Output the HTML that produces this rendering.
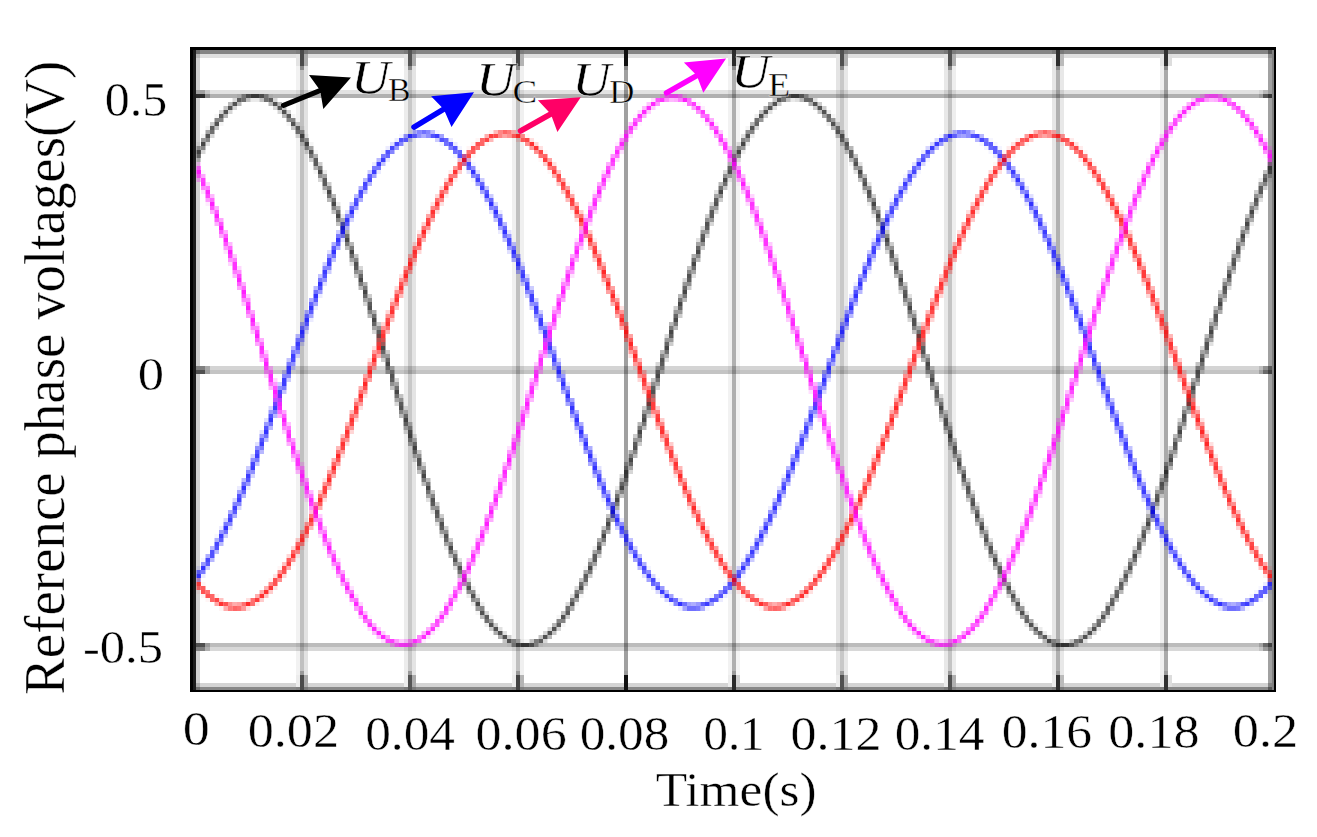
<!DOCTYPE html>
<html><head><meta charset="utf-8"><title>Reference phase voltages</title>
<style>html,body{margin:0;padding:0;background:#fff;width:1317px;height:837px;overflow:hidden}svg{display:block}text{stroke:#fff;stroke-width:0.4px;stroke-linejoin:round}</style>
</head><body>
<svg width="1317" height="837" viewBox="0 0 1317 837" shape-rendering="crispEdges">
<rect x="0" y="0" width="1317" height="837" fill="#fff"/>
<rect x="196" y="50" width="1077" height="4" fill="#858585" />
<rect x="196" y="54" width="1077" height="4" fill="#e0e0e0" />
<rect x="196" y="90" width="1077" height="4" fill="#e2e2e2" />
<rect x="196" y="94" width="1077" height="4" fill="#b0b0b0" />
<rect x="196" y="366" width="1077" height="4" fill="#d4d4d4" />
<rect x="196" y="370" width="1077" height="4" fill="#c4c4c4" />
<rect x="196" y="643" width="1077" height="4" fill="#bcbcbc" />
<rect x="196" y="647" width="1077" height="4" fill="#d8d8d8" />
<rect x="196" y="683" width="1077" height="4" fill="#d4d4d4" />
<rect x="196" y="687" width="1077" height="3" fill="#888888" />
<rect x="296" y="50" width="4" height="640" fill="rgba(0,0,0,0.051)" />
<rect x="304" y="50" width="4" height="640" fill="rgba(0,0,0,0.114)" />
<rect x="300" y="50" width="4" height="640" fill="rgba(0,0,0,0.247)" />
<rect x="300" y="50" width="4" height="16" fill="#4a4a4a" />
<rect x="300" y="66" width="4" height="4" fill="#888888" />
<rect x="304" y="54" width="4" height="12" fill="#ababab" />
<rect x="296" y="54" width="4" height="12" fill="#e4e4e4" />
<rect x="300" y="675" width="4" height="15" fill="#4a4a4a" />
<rect x="300" y="671" width="4" height="4" fill="#999999" />
<rect x="304" y="675" width="4" height="12" fill="#ababab" />
<rect x="296" y="675" width="4" height="12" fill="#ececec" />
<rect x="404" y="50" width="4" height="640" fill="rgba(0,0,0,0.075)" />
<rect x="412" y="50" width="4" height="640" fill="rgba(0,0,0,0.106)" />
<rect x="408" y="50" width="4" height="640" fill="rgba(0,0,0,0.216)" />
<rect x="408" y="50" width="4" height="16" fill="#555555" />
<rect x="408" y="66" width="4" height="4" fill="#888888" />
<rect x="412" y="54" width="4" height="12" fill="#ababab" />
<rect x="404" y="54" width="4" height="12" fill="#e4e4e4" />
<rect x="408" y="675" width="4" height="15" fill="#555555" />
<rect x="408" y="671" width="4" height="4" fill="#999999" />
<rect x="412" y="675" width="4" height="12" fill="#ababab" />
<rect x="404" y="675" width="4" height="12" fill="#ececec" />
<rect x="512" y="50" width="4" height="640" fill="rgba(0,0,0,0.059)" />
<rect x="520" y="50" width="4" height="640" fill="rgba(0,0,0,0.059)" />
<rect x="516" y="50" width="4" height="640" fill="rgba(0,0,0,0.247)" />
<rect x="516" y="50" width="4" height="16" fill="#444444" />
<rect x="516" y="66" width="4" height="4" fill="#888888" />
<rect x="520" y="54" width="4" height="12" fill="#b4b4b4" />
<rect x="512" y="54" width="4" height="12" fill="#e4e4e4" />
<rect x="516" y="675" width="4" height="15" fill="#444444" />
<rect x="516" y="671" width="4" height="4" fill="#999999" />
<rect x="520" y="675" width="4" height="12" fill="#b4b4b4" />
<rect x="512" y="675" width="4" height="12" fill="#ececec" />
<rect x="624" y="50" width="4" height="640" fill="rgba(0,0,0,0.373)" />
<rect x="624" y="50" width="4" height="16" fill="#111111" />
<rect x="624" y="66" width="4" height="4" fill="#888888" />
<rect x="624" y="675" width="4" height="15" fill="#111111" />
<rect x="624" y="671" width="4" height="4" fill="#999999" />
<rect x="728" y="50" width="4" height="640" fill="rgba(0,0,0,0.051)" />
<rect x="736" y="50" width="4" height="640" fill="rgba(0,0,0,0.043)" />
<rect x="732" y="50" width="4" height="640" fill="rgba(0,0,0,0.310)" />
<rect x="732" y="50" width="4" height="16" fill="#2a2a2a" />
<rect x="732" y="66" width="4" height="4" fill="#888888" />
<rect x="736" y="54" width="4" height="12" fill="#d0d0d0" />
<rect x="728" y="54" width="4" height="12" fill="#e4e4e4" />
<rect x="732" y="675" width="4" height="15" fill="#2a2a2a" />
<rect x="732" y="671" width="4" height="4" fill="#999999" />
<rect x="736" y="675" width="4" height="12" fill="#d0d0d0" />
<rect x="728" y="675" width="4" height="12" fill="#ececec" />
<rect x="836" y="50" width="4" height="640" fill="rgba(0,0,0,0.106)" />
<rect x="844" y="50" width="4" height="640" fill="rgba(0,0,0,0.090)" />
<rect x="840" y="50" width="4" height="640" fill="rgba(0,0,0,0.216)" />
<rect x="840" y="50" width="4" height="16" fill="#505050" />
<rect x="840" y="66" width="4" height="4" fill="#888888" />
<rect x="844" y="54" width="4" height="12" fill="#b0b0b0" />
<rect x="836" y="54" width="4" height="12" fill="#e4e4e4" />
<rect x="840" y="675" width="4" height="15" fill="#505050" />
<rect x="840" y="671" width="4" height="4" fill="#999999" />
<rect x="844" y="675" width="4" height="12" fill="#b0b0b0" />
<rect x="836" y="675" width="4" height="12" fill="#ececec" />
<rect x="944" y="50" width="4" height="640" fill="rgba(0,0,0,0.090)" />
<rect x="952" y="50" width="4" height="640" fill="rgba(0,0,0,0.067)" />
<rect x="948" y="50" width="4" height="640" fill="rgba(0,0,0,0.231)" />
<rect x="948" y="50" width="4" height="16" fill="#505050" />
<rect x="948" y="66" width="4" height="4" fill="#888888" />
<rect x="952" y="54" width="4" height="12" fill="#b0b0b0" />
<rect x="944" y="54" width="4" height="12" fill="#e4e4e4" />
<rect x="948" y="675" width="4" height="15" fill="#505050" />
<rect x="948" y="671" width="4" height="4" fill="#999999" />
<rect x="952" y="675" width="4" height="12" fill="#b0b0b0" />
<rect x="944" y="675" width="4" height="12" fill="#ececec" />
<rect x="1052" y="50" width="4" height="640" fill="rgba(0,0,0,0.098)" />
<rect x="1060" y="50" width="4" height="640" fill="rgba(0,0,0,0.090)" />
<rect x="1056" y="50" width="4" height="640" fill="rgba(0,0,0,0.310)" />
<rect x="1056" y="50" width="4" height="16" fill="#2e2e2e" />
<rect x="1056" y="66" width="4" height="4" fill="#888888" />
<rect x="1060" y="54" width="4" height="12" fill="#bbbbbb" />
<rect x="1052" y="54" width="4" height="12" fill="#e4e4e4" />
<rect x="1056" y="675" width="4" height="15" fill="#2e2e2e" />
<rect x="1056" y="671" width="4" height="4" fill="#999999" />
<rect x="1060" y="675" width="4" height="12" fill="#bbbbbb" />
<rect x="1052" y="675" width="4" height="12" fill="#ececec" />
<rect x="1160" y="50" width="4" height="640" fill="rgba(0,0,0,0.059)" />
<rect x="1164" y="50" width="4" height="640" fill="rgba(0,0,0,0.333)" />
<rect x="1164" y="50" width="4" height="16" fill="#303030" />
<rect x="1164" y="66" width="4" height="4" fill="#888888" />
<rect x="1168" y="54" width="4" height="12" fill="#dddddd" />
<rect x="1160" y="54" width="4" height="12" fill="#e4e4e4" />
<rect x="1164" y="675" width="4" height="15" fill="#303030" />
<rect x="1164" y="671" width="4" height="4" fill="#999999" />
<rect x="1168" y="675" width="4" height="12" fill="#dddddd" />
<rect x="1160" y="675" width="4" height="12" fill="#ececec" />
<rect x="196" y="50" width="4" height="640" fill="rgba(0,0,0,0.185)" />
<rect x="1268" y="50" width="4" height="640" fill="rgba(0,0,0,0.37)" />
<rect x="1272" y="50" width="2" height="640" fill="#808080" />
<rect x="196" y="90" width="9" height="4" fill="#a0a0a0" />
<rect x="205" y="90" width="5" height="4" fill="#c8c8c8" />
<rect x="196" y="94" width="9" height="4" fill="#2a2a2a" />
<rect x="205" y="94" width="5" height="4" fill="#888888" />
<rect x="196" y="366" width="9" height="4" fill="#808080" />
<rect x="205" y="366" width="5" height="4" fill="#a8a8a8" />
<rect x="196" y="370" width="9" height="4" fill="#505050" />
<rect x="205" y="370" width="5" height="4" fill="#a0a0a0" />
<rect x="196" y="643" width="9" height="4" fill="#505050" />
<rect x="205" y="643" width="5" height="4" fill="#9a9a9a" />
<rect x="196" y="647" width="9" height="4" fill="#808080" />
<rect x="205" y="647" width="5" height="4" fill="#b0b0b0" />
<rect x="1268" y="90" width="4" height="4" fill="#9a9a9a" />
<rect x="1263" y="90" width="5" height="4" fill="#b8b8b8" />
<rect x="1259" y="90" width="4" height="4" fill="#d4d4d4" />
<rect x="1268" y="94" width="4" height="4" fill="#333333" />
<rect x="1263" y="94" width="5" height="4" fill="#555555" />
<rect x="1259" y="94" width="4" height="4" fill="#999999" />
<rect x="1268" y="366" width="4" height="4" fill="#5a5a5a" />
<rect x="1263" y="366" width="5" height="4" fill="#909090" />
<rect x="1259" y="366" width="4" height="4" fill="#bcbcbc" />
<rect x="1268" y="370" width="4" height="4" fill="#404040" />
<rect x="1263" y="370" width="5" height="4" fill="#6a6a6a" />
<rect x="1259" y="370" width="4" height="4" fill="#a0a0a0" />
<rect x="1268" y="643" width="4" height="4" fill="#404040" />
<rect x="1263" y="643" width="5" height="4" fill="#6a6a6a" />
<rect x="1259" y="643" width="4" height="4" fill="#a0a0a0" />
<rect x="1268" y="647" width="4" height="4" fill="#707070" />
<rect x="1263" y="647" width="5" height="4" fill="#9a9a9a" />
<rect x="1259" y="647" width="4" height="4" fill="#c4c4c4" />
<g shape-rendering="crispEdges">
<path d="M196.5 142h4.5v4h-4.5zM201 134h4.5v4h-4.5zM205.5 126h4.5v4h-4.5zM214.5 114h4.5v4h-4.5zM219 122h4.5v4h-4.5zM237 94h4.5v4h-4.5zM268.5 94h4.5v4h-4.5zM286.5 122h4.5v4h-4.5zM291 114h4.5v4h-4.5zM300 126h4.5v4h-4.5zM304.5 134h4.5v4h-4.5zM309 142h4.5v4h-4.5zM313.5 150h4.5v4h-4.5zM313.5 170h4.5v4h-4.5zM475.5 611h4.5v4h-4.5zM489 615h4.5v4h-4.5zM507 643h4.5v4h-4.5zM520.5 639h4.5v4h-4.5zM525 639h4.5v4h-4.5zM538.5 643h4.5v4h-4.5zM556.5 615h4.5v4h-4.5zM561 623h4.5v4h-4.5zM574.5 602h4.5v4h-4.5zM579 594h4.5v4h-4.5zM583.5 566h4.5v4h-4.5zM583.5 586h4.5v4h-4.5zM727.5 158h4.5v4h-4.5zM745.5 126h4.5v4h-4.5zM777 94h4.5v4h-4.5zM831 114h4.5v4h-4.5zM849 162h4.5v4h-4.5zM997.5 558h4.5v4h-4.5zM997.5 578h4.5v4h-4.5zM1011 586h4.5v4h-4.5zM1015.5 594h4.5v4h-4.5zM1020 602h4.5v4h-4.5zM1060.5 639h4.5v4h-4.5zM1119 574h4.5v4h-4.5zM1267.5 178h4.5v4h-4.5z" fill="#000000" fill-opacity="0.04" shape-rendering="geometricPrecision"/>
<path d="M250.5 98h4.5v4h-4.5zM255 98h4.5v4h-4.5zM322.5 170h4.5v4h-4.5zM322.5 190h4.5v4h-4.5zM336 202h4.5v4h-4.5zM340.5 214h4.5v4h-4.5zM345 226h4.5v4h-4.5zM444 546h4.5v4h-4.5zM462 586h4.5v4h-4.5zM466.5 594h4.5v4h-4.5zM471 586h4.5v4h-4.5zM471 602h4.5v4h-4.5zM475.5 594h4.5v4h-4.5zM480 602h4.5v4h-4.5zM484.5 623h4.5v4h-4.5zM592.5 546h4.5v4h-4.5zM592.5 566h4.5v4h-4.5zM615 486h4.5v4h-4.5zM727.5 178h4.5v4h-4.5zM732 150h4.5v4h-4.5zM741 150h4.5v4h-4.5zM745.5 142h4.5v4h-4.5zM750 134h4.5v4h-4.5zM754.5 114h4.5v4h-4.5zM790.5 98h4.5v4h-4.5zM826.5 110h4.5v4h-4.5zM826.5 122h4.5v4h-4.5zM867 202h4.5v4h-4.5zM871.5 214h4.5v4h-4.5zM876 226h4.5v4h-4.5zM979.5 514h4.5v4h-4.5zM988.5 558h4.5v4h-4.5zM1006.5 578h4.5v4h-4.5zM1015.5 611h4.5v4h-4.5zM1038 627h4.5v4h-4.5zM1042.5 631h4.5v4h-4.5zM1047 643h4.5v4h-4.5zM1065 639h4.5v4h-4.5zM1096.5 615h4.5v4h-4.5zM1096.5 627h4.5v4h-4.5zM1141.5 522h4.5v4h-4.5zM1245 234h4.5v4h-4.5zM1249.5 222h4.5v4h-4.5zM1254 210h4.5v4h-4.5zM1258.5 178h4.5v4h-4.5zM1267.5 158h4.5v4h-4.5z" fill="#000000" fill-opacity="0.08" shape-rendering="geometricPrecision"/>
<path d="M205.5 142h4.5v4h-4.5zM300 142h4.5v4h-4.5zM349.5 262h4.5v4h-4.5zM403.5 406h4.5v4h-4.5zM412.5 434h4.5v4h-4.5zM426 498h4.5v4h-4.5zM430.5 510h4.5v4h-4.5zM435 522h4.5v4h-4.5zM439.5 534h4.5v4h-4.5zM453 566h4.5v4h-4.5zM457.5 558h4.5v4h-4.5zM498 627h4.5v4h-4.5zM502.5 631h4.5v4h-4.5zM570 594h4.5v4h-4.5zM664.5 358h4.5v4h-4.5zM691.5 274h4.5v4h-4.5zM696 238h4.5v4h-4.5zM714 190h4.5v4h-4.5zM736.5 142h4.5v4h-4.5zM736.5 158h4.5v4h-4.5zM741 134h4.5v4h-4.5zM768 110h4.5v4h-4.5zM772.5 106h4.5v4h-4.5zM795 98h4.5v4h-4.5zM813 98h4.5v4h-4.5zM853.5 170h4.5v4h-4.5zM858 162h4.5v4h-4.5zM867 182h4.5v4h-4.5zM880.5 238h4.5v4h-4.5zM907.5 294h4.5v4h-4.5zM916.5 322h4.5v4h-4.5zM975 502h4.5v4h-4.5zM984 526h4.5v4h-4.5zM988.5 538h4.5v4h-4.5zM1002 586h4.5v4h-4.5zM1024.5 611h4.5v4h-4.5zM1024.5 623h4.5v4h-4.5zM1033.5 623h4.5v4h-4.5zM1083 639h4.5v4h-4.5zM1105.5 615h4.5v4h-4.5zM1123.5 566h4.5v4h-4.5zM1128 574h4.5v4h-4.5zM1137 534h4.5v4h-4.5zM1137 554h4.5v4h-4.5zM1146 510h4.5v4h-4.5zM1150.5 498h4.5v4h-4.5zM1164 482h4.5v4h-4.5zM1209 342h4.5v4h-4.5zM1227 262h4.5v4h-4.5zM1227 286h4.5v4h-4.5zM1240.5 246h4.5v4h-4.5zM1258.5 198h4.5v4h-4.5z" fill="#000000" fill-opacity="0.12" shape-rendering="geometricPrecision"/>
<path d="M201 150h4.5v4h-4.5zM210 134h4.5v4h-4.5zM219 110h4.5v4h-4.5zM228 110h4.5v4h-4.5zM232.5 98h4.5v4h-4.5zM232.5 106h4.5v4h-4.5zM273 98h4.5v4h-4.5zM273 106h4.5v4h-4.5zM277.5 110h4.5v4h-4.5zM286.5 110h4.5v4h-4.5zM295.5 134h4.5v4h-4.5zM304.5 150h4.5v4h-4.5zM318 178h4.5v4h-4.5zM358.5 266h4.5v4h-4.5zM363 302h4.5v4h-4.5zM372 330h4.5v4h-4.5zM394.5 378h4.5v4h-4.5zM394.5 402h4.5v4h-4.5zM403.5 430h4.5v4h-4.5zM412.5 458h4.5v4h-4.5zM421.5 462h4.5v4h-4.5zM466.5 578h4.5v4h-4.5zM484.5 611h4.5v4h-4.5zM543 631h4.5v4h-4.5zM543 639h4.5v4h-4.5zM547.5 627h4.5v4h-4.5zM556.5 627h4.5v4h-4.5zM565.5 602h4.5v4h-4.5zM574.5 586h4.5v4h-4.5zM619.5 474h4.5v4h-4.5zM628.5 470h4.5v4h-4.5zM655.5 362h4.5v4h-4.5zM655.5 386h4.5v4h-4.5zM664.5 334h4.5v4h-4.5zM682.5 278h4.5v4h-4.5zM700.5 226h4.5v4h-4.5zM705 234h4.5v4h-4.5zM709.5 202h4.5v4h-4.5zM709.5 222h4.5v4h-4.5zM714 210h4.5v4h-4.5zM723 170h4.5v4h-4.5zM754.5 126h4.5v4h-4.5zM835.5 122h4.5v4h-4.5zM862.5 190h4.5v4h-4.5zM885 250h4.5v4h-4.5zM894 254h4.5v4h-4.5zM898.5 290h4.5v4h-4.5zM907.5 318h4.5v4h-4.5zM916.5 346h4.5v4h-4.5zM939 394h4.5v4h-4.5zM939 418h4.5v4h-4.5zM948 422h4.5v4h-4.5zM948 446h4.5v4h-4.5zM957 450h4.5v4h-4.5zM961.5 486h4.5v4h-4.5zM970.5 490h4.5v4h-4.5zM984 546h4.5v4h-4.5zM1002 570h4.5v4h-4.5zM1006.5 594h4.5v4h-4.5zM1011 602h4.5v4h-4.5zM1047 635h4.5v4h-4.5zM1056 639h4.5v4h-4.5zM1132.5 546h4.5v4h-4.5zM1155 486h4.5v4h-4.5zM1168.5 446h4.5v4h-4.5zM1177.5 418h4.5v4h-4.5zM1200 346h4.5v4h-4.5zM1200 370h4.5v4h-4.5zM1209 318h4.5v4h-4.5zM1218 290h4.5v4h-4.5zM1231.5 250h4.5v4h-4.5z" fill="#000000" fill-opacity="0.16" shape-rendering="geometricPrecision"/>
<path d="M196.5 158h4.5v4h-4.5zM210 122h4.5v4h-4.5zM295.5 122h4.5v4h-4.5zM309 158h4.5v4h-4.5zM318 162h4.5v4h-4.5zM327 182h4.5v4h-4.5zM354 274h4.5v4h-4.5zM367.5 294h4.5v4h-4.5zM376.5 322h4.5v4h-4.5zM381 358h4.5v4h-4.5zM385.5 350h4.5v4h-4.5zM435 502h4.5v4h-4.5zM439.5 514h4.5v4h-4.5zM444 526h4.5v4h-4.5zM448.5 538h4.5v4h-4.5zM489 627h4.5v4h-4.5zM493.5 623h4.5v4h-4.5zM507 635h4.5v4h-4.5zM516 639h4.5v4h-4.5zM565.5 615h4.5v4h-4.5zM588 558h4.5v4h-4.5zM588 574h4.5v4h-4.5zM597 554h4.5v4h-4.5zM624 482h4.5v4h-4.5zM633 434h4.5v4h-4.5zM637.5 442h4.5v4h-4.5zM642 406h4.5v4h-4.5zM646.5 414h4.5v4h-4.5zM669 342h4.5v4h-4.5zM673.5 306h4.5v4h-4.5zM678 314h4.5v4h-4.5zM687 286h4.5v4h-4.5zM700.5 246h4.5v4h-4.5zM705 214h4.5v4h-4.5zM718.5 198h4.5v4h-4.5zM763.5 114h4.5v4h-4.5zM777 102h4.5v4h-4.5zM813 106h4.5v4h-4.5zM817.5 102h4.5v4h-4.5zM822 106h4.5v4h-4.5zM840 142h4.5v4h-4.5zM871.5 194h4.5v4h-4.5zM889.5 242h4.5v4h-4.5zM889.5 262h4.5v4h-4.5zM925.5 374h4.5v4h-4.5zM930 366h4.5v4h-4.5zM966 478h4.5v4h-4.5zM966 498h4.5v4h-4.5zM979.5 534h4.5v4h-4.5zM993 550h4.5v4h-4.5zM1083 631h4.5v4h-4.5zM1087.5 635h4.5v4h-4.5zM1092 631h4.5v4h-4.5zM1123.5 582h4.5v4h-4.5zM1141.5 542h4.5v4h-4.5zM1146 530h4.5v4h-4.5zM1155 506h4.5v4h-4.5zM1159.5 494h4.5v4h-4.5zM1173 454h4.5v4h-4.5zM1182 426h4.5v4h-4.5zM1186.5 390h4.5v4h-4.5zM1191 398h4.5v4h-4.5zM1222.5 298h4.5v4h-4.5zM1236 258h4.5v4h-4.5zM1254 190h4.5v4h-4.5zM1263 186h4.5v4h-4.5z" fill="#000000" fill-opacity="0.20" shape-rendering="geometricPrecision"/>
<path d="M214.5 126h4.5v4h-4.5zM223.5 106h4.5v4h-4.5zM246 98h4.5v4h-4.5zM259.5 98h4.5v4h-4.5zM282 106h4.5v4h-4.5zM291 126h4.5v4h-4.5zM331.5 210h4.5v4h-4.5zM336 222h4.5v4h-4.5zM340.5 234h4.5v4h-4.5zM354 254h4.5v4h-4.5zM390 386h4.5v4h-4.5zM399 394h4.5v4h-4.5zM408 422h4.5v4h-4.5zM417 450h4.5v4h-4.5zM417 470h4.5v4h-4.5zM430.5 490h4.5v4h-4.5zM462 570h4.5v4h-4.5zM502.5 639h4.5v4h-4.5zM529.5 639h4.5v4h-4.5zM538.5 635h4.5v4h-4.5zM552 631h4.5v4h-4.5zM561 611h4.5v4h-4.5zM579 578h4.5v4h-4.5zM601.5 526h4.5v4h-4.5zM601.5 542h4.5v4h-4.5zM606 514h4.5v4h-4.5zM619.5 494h4.5v4h-4.5zM624 462h4.5v4h-4.5zM651 378h4.5v4h-4.5zM660 370h4.5v4h-4.5zM687 266h4.5v4h-4.5zM723 186h4.5v4h-4.5zM732 166h4.5v4h-4.5zM759 110h4.5v4h-4.5zM772.5 98h4.5v4h-4.5zM786 98h4.5v4h-4.5zM817.5 110h4.5v4h-4.5zM835.5 134h4.5v4h-4.5zM840 130h4.5v4h-4.5zM844.5 150h4.5v4h-4.5zM853.5 154h4.5v4h-4.5zM858 178h4.5v4h-4.5zM876 206h4.5v4h-4.5zM880.5 218h4.5v4h-4.5zM885 230h4.5v4h-4.5zM903 282h4.5v4h-4.5zM903 302h4.5v4h-4.5zM912 310h4.5v4h-4.5zM912 330h4.5v4h-4.5zM921 338h4.5v4h-4.5zM934.5 402h4.5v4h-4.5zM943.5 410h4.5v4h-4.5zM943.5 430h4.5v4h-4.5zM952.5 438h4.5v4h-4.5zM952.5 458h4.5v4h-4.5zM970.5 510h4.5v4h-4.5zM975 522h4.5v4h-4.5zM993 566h4.5v4h-4.5zM1069.5 639h4.5v4h-4.5zM1087.5 627h4.5v4h-4.5zM1105.5 602h4.5v4h-4.5zM1110 594h4.5v4h-4.5zM1110 606h4.5v5h-4.5zM1114.5 586h4.5v4h-4.5zM1150.5 518h4.5v4h-4.5zM1159.5 474h4.5v4h-4.5zM1195.5 362h4.5v4h-4.5zM1204.5 354h4.5v4h-4.5zM1213.5 326h4.5v4h-4.5zM1222.5 278h4.5v4h-4.5zM1231.5 270h4.5v4h-4.5zM1236 238h4.5v4h-4.5zM1240.5 226h4.5v4h-4.5zM1245 214h4.5v4h-4.5zM1249.5 202h4.5v4h-4.5zM1263 170h4.5v4h-4.5z" fill="#000000" fill-opacity="0.24" shape-rendering="geometricPrecision"/>
<path d="M223.5 114h4.5v4h-4.5zM228 102h4.5v4h-4.5zM237 102h4.5v4h-4.5zM268.5 102h4.5v4h-4.5zM277.5 102h4.5v4h-4.5zM282 114h4.5v4h-4.5zM327 198h4.5v4h-4.5zM331.5 194h4.5v4h-4.5zM345 246h4.5v4h-4.5zM349.5 242h4.5v4h-4.5zM358.5 286h4.5v4h-4.5zM367.5 314h4.5v4h-4.5zM376.5 342h4.5v4h-4.5zM390 366h4.5v4h-4.5zM399 414h4.5v4h-4.5zM408 442h4.5v4h-4.5zM421.5 482h4.5v4h-4.5zM426 478h4.5v4h-4.5zM448.5 554h4.5v4h-4.5zM453 550h4.5v4h-4.5zM457.5 574h4.5v4h-4.5zM480 615h4.5v4h-4.5zM547.5 635h4.5v4h-4.5zM552 623h4.5v4h-4.5zM583.5 582h4.5v4h-4.5zM610.5 502h4.5v4h-4.5zM633 454h4.5v4h-4.5zM637.5 422h4.5v4h-4.5zM642 426h4.5v4h-4.5zM651 398h4.5v4h-4.5zM660 350h4.5v4h-4.5zM669 322h4.5v4h-4.5zM673.5 326h4.5v4h-4.5zM678 294h4.5v4h-4.5zM682.5 298h4.5v4h-4.5zM696 258h4.5v4h-4.5zM718.5 182h4.5v4h-4.5zM727.5 162h4.5v4h-4.5zM750 122h4.5v4h-4.5zM799.5 98h4.5v4h-4.5zM804 94h4.5v4h-4.5zM844.5 138h4.5v4h-4.5zM849 146h4.5v4h-4.5zM849 158h4.5v4h-4.5zM862.5 174h4.5v4h-4.5zM894 274h4.5v4h-4.5zM921 358h4.5v4h-4.5zM934.5 382h4.5v4h-4.5zM961.5 466h4.5v4h-4.5zM1029 627h4.5v4h-4.5zM1042.5 639h4.5v4h-4.5zM1074 643h4.5v4h-4.5zM1114.5 598h4.5v4h-4.5zM1119 590h4.5v4h-4.5zM1128 558h4.5v4h-4.5zM1132.5 562h4.5v4h-4.5zM1168.5 466h4.5v4h-4.5zM1173 434h4.5v4h-4.5zM1182 406h4.5v4h-4.5zM1195.5 382h4.5v4h-4.5zM1204.5 334h4.5v4h-4.5zM1213.5 306h4.5v4h-4.5zM1267.5 174h4.5v4h-4.5z" fill="#000000" fill-opacity="0.28" shape-rendering="geometricPrecision"/>
<path d="M241.5 94h4.5v4h-4.5zM264 94h4.5v4h-4.5zM313.5 154h4.5v4h-4.5zM313.5 166h4.5v4h-4.5zM336 206h4.5v4h-4.5zM340.5 218h4.5v4h-4.5zM345 230h4.5v4h-4.5zM363 282h4.5v4h-4.5zM372 310h4.5v4h-4.5zM381 338h4.5v4h-4.5zM385.5 370h4.5v4h-4.5zM403.5 410h4.5v4h-4.5zM412.5 438h4.5v4h-4.5zM493.5 631h4.5v4h-4.5zM498 635h4.5v4h-4.5zM534 643h4.5v4h-4.5zM570 606h4.5v5h-4.5zM597 538h4.5v4h-4.5zM606 530h4.5v4h-4.5zM610.5 518h4.5v4h-4.5zM615 490h4.5v4h-4.5zM615 506h4.5v4h-4.5zM628.5 450h4.5v4h-4.5zM646.5 394h4.5v4h-4.5zM664.5 354h4.5v4h-4.5zM691.5 254h4.5v4h-4.5zM763.5 106h4.5v4h-4.5zM768 102h4.5v4h-4.5zM808.5 102h4.5v4h-4.5zM831 126h4.5v4h-4.5zM871.5 210h4.5v4h-4.5zM876 222h4.5v4h-4.5zM880.5 234h4.5v4h-4.5zM898.5 270h4.5v4h-4.5zM925.5 354h4.5v4h-4.5zM930 386h4.5v4h-4.5zM957 470h4.5v4h-4.5zM979.5 518h4.5v4h-4.5zM997.5 562h4.5v4h-4.5zM1011 590h4.5v4h-4.5zM1015.5 598h4.5v4h-4.5zM1029 619h4.5v4h-4.5zM1078.5 635h4.5v4h-4.5zM1119 578h4.5v4h-4.5zM1146 514h4.5v4h-4.5zM1164 462h4.5v4h-4.5zM1177.5 438h4.5v4h-4.5zM1186.5 410h4.5v4h-4.5zM1191 378h4.5v4h-4.5zM1218 310h4.5v4h-4.5zM1227 266h4.5v4h-4.5zM1245 230h4.5v4h-4.5zM1249.5 218h4.5v4h-4.5zM1254 206h4.5v4h-4.5z" fill="#000000" fill-opacity="0.32" shape-rendering="geometricPrecision"/>
<path d="M196.5 146h4.5v4h-4.5zM205.5 130h4.5v4h-4.5zM300 130h4.5v4h-4.5zM309 146h4.5v4h-4.5zM322.5 174h4.5v4h-4.5zM322.5 186h4.5v4h-4.5zM349.5 258h4.5v4h-4.5zM363 298h4.5v4h-4.5zM372 326h4.5v4h-4.5zM394.5 382h4.5v4h-4.5zM394.5 398h4.5v4h-4.5zM403.5 426h4.5v4h-4.5zM412.5 454h4.5v4h-4.5zM421.5 466h4.5v4h-4.5zM426 494h4.5v4h-4.5zM444 542h4.5v4h-4.5zM462 582h4.5v4h-4.5zM511.5 643h4.5v4h-4.5zM574.5 598h4.5v4h-4.5zM579 590h4.5v4h-4.5zM583.5 570h4.5v4h-4.5zM592.5 550h4.5v4h-4.5zM592.5 562h4.5v4h-4.5zM619.5 478h4.5v4h-4.5zM628.5 466h4.5v4h-4.5zM655.5 366h4.5v4h-4.5zM655.5 382h4.5v4h-4.5zM691.5 270h4.5v4h-4.5zM696 242h4.5v4h-4.5zM714 194h4.5v4h-4.5zM727.5 174h4.5v4h-4.5zM781.5 94h4.5v4h-4.5zM822 114h4.5v4h-4.5zM867 198h4.5v4h-4.5zM885 246h4.5v4h-4.5zM898.5 286h4.5v4h-4.5zM907.5 298h4.5v4h-4.5zM907.5 314h4.5v4h-4.5zM916.5 326h4.5v4h-4.5zM916.5 342h4.5v4h-4.5zM939 398h4.5v4h-4.5zM939 414h4.5v4h-4.5zM948 426h4.5v4h-4.5zM948 442h4.5v4h-4.5zM957 454h4.5v4h-4.5zM961.5 482h4.5v4h-4.5zM975 506h4.5v4h-4.5zM984 530h4.5v4h-4.5zM988.5 554h4.5v4h-4.5zM997.5 574h4.5v4h-4.5zM1020 615h4.5v4h-4.5zM1092 623h4.5v4h-4.5zM1101 611h4.5v4h-4.5zM1101 619h4.5v4h-4.5zM1137 550h4.5v4h-4.5zM1141.5 526h4.5v4h-4.5zM1150.5 502h4.5v4h-4.5zM1164 478h4.5v4h-4.5zM1177.5 422h4.5v4h-4.5zM1200 350h4.5v4h-4.5zM1200 366h4.5v4h-4.5zM1209 322h4.5v4h-4.5zM1209 338h4.5v4h-4.5zM1218 294h4.5v4h-4.5zM1227 282h4.5v4h-4.5zM1240.5 242h4.5v4h-4.5zM1258.5 182h4.5v4h-4.5zM1258.5 194h4.5v4h-4.5zM1267.5 162h4.5v4h-4.5z" fill="#000000" fill-opacity="0.36" shape-rendering="geometricPrecision"/>
<path d="M201 138h4.5v4h-4.5zM304.5 138h4.5v4h-4.5zM358.5 270h4.5v4h-4.5zM381 354h4.5v4h-4.5zM385.5 354h4.5v4h-4.5zM430.5 506h4.5v4h-4.5zM435 518h4.5v4h-4.5zM439.5 530h4.5v4h-4.5zM457.5 562h4.5v4h-4.5zM475.5 598h4.5v4h-4.5zM475.5 606h4.5v5h-4.5zM489 619h4.5v4h-4.5zM633 438h4.5v4h-4.5zM637.5 438h4.5v4h-4.5zM642 410h4.5v4h-4.5zM646.5 410h4.5v4h-4.5zM664.5 338h4.5v4h-4.5zM669 338h4.5v4h-4.5zM673.5 310h4.5v4h-4.5zM678 310h4.5v4h-4.5zM682.5 282h4.5v4h-4.5zM700.5 230h4.5v4h-4.5zM705 230h4.5v4h-4.5zM709.5 206h4.5v4h-4.5zM709.5 218h4.5v4h-4.5zM714 206h4.5v4h-4.5zM732 154h4.5v4h-4.5zM741 146h4.5v4h-4.5zM745.5 138h4.5v4h-4.5zM759 118h4.5v4h-4.5zM831 118h4.5v4h-4.5zM853.5 166h4.5v4h-4.5zM867 186h4.5v4h-4.5zM894 258h4.5v4h-4.5zM925.5 370h4.5v4h-4.5zM930 370h4.5v4h-4.5zM970.5 494h4.5v4h-4.5zM988.5 542h4.5v4h-4.5zM1006.5 582h4.5v4h-4.5zM1020 606h4.5v5h-4.5zM1033.5 631h4.5v4h-4.5zM1038 635h4.5v4h-4.5zM1051.5 643h4.5v4h-4.5zM1128 570h4.5v4h-4.5zM1137 538h4.5v4h-4.5zM1155 490h4.5v4h-4.5zM1159.5 490h4.5v4h-4.5zM1168.5 450h4.5v4h-4.5zM1173 450h4.5v4h-4.5zM1186.5 394h4.5v4h-4.5zM1191 394h4.5v4h-4.5zM1231.5 254h4.5v4h-4.5zM1236 254h4.5v4h-4.5z" fill="#000000" fill-opacity="0.40" shape-rendering="geometricPrecision"/>
<path d="M318 174h4.5v4h-4.5zM354 270h4.5v4h-4.5zM367.5 298h4.5v4h-4.5zM376.5 326h4.5v4h-4.5zM390 382h4.5v4h-4.5zM399 398h4.5v4h-4.5zM408 426h4.5v4h-4.5zM417 454h4.5v4h-4.5zM417 466h4.5v4h-4.5zM435 506h4.5v4h-4.5zM439.5 518h4.5v4h-4.5zM444 530h4.5v4h-4.5zM453 562h4.5v4h-4.5zM466.5 590h4.5v4h-4.5zM471 590h4.5v4h-4.5zM471 598h4.5v4h-4.5zM624 466h4.5v4h-4.5zM624 478h4.5v4h-4.5zM651 382h4.5v4h-4.5zM660 366h4.5v4h-4.5zM687 282h4.5v4h-4.5zM700.5 242h4.5v4h-4.5zM705 218h4.5v4h-4.5zM718.5 194h4.5v4h-4.5zM723 174h4.5v4h-4.5zM736.5 146h4.5v4h-4.5zM736.5 154h4.5v4h-4.5zM745.5 130h4.5v4h-4.5zM858 166h4.5v4h-4.5zM862.5 186h4.5v4h-4.5zM889.5 246h4.5v4h-4.5zM889.5 258h4.5v4h-4.5zM903 286h4.5v4h-4.5zM912 314h4.5v4h-4.5zM921 342h4.5v4h-4.5zM934.5 398h4.5v4h-4.5zM943.5 414h4.5v4h-4.5zM952.5 442h4.5v4h-4.5zM952.5 454h4.5v4h-4.5zM966 482h4.5v4h-4.5zM966 494h4.5v4h-4.5zM970.5 506h4.5v4h-4.5zM979.5 530h4.5v4h-4.5zM984 542h4.5v4h-4.5zM1002 582h4.5v4h-4.5zM1051.5 639h4.5v4h-4.5zM1123.5 570h4.5v4h-4.5zM1132.5 550h4.5v4h-4.5zM1141.5 538h4.5v4h-4.5zM1155 502h4.5v4h-4.5zM1159.5 478h4.5v4h-4.5zM1182 422h4.5v4h-4.5zM1195.5 366h4.5v4h-4.5zM1204.5 350h4.5v4h-4.5zM1213.5 322h4.5v4h-4.5zM1222.5 294h4.5v4h-4.5zM1236 242h4.5v4h-4.5zM1254 194h4.5v4h-4.5z" fill="#000000" fill-opacity="0.44" shape-rendering="geometricPrecision"/>
<path d="M201 146h4.5v4h-4.5zM205.5 138h4.5v4h-4.5zM214.5 118h4.5v4h-4.5zM219 118h4.5v4h-4.5zM286.5 118h4.5v4h-4.5zM291 118h4.5v4h-4.5zM300 138h4.5v4h-4.5zM304.5 146h4.5v4h-4.5zM327 186h4.5v4h-4.5zM331.5 206h4.5v4h-4.5zM336 218h4.5v4h-4.5zM340.5 230h4.5v4h-4.5zM354 258h4.5v4h-4.5zM367.5 310h4.5v4h-4.5zM376.5 338h4.5v4h-4.5zM390 370h4.5v4h-4.5zM399 410h4.5v4h-4.5zM408 438h4.5v4h-4.5zM430.5 494h4.5v4h-4.5zM448.5 542h4.5v4h-4.5zM466.5 582h4.5v4h-4.5zM480 606h4.5v5h-4.5zM511.5 639h4.5v4h-4.5zM556.5 619h4.5v4h-4.5zM561 619h4.5v4h-4.5zM588 562h4.5v4h-4.5zM597 550h4.5v4h-4.5zM619.5 490h4.5v4h-4.5zM633 450h4.5v4h-4.5zM651 394h4.5v4h-4.5zM660 354h4.5v4h-4.5zM687 270h4.5v4h-4.5zM696 254h4.5v4h-4.5zM741 138h4.5v4h-4.5zM750 130h4.5v4h-4.5zM871.5 198h4.5v4h-4.5zM885 234h4.5v4h-4.5zM903 298h4.5v4h-4.5zM912 326h4.5v4h-4.5zM921 354h4.5v4h-4.5zM934.5 386h4.5v4h-4.5zM943.5 426h4.5v4h-4.5zM975 518h4.5v4h-4.5zM993 554h4.5v4h-4.5zM1002 574h4.5v4h-4.5zM1015.5 606h4.5v5h-4.5zM1146 526h4.5v4h-4.5zM1150.5 514h4.5v4h-4.5zM1173 438h4.5v4h-4.5zM1182 410h4.5v4h-4.5zM1195.5 378h4.5v4h-4.5zM1204.5 338h4.5v4h-4.5zM1213.5 310h4.5v4h-4.5zM1222.5 282h4.5v4h-4.5zM1231.5 266h4.5v4h-4.5zM1240.5 230h4.5v4h-4.5zM1249.5 206h4.5v4h-4.5zM1263 182h4.5v4h-4.5z" fill="#000000" fill-opacity="0.48" shape-rendering="geometricPrecision"/>
<path d="M196.5 154h4.5v4h-4.5zM309 154h4.5v4h-4.5zM318 166h4.5v4h-4.5zM345 242h4.5v4h-4.5zM349.5 246h4.5v4h-4.5zM358.5 282h4.5v4h-4.5zM363 286h4.5v4h-4.5zM381 342h4.5v4h-4.5zM385.5 366h4.5v4h-4.5zM421.5 478h4.5v4h-4.5zM426 482h4.5v4h-4.5zM534 639h4.5v4h-4.5zM570 598h4.5v4h-4.5zM574.5 590h4.5v4h-4.5zM588 570h4.5v4h-4.5zM601.5 530h4.5v4h-4.5zM601.5 538h4.5v4h-4.5zM606 518h4.5v4h-4.5zM610.5 506h4.5v4h-4.5zM615 502h4.5v4h-4.5zM628.5 454h4.5v4h-4.5zM637.5 426h4.5v4h-4.5zM642 422h4.5v4h-4.5zM646.5 398h4.5v4h-4.5zM669 326h4.5v4h-4.5zM673.5 322h4.5v4h-4.5zM678 298h4.5v4h-4.5zM682.5 294h4.5v4h-4.5zM781.5 98h4.5v4h-4.5zM799.5 94h4.5v4h-4.5zM876 210h4.5v4h-4.5zM880.5 222h4.5v4h-4.5zM894 270h4.5v4h-4.5zM898.5 274h4.5v4h-4.5zM925.5 358h4.5v4h-4.5zM930 382h4.5v4h-4.5zM957 466h4.5v4h-4.5zM961.5 470h4.5v4h-4.5zM993 562h4.5v4h-4.5zM1006.5 590h4.5v4h-4.5zM1011 598h4.5v4h-4.5zM1123.5 578h4.5v4h-4.5zM1164 466h4.5v4h-4.5zM1168.5 462h4.5v4h-4.5zM1177.5 434h4.5v4h-4.5zM1186.5 406h4.5v4h-4.5zM1191 382h4.5v4h-4.5zM1218 306h4.5v4h-4.5zM1245 218h4.5v4h-4.5z" fill="#000000" fill-opacity="0.52" shape-rendering="geometricPrecision"/>
<path d="M210 130h4.5v4h-4.5zM241.5 98h4.5v4h-4.5zM246 94h4.5v4h-4.5zM259.5 94h4.5v4h-4.5zM264 98h4.5v4h-4.5zM295.5 130h4.5v4h-4.5zM327 194h4.5v4h-4.5zM331.5 198h4.5v4h-4.5zM336 210h4.5v4h-4.5zM340.5 222h4.5v4h-4.5zM345 234h4.5v4h-4.5zM349.5 254h4.5v4h-4.5zM372 314h4.5v4h-4.5zM394.5 386h4.5v4h-4.5zM394.5 394h4.5v4h-4.5zM403.5 414h4.5v4h-4.5zM412.5 442h4.5v4h-4.5zM426 490h4.5v4h-4.5zM448.5 550h4.5v4h-4.5zM453 554h4.5v4h-4.5zM457.5 570h4.5v4h-4.5zM462 574h4.5v4h-4.5zM484.5 619h4.5v4h-4.5zM565.5 606h4.5v5h-4.5zM579 582h4.5v4h-4.5zM597 542h4.5v4h-4.5zM606 526h4.5v4h-4.5zM610.5 514h4.5v4h-4.5zM615 494h4.5v4h-4.5zM655.5 370h4.5v4h-4.5zM655.5 378h4.5v4h-4.5zM664.5 350h4.5v4h-4.5zM691.5 258h4.5v4h-4.5zM691.5 266h4.5v4h-4.5zM718.5 186h4.5v4h-4.5zM723 182h4.5v4h-4.5zM732 162h4.5v4h-4.5zM754.5 118h4.5v4h-4.5zM786 94h4.5v4h-4.5zM826.5 118h4.5v4h-4.5zM835.5 126h4.5v4h-4.5zM840 138h4.5v4h-4.5zM844.5 146h4.5v4h-4.5zM853.5 158h4.5v4h-4.5zM858 174h4.5v4h-4.5zM871.5 206h4.5v4h-4.5zM876 218h4.5v4h-4.5zM880.5 230h4.5v4h-4.5zM907.5 302h4.5v4h-4.5zM907.5 310h4.5v4h-4.5zM916.5 330h4.5v4h-4.5zM939 402h4.5v4h-4.5zM939 410h4.5v4h-4.5zM948 430h4.5v4h-4.5zM948 438h4.5v4h-4.5zM1024.5 615h4.5v4h-4.5zM1069.5 643h4.5v4h-4.5zM1074 639h4.5v4h-4.5zM1096.5 619h4.5v4h-4.5zM1105.5 611h4.5v4h-4.5zM1128 562h4.5v4h-4.5zM1132.5 558h4.5v4h-4.5zM1146 518h4.5v4h-4.5zM1164 474h4.5v4h-4.5zM1200 354h4.5v4h-4.5zM1200 362h4.5v4h-4.5zM1209 334h4.5v4h-4.5zM1227 270h4.5v4h-4.5zM1227 278h4.5v4h-4.5zM1245 226h4.5v4h-4.5zM1249.5 214h4.5v4h-4.5zM1263 174h4.5v4h-4.5z" fill="#000000" fill-opacity="0.56" shape-rendering="geometricPrecision"/>
<path d="M358.5 274h4.5v4h-4.5zM363 294h4.5v4h-4.5zM372 322h4.5v4h-4.5zM381 350h4.5v4h-4.5zM385.5 358h4.5v4h-4.5zM403.5 422h4.5v4h-4.5zM412.5 450h4.5v4h-4.5zM421.5 470h4.5v4h-4.5zM444 538h4.5v4h-4.5zM516 643h4.5v4h-4.5zM529.5 643h4.5v4h-4.5zM583.5 578h4.5v4h-4.5zM619.5 482h4.5v4h-4.5zM628.5 462h4.5v4h-4.5zM637.5 434h4.5v4h-4.5zM646.5 406h4.5v4h-4.5zM664.5 342h4.5v4h-4.5zM673.5 314h4.5v4h-4.5zM678 306h4.5v4h-4.5zM682.5 286h4.5v4h-4.5zM696 246h4.5v4h-4.5zM727.5 166h4.5v4h-4.5zM754.5 122h4.5v4h-4.5zM804 98h4.5v4h-4.5zM808.5 98h4.5v4h-4.5zM826.5 114h4.5v4h-4.5zM862.5 178h4.5v4h-4.5zM885 242h4.5v4h-4.5zM894 262h4.5v4h-4.5zM898.5 282h4.5v4h-4.5zM916.5 338h4.5v4h-4.5zM925.5 366h4.5v4h-4.5zM930 374h4.5v4h-4.5zM957 458h4.5v4h-4.5zM961.5 478h4.5v4h-4.5zM975 510h4.5v4h-4.5zM979.5 522h4.5v4h-4.5zM984 534h4.5v4h-4.5zM1024.5 619h4.5v4h-4.5zM1096.5 623h4.5v4h-4.5zM1110 598h4.5v4h-4.5zM1114.5 590h4.5v4h-4.5zM1119 586h4.5v4h-4.5zM1141.5 530h4.5v4h-4.5zM1150.5 506h4.5v4h-4.5zM1168.5 454h4.5v4h-4.5zM1177.5 426h4.5v4h-4.5zM1186.5 398h4.5v4h-4.5zM1191 390h4.5v4h-4.5zM1209 326h4.5v4h-4.5zM1218 298h4.5v4h-4.5zM1240.5 238h4.5v4h-4.5zM1254 202h4.5v4h-4.5zM1267.5 170h4.5v4h-4.5z" fill="#000000" fill-opacity="0.60" shape-rendering="geometricPrecision"/>
<path d="M210 126h4.5v4h-4.5zM219 114h4.5v4h-4.5zM237 98h4.5v4h-4.5zM268.5 98h4.5v4h-4.5zM286.5 114h4.5v4h-4.5zM295.5 126h4.5v4h-4.5zM313.5 158h4.5v4h-4.5zM313.5 162h4.5v4h-4.5zM322.5 178h4.5v4h-4.5zM322.5 182h4.5v4h-4.5zM354 266h4.5v4h-4.5zM367.5 302h4.5v4h-4.5zM376.5 330h4.5v4h-4.5zM390 378h4.5v4h-4.5zM399 402h4.5v4h-4.5zM408 430h4.5v4h-4.5zM430.5 502h4.5v4h-4.5zM435 514h4.5v4h-4.5zM439.5 526h4.5v4h-4.5zM484.5 615h4.5v4h-4.5zM538.5 639h4.5v4h-4.5zM556.5 623h4.5v4h-4.5zM565.5 611h4.5v4h-4.5zM583.5 574h4.5v4h-4.5zM592.5 554h4.5v4h-4.5zM592.5 558h4.5v4h-4.5zM624 474h4.5v4h-4.5zM633 442h4.5v4h-4.5zM642 414h4.5v4h-4.5zM651 386h4.5v4h-4.5zM660 362h4.5v4h-4.5zM669 334h4.5v4h-4.5zM687 278h4.5v4h-4.5zM700.5 234h4.5v4h-4.5zM705 226h4.5v4h-4.5zM709.5 210h4.5v4h-4.5zM709.5 214h4.5v4h-4.5zM714 198h4.5v4h-4.5zM835.5 130h4.5v4h-4.5zM840 134h4.5v4h-4.5zM844.5 142h4.5v4h-4.5zM849 150h4.5v4h-4.5zM849 154h4.5v4h-4.5zM867 194h4.5v4h-4.5zM889.5 254h4.5v4h-4.5zM903 290h4.5v4h-4.5zM921 346h4.5v4h-4.5zM934.5 394h4.5v4h-4.5zM952.5 450h4.5v4h-4.5zM966 490h4.5v4h-4.5zM970.5 498h4.5v4h-4.5zM988.5 550h4.5v4h-4.5zM997.5 566h4.5v4h-4.5zM997.5 570h4.5v4h-4.5zM1033.5 627h4.5v4h-4.5zM1038 631h4.5v4h-4.5zM1042.5 635h4.5v4h-4.5zM1056 643h4.5v4h-4.5zM1078.5 639h4.5v4h-4.5zM1105.5 606h4.5v5h-4.5zM1110 602h4.5v4h-4.5zM1114.5 594h4.5v4h-4.5zM1119 582h4.5v4h-4.5zM1137 542h4.5v4h-4.5zM1137 546h4.5v4h-4.5zM1155 494h4.5v4h-4.5zM1159.5 486h4.5v4h-4.5zM1173 446h4.5v4h-4.5zM1182 418h4.5v4h-4.5zM1195.5 370h4.5v4h-4.5zM1213.5 318h4.5v4h-4.5zM1222.5 290h4.5v4h-4.5zM1231.5 258h4.5v4h-4.5zM1236 250h4.5v4h-4.5zM1258.5 186h4.5v4h-4.5zM1258.5 190h4.5v4h-4.5z" fill="#000000" fill-opacity="0.64" shape-rendering="geometricPrecision"/>
<path d="M196.5 150h4.5v4h-4.5zM205.5 134h4.5v4h-4.5zM214.5 122h4.5v4h-4.5zM223.5 110h4.5v4h-4.5zM228 106h4.5v4h-4.5zM232.5 102h4.5v4h-4.5zM250.5 94h4.5v4h-4.5zM255 94h4.5v4h-4.5zM273 102h4.5v4h-4.5zM277.5 106h4.5v4h-4.5zM282 110h4.5v4h-4.5zM291 122h4.5v4h-4.5zM300 134h4.5v4h-4.5zM309 150h4.5v4h-4.5zM354 262h4.5v4h-4.5zM367.5 306h4.5v4h-4.5zM376.5 334h4.5v4h-4.5zM390 374h4.5v4h-4.5zM399 406h4.5v4h-4.5zM408 434h4.5v4h-4.5zM417 458h4.5v4h-4.5zM417 462h4.5v4h-4.5zM430.5 498h4.5v4h-4.5zM435 510h4.5v4h-4.5zM439.5 522h4.5v4h-4.5zM444 534h4.5v4h-4.5zM453 558h4.5v4h-4.5zM457.5 566h4.5v4h-4.5zM462 578h4.5v4h-4.5zM466.5 586h4.5v4h-4.5zM471 594h4.5v4h-4.5zM480 611h4.5v4h-4.5zM489 623h4.5v4h-4.5zM493.5 627h4.5v4h-4.5zM498 631h4.5v4h-4.5zM502.5 635h4.5v4h-4.5zM507 639h4.5v4h-4.5zM543 635h4.5v4h-4.5zM547.5 631h4.5v4h-4.5zM552 627h4.5v4h-4.5zM561 615h4.5v4h-4.5zM570 602h4.5v4h-4.5zM574.5 594h4.5v4h-4.5zM579 586h4.5v4h-4.5zM624 470h4.5v4h-4.5zM633 446h4.5v4h-4.5zM651 390h4.5v4h-4.5zM660 358h4.5v4h-4.5zM687 274h4.5v4h-4.5zM700.5 238h4.5v4h-4.5zM705 222h4.5v4h-4.5zM714 202h4.5v4h-4.5zM727.5 170h4.5v4h-4.5zM732 158h4.5v4h-4.5zM745.5 134h4.5v4h-4.5zM750 126h4.5v4h-4.5zM759 114h4.5v4h-4.5zM763.5 110h4.5v4h-4.5zM768 106h4.5v4h-4.5zM772.5 102h4.5v4h-4.5zM777 98h4.5v4h-4.5zM790.5 94h4.5v4h-4.5zM795 94h4.5v4h-4.5zM813 102h4.5v4h-4.5zM817.5 106h4.5v4h-4.5zM822 110h4.5v4h-4.5zM831 122h4.5v4h-4.5zM853.5 162h4.5v4h-4.5zM862.5 182h4.5v4h-4.5zM867 190h4.5v4h-4.5zM889.5 250h4.5v4h-4.5zM903 294h4.5v4h-4.5zM912 318h4.5v4h-4.5zM912 322h4.5v4h-4.5zM921 350h4.5v4h-4.5zM934.5 390h4.5v4h-4.5zM943.5 418h4.5v4h-4.5zM943.5 422h4.5v4h-4.5zM952.5 446h4.5v4h-4.5zM966 486h4.5v4h-4.5zM970.5 502h4.5v4h-4.5zM984 538h4.5v4h-4.5zM988.5 546h4.5v4h-4.5zM1006.5 586h4.5v4h-4.5zM1011 594h4.5v4h-4.5zM1015.5 602h4.5v4h-4.5zM1020 611h4.5v4h-4.5zM1029 623h4.5v4h-4.5zM1083 635h4.5v4h-4.5zM1087.5 631h4.5v4h-4.5zM1092 627h4.5v4h-4.5zM1101 615h4.5v4h-4.5zM1123.5 574h4.5v4h-4.5zM1128 566h4.5v4h-4.5zM1141.5 534h4.5v4h-4.5zM1155 498h4.5v4h-4.5zM1159.5 482h4.5v4h-4.5zM1173 442h4.5v4h-4.5zM1182 414h4.5v4h-4.5zM1195.5 374h4.5v4h-4.5zM1204.5 342h4.5v4h-4.5zM1204.5 346h4.5v4h-4.5zM1213.5 314h4.5v4h-4.5zM1222.5 286h4.5v4h-4.5zM1231.5 262h4.5v4h-4.5zM1236 246h4.5v4h-4.5zM1254 198h4.5v4h-4.5zM1263 178h4.5v4h-4.5zM1267.5 166h4.5v4h-4.5z" fill="#000000" fill-opacity="0.68" shape-rendering="geometricPrecision"/>
<path d="M201 142h4.5v4h-4.5zM304.5 142h4.5v4h-4.5zM318 170h4.5v4h-4.5zM327 190h4.5v4h-4.5zM331.5 202h4.5v4h-4.5zM336 214h4.5v4h-4.5zM340.5 226h4.5v4h-4.5zM345 238h4.5v4h-4.5zM349.5 250h4.5v4h-4.5zM358.5 278h4.5v4h-4.5zM363 290h4.5v4h-4.5zM372 318h4.5v4h-4.5zM381 346h4.5v4h-4.5zM385.5 362h4.5v4h-4.5zM394.5 390h4.5v4h-4.5zM403.5 418h4.5v4h-4.5zM412.5 446h4.5v4h-4.5zM421.5 474h4.5v4h-4.5zM426 486h4.5v4h-4.5zM448.5 546h4.5v4h-4.5zM475.5 602h4.5v4h-4.5zM520.5 643h4.5v4h-4.5zM525 643h4.5v4h-4.5zM588 566h4.5v4h-4.5zM597 546h4.5v4h-4.5zM601.5 534h4.5v4h-4.5zM606 522h4.5v4h-4.5zM610.5 510h4.5v4h-4.5zM615 498h4.5v4h-4.5zM619.5 486h4.5v4h-4.5zM628.5 458h4.5v4h-4.5zM637.5 430h4.5v4h-4.5zM642 418h4.5v4h-4.5zM646.5 402h4.5v4h-4.5zM655.5 374h4.5v4h-4.5zM664.5 346h4.5v4h-4.5zM669 330h4.5v4h-4.5zM673.5 318h4.5v4h-4.5zM678 302h4.5v4h-4.5zM682.5 290h4.5v4h-4.5zM691.5 262h4.5v4h-4.5zM696 250h4.5v4h-4.5zM718.5 190h4.5v4h-4.5zM723 178h4.5v4h-4.5zM736.5 150h4.5v4h-4.5zM741 142h4.5v4h-4.5zM858 170h4.5v4h-4.5zM871.5 202h4.5v4h-4.5zM876 214h4.5v4h-4.5zM880.5 226h4.5v4h-4.5zM885 238h4.5v4h-4.5zM894 266h4.5v4h-4.5zM898.5 278h4.5v4h-4.5zM907.5 306h4.5v4h-4.5zM916.5 334h4.5v4h-4.5zM925.5 362h4.5v4h-4.5zM930 378h4.5v4h-4.5zM939 406h4.5v4h-4.5zM948 434h4.5v4h-4.5zM957 462h4.5v4h-4.5zM961.5 474h4.5v4h-4.5zM975 514h4.5v4h-4.5zM979.5 526h4.5v4h-4.5zM993 558h4.5v4h-4.5zM1002 578h4.5v4h-4.5zM1047 639h4.5v4h-4.5zM1060.5 643h4.5v4h-4.5zM1065 643h4.5v4h-4.5zM1132.5 554h4.5v4h-4.5zM1146 522h4.5v4h-4.5zM1150.5 510h4.5v4h-4.5zM1164 470h4.5v4h-4.5zM1168.5 458h4.5v4h-4.5zM1177.5 430h4.5v4h-4.5zM1186.5 402h4.5v4h-4.5zM1191 386h4.5v4h-4.5zM1200 358h4.5v4h-4.5zM1209 330h4.5v4h-4.5zM1218 302h4.5v4h-4.5zM1227 274h4.5v4h-4.5zM1240.5 234h4.5v4h-4.5zM1245 222h4.5v4h-4.5zM1249.5 210h4.5v4h-4.5z" fill="#000000" fill-opacity="0.72" shape-rendering="geometricPrecision"/>
<path d="M201 558h4.5v4h-4.5zM214.5 534h4.5v4h-4.5zM340.5 218h4.5v4h-4.5zM354 210h4.5v4h-4.5zM381 150h4.5v4h-4.5zM399 134h4.5v4h-4.5zM408 130h4.5v4h-4.5zM435 130h4.5v4h-4.5zM439.5 142h4.5v4h-4.5zM453 154h4.5v4h-4.5zM457.5 146h4.5v4h-4.5zM471 162h4.5v4h-4.5zM471 178h4.5v4h-4.5zM475.5 186h4.5v4h-4.5zM480 194h4.5v4h-4.5zM484.5 202h4.5v4h-4.5zM624 526h4.5v4h-4.5zM624 546h4.5v4h-4.5zM628.5 554h4.5v4h-4.5zM646.5 566h4.5v4h-4.5zM655.5 578h4.5v4h-4.5zM669 602h4.5v4h-4.5zM705 606h4.5v5h-4.5zM709.5 594h4.5v4h-4.5zM723 582h4.5v4h-4.5zM727.5 590h4.5v4h-4.5zM741 574h4.5v4h-4.5zM745.5 550h4.5v4h-4.5zM750 542h4.5v4h-4.5zM768 526h4.5v4h-4.5zM889.5 198h4.5v4h-4.5zM894 190h4.5v4h-4.5zM898.5 182h4.5v4h-4.5zM903 174h4.5v4h-4.5zM916.5 170h4.5v4h-4.5zM925.5 158h4.5v4h-4.5zM939 134h4.5v4h-4.5zM979.5 142h4.5v4h-4.5zM984 146h4.5v4h-4.5zM988.5 138h4.5v4h-4.5zM988.5 150h4.5v4h-4.5zM993 142h4.5v4h-4.5zM997.5 146h4.5v4h-4.5zM1002 166h4.5v4h-4.5zM1033.5 222h4.5v4h-4.5zM1146 510h4.5v4h-4.5zM1159.5 518h4.5v4h-4.5zM1159.5 538h4.5v4h-4.5zM1173 562h4.5v4h-4.5zM1186.5 582h4.5v4h-4.5zM1245 606h4.5v5h-4.5zM1249.5 594h4.5v4h-4.5zM1254 590h4.5v4h-4.5zM1258.5 586h4.5v4h-4.5zM1258.5 598h4.5v4h-4.5zM1263 594h4.5v4h-4.5zM1267.5 590h4.5v4h-4.5z" fill="#0000ff" fill-opacity="0.04" shape-rendering="geometricPrecision"/>
<path d="M196.5 566h4.5v4h-4.5zM201 574h4.5v4h-4.5zM219 526h4.5v4h-4.5zM237 486h4.5v4h-4.5zM246 486h4.5v4h-4.5zM309 318h4.5v4h-4.5zM313.5 306h4.5v4h-4.5zM318 294h4.5v4h-4.5zM372 162h4.5v4h-4.5zM376.5 170h4.5v4h-4.5zM385.5 146h4.5v4h-4.5zM385.5 158h4.5v4h-4.5zM394.5 138h4.5v4h-4.5zM448.5 138h4.5v4h-4.5zM453 142h4.5v4h-4.5zM498 210h4.5v4h-4.5zM498 230h4.5v4h-4.5zM565.5 382h4.5v4h-4.5zM570 418h4.5v4h-4.5zM574.5 430h4.5v4h-4.5zM579 442h4.5v4h-4.5zM592.5 454h4.5v4h-4.5zM601.5 498h4.5v4h-4.5zM610.5 498h4.5v4h-4.5zM610.5 518h4.5v4h-4.5zM619.5 518h4.5v4h-4.5zM651 586h4.5v4h-4.5zM678 606h4.5v5h-4.5zM718.5 598h4.5v4h-4.5zM723 594h4.5v4h-4.5zM741 558h4.5v4h-4.5zM754.5 534h4.5v4h-4.5zM768 506h4.5v4h-4.5zM777 506h4.5v4h-4.5zM781.5 474h4.5v4h-4.5zM790.5 474h4.5v4h-4.5zM835.5 330h4.5v4h-4.5zM853.5 282h4.5v4h-4.5zM867 270h4.5v4h-4.5zM880.5 238h4.5v4h-4.5zM889.5 218h4.5v4h-4.5zM921 150h4.5v4h-4.5zM948 130h4.5v4h-4.5zM993 154h4.5v4h-4.5zM1015.5 170h4.5v4h-4.5zM1015.5 186h4.5v4h-4.5zM1020 194h4.5v4h-4.5zM1033.5 202h4.5v4h-4.5zM1056 274h4.5v4h-4.5zM1065 274h4.5v4h-4.5zM1069.5 286h4.5v4h-4.5zM1087.5 334h4.5v4h-4.5zM1092 370h4.5v4h-4.5zM1132.5 478h4.5v4h-4.5zM1141.5 478h4.5v4h-4.5zM1164 546h4.5v4h-4.5zM1168.5 554h4.5v4h-4.5zM1209 602h4.5v4h-4.5zM1218 598h4.5v4h-4.5zM1263 582h4.5v4h-4.5z" fill="#0000ff" fill-opacity="0.08" shape-rendering="geometricPrecision"/>
<path d="M228 526h4.5v4h-4.5zM255 442h4.5v4h-4.5zM259.5 430h4.5v4h-4.5zM264 418h4.5v4h-4.5zM300 342h4.5v4h-4.5zM304.5 330h4.5v4h-4.5zM322.5 282h4.5v4h-4.5zM327 250h4.5v4h-4.5zM340.5 238h4.5v4h-4.5zM345 210h4.5v4h-4.5zM390 142h4.5v4h-4.5zM457.5 158h4.5v4h-4.5zM466.5 170h4.5v4h-4.5zM475.5 170h4.5v4h-4.5zM489 210h4.5v4h-4.5zM507 230h4.5v4h-4.5zM507 250h4.5v4h-4.5zM520.5 262h4.5v4h-4.5zM561 370h4.5v4h-4.5zM597 466h4.5v4h-4.5zM642 574h4.5v4h-4.5zM678 598h4.5v4h-4.5zM727.5 578h4.5v4h-4.5zM745.5 566h4.5v4h-4.5zM763.5 534h4.5v4h-4.5zM777 486h4.5v4h-4.5zM795 462h4.5v4h-4.5zM826.5 378h4.5v4h-4.5zM840 318h4.5v4h-4.5zM844.5 306h4.5v4h-4.5zM849 294h4.5v4h-4.5zM871.5 238h4.5v4h-4.5zM880.5 218h4.5v4h-4.5zM912 162h4.5v4h-4.5zM948 138h4.5v4h-4.5zM1006.5 158h4.5v4h-4.5zM1011 178h4.5v4h-4.5zM1020 178h4.5v4h-4.5zM1024.5 186h4.5v4h-4.5zM1024.5 202h4.5v4h-4.5zM1029 194h4.5v4h-4.5zM1051.5 242h4.5v4h-4.5zM1051.5 262h4.5v4h-4.5zM1074 298h4.5v4h-4.5zM1078.5 310h4.5v4h-4.5zM1083 322h4.5v4h-4.5zM1096.5 382h4.5v4h-4.5zM1128 466h4.5v4h-4.5zM1155 510h4.5v4h-4.5zM1173 546h4.5v4h-4.5zM1177.5 554h4.5v4h-4.5zM1191 574h4.5v4h-4.5zM1191 586h4.5v4h-4.5zM1218 606h4.5v5h-4.5z" fill="#0000ff" fill-opacity="0.12" shape-rendering="geometricPrecision"/>
<path d="M223.5 518h4.5v4h-4.5zM232.5 498h4.5v4h-4.5zM237 506h4.5v4h-4.5zM250.5 454h4.5v4h-4.5zM250.5 474h4.5v4h-4.5zM268.5 406h4.5v4h-4.5zM273 394h4.5v4h-4.5zM295.5 354h4.5v4h-4.5zM349.5 218h4.5v4h-4.5zM408 138h4.5v4h-4.5zM493.5 202h4.5v4h-4.5zM525 274h4.5v4h-4.5zM556.5 358h4.5v4h-4.5zM651 574h4.5v4h-4.5zM655.5 590h4.5v4h-4.5zM660 594h4.5v4h-4.5zM664.5 598h4.5v4h-4.5zM736.5 566h4.5v4h-4.5zM759 526h4.5v4h-4.5zM799.5 450h4.5v4h-4.5zM817.5 402h4.5v4h-4.5zM822 390h4.5v4h-4.5zM871.5 258h4.5v4h-4.5zM921 162h4.5v4h-4.5zM925.5 146h4.5v4h-4.5zM930 142h4.5v4h-4.5zM934.5 138h4.5v4h-4.5zM1038 230h4.5v4h-4.5zM1042.5 222h4.5v4h-4.5zM1101 394h4.5v4h-4.5zM1123.5 454h4.5v4h-4.5zM1141.5 498h4.5v4h-4.5zM1146 490h4.5v4h-4.5zM1150.5 518h4.5v4h-4.5zM1168.5 538h4.5v4h-4.5z" fill="#0000ff" fill-opacity="0.16" shape-rendering="geometricPrecision"/>
<path d="M205.5 566h4.5v4h-4.5zM223.5 534h4.5v4h-4.5zM246 466h4.5v4h-4.5zM277.5 382h4.5v4h-4.5zM282 370h4.5v4h-4.5zM286.5 378h4.5v4h-4.5zM291 366h4.5v4h-4.5zM322.5 262h4.5v4h-4.5zM327 270h4.5v4h-4.5zM336 230h4.5v4h-4.5zM367.5 170h4.5v4h-4.5zM435 138h4.5v4h-4.5zM466.5 158h4.5v4h-4.5zM480 178h4.5v4h-4.5zM489 194h4.5v4h-4.5zM525 294h4.5v4h-4.5zM529.5 286h4.5v4h-4.5zM529.5 306h4.5v4h-4.5zM534 298h4.5v4h-4.5zM534 318h4.5v4h-4.5zM538.5 310h4.5v4h-4.5zM538.5 330h4.5v4h-4.5zM543 322h4.5v4h-4.5zM547.5 334h4.5v4h-4.5zM552 346h4.5v4h-4.5zM597 486h4.5v4h-4.5zM601.5 478h4.5v4h-4.5zM615 526h4.5v4h-4.5zM633 546h4.5v4h-4.5zM705 598h4.5v4h-4.5zM736.5 578h4.5v4h-4.5zM750 558h4.5v4h-4.5zM754.5 550h4.5v4h-4.5zM759 542h4.5v4h-4.5zM781.5 494h4.5v4h-4.5zM799.5 430h4.5v4h-4.5zM804 438h4.5v4h-4.5zM808.5 426h4.5v4h-4.5zM813 414h4.5v4h-4.5zM867 250h4.5v4h-4.5zM885 226h4.5v4h-4.5zM903 190h4.5v4h-4.5zM907.5 182h4.5v4h-4.5zM997.5 158h4.5v4h-4.5zM1029 210h4.5v4h-4.5zM1047 250h4.5v4h-4.5zM1105.5 406h4.5v4h-4.5zM1110 418h4.5v4h-4.5zM1114.5 430h4.5v4h-4.5zM1119 442h4.5v4h-4.5zM1182 562h4.5v4h-4.5zM1182 574h4.5v4h-4.5zM1195.5 590h4.5v4h-4.5zM1204.5 598h4.5v4h-4.5zM1267.5 578h4.5v4h-4.5z" fill="#0000ff" fill-opacity="0.20" shape-rendering="geometricPrecision"/>
<path d="M255 462h4.5v4h-4.5zM282 390h4.5v4h-4.5zM286.5 358h4.5v4h-4.5zM318 274h4.5v4h-4.5zM331.5 258h4.5v4h-4.5zM349.5 202h4.5v4h-4.5zM381 162h4.5v4h-4.5zM484.5 186h4.5v4h-4.5zM493.5 218h4.5v4h-4.5zM502.5 238h4.5v4h-4.5zM511.5 242h4.5v4h-4.5zM520.5 282h4.5v4h-4.5zM543 342h4.5v4h-4.5zM547.5 354h4.5v4h-4.5zM606 506h4.5v4h-4.5zM615 510h4.5v4h-4.5zM628.5 538h4.5v4h-4.5zM637.5 554h4.5v4h-4.5zM772.5 498h4.5v4h-4.5zM772.5 514h4.5v4h-4.5zM795 442h4.5v4h-4.5zM804 418h4.5v4h-4.5zM808.5 406h4.5v4h-4.5zM876 246h4.5v4h-4.5zM885 210h4.5v4h-4.5zM898.5 198h4.5v4h-4.5zM970.5 130h4.5v4h-4.5zM1006.5 170h4.5v4h-4.5zM1056 254h4.5v4h-4.5zM1110 398h4.5v4h-4.5zM1114.5 410h4.5v4h-4.5zM1119 422h4.5v4h-4.5zM1123.5 434h4.5v4h-4.5zM1128 446h4.5v4h-4.5zM1164 530h4.5v4h-4.5zM1200 594h4.5v4h-4.5zM1204.5 590h4.5v4h-4.5zM1245 598h4.5v4h-4.5z" fill="#0000ff" fill-opacity="0.24" shape-rendering="geometricPrecision"/>
<path d="M196.5 578h4.5v4h-4.5zM210 546h4.5v4h-4.5zM210 558h4.5v4h-4.5zM214.5 550h4.5v4h-4.5zM219 542h4.5v4h-4.5zM241.5 478h4.5v4h-4.5zM241.5 494h4.5v4h-4.5zM259.5 450h4.5v4h-4.5zM264 438h4.5v4h-4.5zM268.5 426h4.5v4h-4.5zM273 414h4.5v4h-4.5zM277.5 402h4.5v4h-4.5zM291 346h4.5v4h-4.5zM295.5 334h4.5v4h-4.5zM300 322h4.5v4h-4.5zM313.5 286h4.5v4h-4.5zM345 226h4.5v4h-4.5zM354 194h4.5v4h-4.5zM363 178h4.5v4h-4.5zM363 190h4.5v4h-4.5zM367.5 182h4.5v4h-4.5zM376.5 158h4.5v4h-4.5zM430.5 130h4.5v4h-4.5zM502.5 222h4.5v4h-4.5zM516 270h4.5v4h-4.5zM552 366h4.5v4h-4.5zM556.5 378h4.5v4h-4.5zM592.5 474h4.5v4h-4.5zM606 490h4.5v4h-4.5zM637.5 566h4.5v4h-4.5zM664.5 590h4.5v4h-4.5zM763.5 518h4.5v4h-4.5zM786 466h4.5v4h-4.5zM786 482h4.5v4h-4.5zM790.5 454h4.5v4h-4.5zM813 394h4.5v4h-4.5zM817.5 382h4.5v4h-4.5zM844.5 326h4.5v4h-4.5zM849 314h4.5v4h-4.5zM853.5 302h4.5v4h-4.5zM858 290h4.5v4h-4.5zM862.5 262h4.5v4h-4.5zM876 230h4.5v4h-4.5zM907.5 170h4.5v4h-4.5zM912 174h4.5v4h-4.5zM934.5 146h4.5v4h-4.5zM975 138h4.5v4h-4.5zM979.5 134h4.5v4h-4.5zM1065 294h4.5v4h-4.5zM1069.5 306h4.5v4h-4.5zM1074 318h4.5v4h-4.5zM1078.5 330h4.5v4h-4.5zM1101 374h4.5v4h-4.5zM1105.5 386h4.5v4h-4.5zM1132.5 458h4.5v4h-4.5zM1137 486h4.5v4h-4.5zM1150.5 502h4.5v4h-4.5zM1200 586h4.5v4h-4.5zM1240.5 606h4.5v5h-4.5z" fill="#0000ff" fill-opacity="0.28" shape-rendering="geometricPrecision"/>
<path d="M205.5 554h4.5v4h-4.5zM214.5 538h4.5v4h-4.5zM228 510h4.5v4h-4.5zM232.5 514h4.5v4h-4.5zM304.5 310h4.5v4h-4.5zM309 298h4.5v4h-4.5zM331.5 242h4.5v4h-4.5zM336 246h4.5v4h-4.5zM358.5 186h4.5v4h-4.5zM358.5 198h4.5v4h-4.5zM412.5 130h4.5v4h-4.5zM421.5 134h4.5v4h-4.5zM462 162h4.5v4h-4.5zM511.5 258h4.5v4h-4.5zM516 254h4.5v4h-4.5zM561 390h4.5v4h-4.5zM574.5 410h4.5v4h-4.5zM579 422h4.5v4h-4.5zM583.5 434h4.5v4h-4.5zM588 446h4.5v4h-4.5zM588 462h4.5v4h-4.5zM619.5 534h4.5v4h-4.5zM624 530h4.5v4h-4.5zM642 562h4.5v4h-4.5zM691.5 602h4.5v4h-4.5zM700.5 606h4.5v5h-4.5zM822 370h4.5v4h-4.5zM826.5 358h4.5v4h-4.5zM835.5 350h4.5v4h-4.5zM840 338h4.5v4h-4.5zM862.5 278h4.5v4h-4.5zM889.5 202h4.5v4h-4.5zM894 206h4.5v4h-4.5zM952.5 130h4.5v4h-4.5zM1011 166h4.5v4h-4.5zM1033.5 218h4.5v4h-4.5zM1038 214h4.5v4h-4.5zM1042.5 238h4.5v4h-4.5zM1047 234h4.5v4h-4.5zM1060.5 266h4.5v4h-4.5zM1060.5 282h4.5v4h-4.5zM1083 342h4.5v4h-4.5zM1096.5 362h4.5v4h-4.5zM1137 470h4.5v4h-4.5zM1155 526h4.5v4h-4.5zM1159.5 522h4.5v4h-4.5zM1209 594h4.5v4h-4.5zM1231.5 602h4.5v4h-4.5zM1249.5 602h4.5v4h-4.5z" fill="#0000ff" fill-opacity="0.32" shape-rendering="geometricPrecision"/>
<path d="M237 490h4.5v4h-4.5zM304.5 326h4.5v4h-4.5zM309 314h4.5v4h-4.5zM313.5 302h4.5v4h-4.5zM340.5 222h4.5v4h-4.5zM372 174h4.5v4h-4.5zM439.5 134h4.5v4h-4.5zM480 190h4.5v4h-4.5zM498 226h4.5v4h-4.5zM565.5 386h4.5v4h-4.5zM565.5 402h4.5v4h-4.5zM570 398h4.5v4h-4.5zM570 414h4.5v4h-4.5zM574.5 426h4.5v4h-4.5zM579 438h4.5v4h-4.5zM583.5 450h4.5v4h-4.5zM592.5 458h4.5v4h-4.5zM624 542h4.5v4h-4.5zM628.5 550h4.5v4h-4.5zM633 558h4.5v4h-4.5zM646.5 578h4.5v4h-4.5zM669 594h4.5v4h-4.5zM682.5 606h4.5v5h-4.5zM687 602h4.5v4h-4.5zM709.5 602h4.5v4h-4.5zM732 574h4.5v4h-4.5zM768 522h4.5v4h-4.5zM781.5 478h4.5v4h-4.5zM790.5 470h4.5v4h-4.5zM826.5 374h4.5v4h-4.5zM831 346h4.5v4h-4.5zM831 362h4.5v4h-4.5zM835.5 334h4.5v4h-4.5zM853.5 286h4.5v4h-4.5zM858 274h4.5v4h-4.5zM867 266h4.5v4h-4.5zM880.5 234h4.5v4h-4.5zM903 178h4.5v4h-4.5zM916.5 158h4.5v4h-4.5zM961.5 134h4.5v4h-4.5zM1002 154h4.5v4h-4.5zM1056 270h4.5v4h-4.5zM1065 278h4.5v4h-4.5zM1087.5 338h4.5v4h-4.5zM1087.5 354h4.5v4h-4.5zM1092 350h4.5v4h-4.5zM1092 366h4.5v4h-4.5zM1132.5 474h4.5v4h-4.5zM1146 506h4.5v4h-4.5zM1177.5 566h4.5v4h-4.5zM1186.5 570h4.5v4h-4.5zM1227 602h4.5v4h-4.5z" fill="#0000ff" fill-opacity="0.36" shape-rendering="geometricPrecision"/>
<path d="M201 562h4.5v4h-4.5zM219 530h4.5v4h-4.5zM246 482h4.5v4h-4.5zM259.5 434h4.5v4h-4.5zM264 422h4.5v4h-4.5zM268.5 410h4.5v4h-4.5zM300 338h4.5v4h-4.5zM318 290h4.5v4h-4.5zM327 254h4.5v4h-4.5zM354 206h4.5v4h-4.5zM394.5 146h4.5v4h-4.5zM403.5 134h4.5v4h-4.5zM475.5 182h4.5v4h-4.5zM484.5 198h4.5v4h-4.5zM498 214h4.5v4h-4.5zM507 234h4.5v4h-4.5zM507 246h4.5v4h-4.5zM520.5 266h4.5v4h-4.5zM556.5 362h4.5v4h-4.5zM561 374h4.5v4h-4.5zM597 470h4.5v4h-4.5zM601.5 494h4.5v4h-4.5zM610.5 502h4.5v4h-4.5zM610.5 514h4.5v4h-4.5zM660 586h4.5v4h-4.5zM696 602h4.5v4h-4.5zM732 582h4.5v4h-4.5zM741 570h4.5v4h-4.5zM745.5 554h4.5v4h-4.5zM750 546h4.5v4h-4.5zM768 510h4.5v4h-4.5zM777 502h4.5v4h-4.5zM822 386h4.5v4h-4.5zM840 322h4.5v4h-4.5zM844.5 310h4.5v4h-4.5zM849 298h4.5v4h-4.5zM871.5 242h4.5v4h-4.5zM889.5 214h4.5v4h-4.5zM894 194h4.5v4h-4.5zM898.5 186h4.5v4h-4.5zM930 150h4.5v4h-4.5zM939 142h4.5v4h-4.5zM957 134h4.5v4h-4.5zM1033.5 206h4.5v4h-4.5zM1051.5 258h4.5v4h-4.5zM1069.5 290h4.5v4h-4.5zM1074 302h4.5v4h-4.5zM1078.5 314h4.5v4h-4.5zM1083 326h4.5v4h-4.5zM1096.5 378h4.5v4h-4.5zM1128 462h4.5v4h-4.5zM1141.5 482h4.5v4h-4.5zM1159.5 534h4.5v4h-4.5zM1222.5 606h4.5v5h-4.5zM1236 602h4.5v4h-4.5z" fill="#0000ff" fill-opacity="0.40" shape-rendering="geometricPrecision"/>
<path d="M250.5 458h4.5v4h-4.5zM250.5 470h4.5v4h-4.5zM255 446h4.5v4h-4.5zM273 398h4.5v4h-4.5zM277.5 386h4.5v4h-4.5zM291 362h4.5v4h-4.5zM295.5 350h4.5v4h-4.5zM322.5 278h4.5v4h-4.5zM340.5 234h4.5v4h-4.5zM417 134h4.5v4h-4.5zM426 134h4.5v4h-4.5zM462 154h4.5v4h-4.5zM471 166h4.5v4h-4.5zM525 278h4.5v4h-4.5zM529.5 302h4.5v4h-4.5zM534 314h4.5v4h-4.5zM547.5 338h4.5v4h-4.5zM552 350h4.5v4h-4.5zM619.5 522h4.5v4h-4.5zM646.5 570h4.5v4h-4.5zM754.5 538h4.5v4h-4.5zM777 490h4.5v4h-4.5zM795 458h4.5v4h-4.5zM799.5 446h4.5v4h-4.5zM804 434h4.5v4h-4.5zM808.5 422h4.5v4h-4.5zM813 410h4.5v4h-4.5zM817.5 398h4.5v4h-4.5zM871.5 254h4.5v4h-4.5zM880.5 222h4.5v4h-4.5zM916.5 166h4.5v4h-4.5zM966 130h4.5v4h-4.5zM966 134h4.5v4h-4.5zM1002 162h4.5v4h-4.5zM1020 190h4.5v4h-4.5zM1051.5 246h4.5v4h-4.5zM1101 390h4.5v4h-4.5zM1105.5 402h4.5v4h-4.5zM1110 414h4.5v4h-4.5zM1114.5 426h4.5v4h-4.5zM1119 438h4.5v4h-4.5zM1123.5 450h4.5v4h-4.5zM1164 542h4.5v4h-4.5zM1173 558h4.5v4h-4.5zM1186.5 578h4.5v4h-4.5zM1195.5 582h4.5v4h-4.5z" fill="#0000ff" fill-opacity="0.44" shape-rendering="geometricPrecision"/>
<path d="M228 522h4.5v4h-4.5zM232.5 502h4.5v4h-4.5zM237 502h4.5v4h-4.5zM246 470h4.5v4h-4.5zM282 374h4.5v4h-4.5zM286.5 374h4.5v4h-4.5zM322.5 266h4.5v4h-4.5zM327 266h4.5v4h-4.5zM345 214h4.5v4h-4.5zM390 150h4.5v4h-4.5zM399 142h4.5v4h-4.5zM417 130h4.5v4h-4.5zM426 130h4.5v4h-4.5zM471 174h4.5v4h-4.5zM489 206h4.5v4h-4.5zM525 290h4.5v4h-4.5zM529.5 290h4.5v4h-4.5zM534 302h4.5v4h-4.5zM538.5 314h4.5v4h-4.5zM538.5 326h4.5v4h-4.5zM543 326h4.5v4h-4.5zM543 338h4.5v4h-4.5zM597 482h4.5v4h-4.5zM601.5 482h4.5v4h-4.5zM673.5 602h4.5v4h-4.5zM718.5 590h4.5v4h-4.5zM741 562h4.5v4h-4.5zM763.5 530h4.5v4h-4.5zM943.5 134h4.5v4h-4.5zM1015.5 174h4.5v4h-4.5zM1015.5 182h4.5v4h-4.5zM1024.5 198h4.5v4h-4.5zM1029 198h4.5v4h-4.5zM1038 226h4.5v4h-4.5zM1042.5 226h4.5v4h-4.5zM1119 426h4.5v4h-4.5zM1141.5 494h4.5v4h-4.5zM1146 494h4.5v4h-4.5zM1155 514h4.5v4h-4.5zM1168.5 550h4.5v4h-4.5z" fill="#0000ff" fill-opacity="0.48" shape-rendering="geometricPrecision"/>
<path d="M201 570h4.5v4h-4.5zM223.5 522h4.5v4h-4.5zM255 458h4.5v4h-4.5zM259.5 446h4.5v4h-4.5zM273 410h4.5v4h-4.5zM277.5 398h4.5v4h-4.5zM282 386h4.5v4h-4.5zM286.5 362h4.5v4h-4.5zM291 350h4.5v4h-4.5zM318 278h4.5v4h-4.5zM336 234h4.5v4h-4.5zM349.5 214h4.5v4h-4.5zM372 166h4.5v4h-4.5zM376.5 166h4.5v4h-4.5zM381 154h4.5v4h-4.5zM448.5 146h4.5v4h-4.5zM493.5 206h4.5v4h-4.5zM520.5 278h4.5v4h-4.5zM547.5 350h4.5v4h-4.5zM552 362h4.5v4h-4.5zM655.5 582h4.5v4h-4.5zM696 606h4.5v5h-4.5zM714 594h4.5v4h-4.5zM759 530h4.5v4h-4.5zM781.5 490h4.5v4h-4.5zM790.5 458h4.5v4h-4.5zM795 446h4.5v4h-4.5zM799.5 434h4.5v4h-4.5zM804 422h4.5v4h-4.5zM808.5 410h4.5v4h-4.5zM813 398h4.5v4h-4.5zM817.5 386h4.5v4h-4.5zM867 254h4.5v4h-4.5zM885 222h4.5v4h-4.5zM925.5 154h4.5v4h-4.5zM957 130h4.5v4h-4.5zM997.5 150h4.5v4h-4.5zM1020 182h4.5v4h-4.5zM1024.5 190h4.5v4h-4.5zM1047 246h4.5v4h-4.5zM1056 258h4.5v4h-4.5zM1105.5 390h4.5v4h-4.5zM1110 402h4.5v4h-4.5zM1114.5 414h4.5v4h-4.5zM1123.5 438h4.5v4h-4.5zM1128 450h4.5v4h-4.5zM1150.5 514h4.5v4h-4.5zM1168.5 542h4.5v4h-4.5zM1173 550h4.5v4h-4.5zM1213.5 598h4.5v4h-4.5zM1236 606h4.5v5h-4.5zM1267.5 586h4.5v4h-4.5z" fill="#0000ff" fill-opacity="0.52" shape-rendering="geometricPrecision"/>
<path d="M196.5 570h4.5v4h-4.5zM223.5 530h4.5v4h-4.5zM241.5 482h4.5v4h-4.5zM264 434h4.5v4h-4.5zM268.5 422h4.5v4h-4.5zM295.5 338h4.5v4h-4.5zM300 326h4.5v4h-4.5zM313.5 290h4.5v4h-4.5zM331.5 254h4.5v4h-4.5zM421.5 130h4.5v4h-4.5zM444 142h4.5v4h-4.5zM453 150h4.5v4h-4.5zM475.5 174h4.5v4h-4.5zM502.5 234h4.5v4h-4.5zM511.5 246h4.5v4h-4.5zM516 266h4.5v4h-4.5zM556.5 374h4.5v4h-4.5zM592.5 470h4.5v4h-4.5zM606 494h4.5v4h-4.5zM606 502h4.5v4h-4.5zM615 514h4.5v4h-4.5zM615 522h4.5v4h-4.5zM673.5 598h4.5v4h-4.5zM682.5 602h4.5v4h-4.5zM687 606h4.5v5h-4.5zM691.5 606h4.5v5h-4.5zM723 586h4.5v4h-4.5zM745.5 562h4.5v4h-4.5zM759 538h4.5v4h-4.5zM772.5 502h4.5v4h-4.5zM772.5 510h4.5v4h-4.5zM822 374h4.5v4h-4.5zM840 334h4.5v4h-4.5zM844.5 322h4.5v4h-4.5zM849 310h4.5v4h-4.5zM853.5 298h4.5v4h-4.5zM876 242h4.5v4h-4.5zM961.5 130h4.5v4h-4.5zM984 138h4.5v4h-4.5zM1011 174h4.5v4h-4.5zM1029 206h4.5v4h-4.5zM1065 290h4.5v4h-4.5zM1069.5 302h4.5v4h-4.5zM1074 314h4.5v4h-4.5zM1078.5 326h4.5v4h-4.5zM1101 378h4.5v4h-4.5zM1132.5 462h4.5v4h-4.5zM1137 482h4.5v4h-4.5zM1177.5 558h4.5v4h-4.5zM1213.5 602h4.5v4h-4.5zM1222.5 602h4.5v4h-4.5zM1227 606h4.5v5h-4.5zM1231.5 606h4.5v5h-4.5zM1254 598h4.5v4h-4.5z" fill="#0000ff" fill-opacity="0.56" shape-rendering="geometricPrecision"/>
<path d="M241.5 490h4.5v4h-4.5zM304.5 314h4.5v4h-4.5zM309 302h4.5v4h-4.5zM349.5 206h4.5v4h-4.5zM385.5 154h4.5v4h-4.5zM444 138h4.5v4h-4.5zM457.5 150h4.5v4h-4.5zM480 182h4.5v4h-4.5zM489 198h4.5v4h-4.5zM493.5 214h4.5v4h-4.5zM502.5 226h4.5v4h-4.5zM561 386h4.5v4h-4.5zM565.5 390h4.5v4h-4.5zM565.5 398h4.5v4h-4.5zM570 402h4.5v4h-4.5zM574.5 414h4.5v4h-4.5zM579 426h4.5v4h-4.5zM583.5 438h4.5v4h-4.5zM588 450h4.5v4h-4.5zM588 458h4.5v4h-4.5zM633 550h4.5v4h-4.5zM642 570h4.5v4h-4.5zM651 582h4.5v4h-4.5zM727.5 586h4.5v4h-4.5zM750 554h4.5v4h-4.5zM754.5 546h4.5v4h-4.5zM763.5 522h4.5v4h-4.5zM786 470h4.5v4h-4.5zM786 478h4.5v4h-4.5zM826.5 362h4.5v4h-4.5zM831 350h4.5v4h-4.5zM831 358h4.5v4h-4.5zM835.5 346h4.5v4h-4.5zM858 286h4.5v4h-4.5zM862.5 266h4.5v4h-4.5zM862.5 274h4.5v4h-4.5zM876 234h4.5v4h-4.5zM885 214h4.5v4h-4.5zM898.5 194h4.5v4h-4.5zM903 186h4.5v4h-4.5zM912 166h4.5v4h-4.5zM921 154h4.5v4h-4.5zM943.5 138h4.5v4h-4.5zM952.5 134h4.5v4h-4.5zM984 142h4.5v4h-4.5zM988.5 146h4.5v4h-4.5zM1060.5 270h4.5v4h-4.5zM1060.5 278h4.5v4h-4.5zM1083 338h4.5v4h-4.5zM1087.5 350h4.5v4h-4.5zM1092 354h4.5v4h-4.5zM1096.5 366h4.5v4h-4.5zM1137 474h4.5v4h-4.5zM1164 534h4.5v4h-4.5zM1254 594h4.5v4h-4.5zM1258.5 590h4.5v4h-4.5z" fill="#0000ff" fill-opacity="0.60" shape-rendering="geometricPrecision"/>
<path d="M205.5 562h4.5v4h-4.5zM219 538h4.5v4h-4.5zM228 514h4.5v4h-4.5zM232.5 510h4.5v4h-4.5zM304.5 322h4.5v4h-4.5zM309 310h4.5v4h-4.5zM313.5 298h4.5v4h-4.5zM331.5 246h4.5v4h-4.5zM336 242h4.5v4h-4.5zM345 222h4.5v4h-4.5zM367.5 174h4.5v4h-4.5zM403.5 138h4.5v4h-4.5zM412.5 134h4.5v4h-4.5zM466.5 166h4.5v4h-4.5zM484.5 190h4.5v4h-4.5zM511.5 254h4.5v4h-4.5zM516 258h4.5v4h-4.5zM561 378h4.5v4h-4.5zM570 410h4.5v4h-4.5zM574.5 422h4.5v4h-4.5zM579 434h4.5v4h-4.5zM583.5 446h4.5v4h-4.5zM592.5 462h4.5v4h-4.5zM628.5 542h4.5v4h-4.5zM637.5 558h4.5v4h-4.5zM700.5 602h4.5v4h-4.5zM714 598h4.5v4h-4.5zM736.5 570h4.5v4h-4.5zM781.5 482h4.5v4h-4.5zM826.5 370h4.5v4h-4.5zM835.5 338h4.5v4h-4.5zM858 278h4.5v4h-4.5zM907.5 178h4.5v4h-4.5zM988.5 142h4.5v4h-4.5zM993 146h4.5v4h-4.5zM993 150h4.5v4h-4.5zM1006.5 162h4.5v4h-4.5zM1038 218h4.5v4h-4.5zM1042.5 234h4.5v4h-4.5zM1047 238h4.5v4h-4.5zM1056 266h4.5v4h-4.5zM1065 282h4.5v4h-4.5zM1083 330h4.5v4h-4.5zM1087.5 342h4.5v4h-4.5zM1092 362h4.5v4h-4.5zM1096.5 374h4.5v4h-4.5zM1132.5 470h4.5v4h-4.5zM1150.5 506h4.5v4h-4.5zM1155 522h4.5v4h-4.5zM1191 578h4.5v4h-4.5zM1258.5 594h4.5v4h-4.5zM1263 586h4.5v4h-4.5zM1263 590h4.5v4h-4.5z" fill="#0000ff" fill-opacity="0.64" shape-rendering="geometricPrecision"/>
<path d="M210 550h4.5v4h-4.5zM210 554h4.5v4h-4.5zM214.5 546h4.5v4h-4.5zM237 494h4.5v4h-4.5zM246 478h4.5v4h-4.5zM255 450h4.5v4h-4.5zM259.5 438h4.5v4h-4.5zM264 426h4.5v4h-4.5zM268.5 414h4.5v4h-4.5zM273 402h4.5v4h-4.5zM295.5 346h4.5v4h-4.5zM300 334h4.5v4h-4.5zM318 286h4.5v4h-4.5zM322.5 274h4.5v4h-4.5zM340.5 226h4.5v4h-4.5zM354 198h4.5v4h-4.5zM358.5 194h4.5v4h-4.5zM363 186h4.5v4h-4.5zM385.5 150h4.5v4h-4.5zM399 138h4.5v4h-4.5zM430.5 134h4.5v4h-4.5zM439.5 138h4.5v4h-4.5zM448.5 142h4.5v4h-4.5zM453 146h4.5v4h-4.5zM457.5 154h4.5v4h-4.5zM520.5 270h4.5v4h-4.5zM552 354h4.5v4h-4.5zM556.5 366h4.5v4h-4.5zM597 474h4.5v4h-4.5zM601.5 490h4.5v4h-4.5zM619.5 530h4.5v4h-4.5zM624 534h4.5v4h-4.5zM709.5 598h4.5v4h-4.5zM718.5 594h4.5v4h-4.5zM723 590h4.5v4h-4.5zM727.5 582h4.5v4h-4.5zM790.5 466h4.5v4h-4.5zM795 454h4.5v4h-4.5zM817.5 394h4.5v4h-4.5zM822 382h4.5v4h-4.5zM840 326h4.5v4h-4.5zM844.5 314h4.5v4h-4.5zM849 302h4.5v4h-4.5zM853.5 290h4.5v4h-4.5zM867 262h4.5v4h-4.5zM880.5 230h4.5v4h-4.5zM889.5 206h4.5v4h-4.5zM894 202h4.5v4h-4.5zM921 158h4.5v4h-4.5zM970.5 134h4.5v4h-4.5zM1006.5 166h4.5v4h-4.5zM1033.5 214h4.5v4h-4.5zM1069.5 294h4.5v4h-4.5zM1074 306h4.5v4h-4.5zM1078.5 318h4.5v4h-4.5zM1101 386h4.5v4h-4.5zM1105.5 398h4.5v4h-4.5zM1128 458h4.5v4h-4.5zM1141.5 486h4.5v4h-4.5zM1146 502h4.5v4h-4.5zM1159.5 526h4.5v4h-4.5zM1182 566h4.5v4h-4.5zM1182 570h4.5v4h-4.5zM1191 582h4.5v4h-4.5zM1240.5 602h4.5v4h-4.5z" fill="#0000ff" fill-opacity="0.68" shape-rendering="geometricPrecision"/>
<path d="M205.5 558h4.5v4h-4.5zM214.5 542h4.5v4h-4.5zM250.5 462h4.5v4h-4.5zM277.5 390h4.5v4h-4.5zM286.5 370h4.5v4h-4.5zM291 358h4.5v4h-4.5zM327 258h4.5v4h-4.5zM354 202h4.5v4h-4.5zM358.5 190h4.5v4h-4.5zM363 182h4.5v4h-4.5zM367.5 178h4.5v4h-4.5zM390 146h4.5v4h-4.5zM394.5 142h4.5v4h-4.5zM466.5 162h4.5v4h-4.5zM498 218h4.5v4h-4.5zM498 222h4.5v4h-4.5zM507 238h4.5v4h-4.5zM507 242h4.5v4h-4.5zM525 282h4.5v4h-4.5zM534 310h4.5v4h-4.5zM547.5 342h4.5v4h-4.5zM610.5 506h4.5v4h-4.5zM610.5 510h4.5v4h-4.5zM624 538h4.5v4h-4.5zM637.5 562h4.5v4h-4.5zM642 566h4.5v4h-4.5zM651 578h4.5v4h-4.5zM655.5 586h4.5v4h-4.5zM669 598h4.5v4h-4.5zM736.5 574h4.5v4h-4.5zM768 514h4.5v4h-4.5zM768 518h4.5v4h-4.5zM777 498h4.5v4h-4.5zM799.5 442h4.5v4h-4.5zM804 430h4.5v4h-4.5zM808.5 418h4.5v4h-4.5zM813 406h4.5v4h-4.5zM871.5 246h4.5v4h-4.5zM889.5 210h4.5v4h-4.5zM907.5 174h4.5v4h-4.5zM912 170h4.5v4h-4.5zM925.5 150h4.5v4h-4.5zM939 138h4.5v4h-4.5zM975 134h4.5v4h-4.5zM979.5 138h4.5v4h-4.5zM997.5 154h4.5v4h-4.5zM1051.5 254h4.5v4h-4.5zM1110 410h4.5v4h-4.5zM1114.5 422h4.5v4h-4.5zM1119 434h4.5v4h-4.5zM1123.5 446h4.5v4h-4.5zM1159.5 530h4.5v4h-4.5zM1249.5 598h4.5v4h-4.5zM1267.5 582h4.5v4h-4.5z" fill="#0000ff" fill-opacity="0.72" shape-rendering="geometricPrecision"/>
<path d="M196.5 574h4.5v4h-4.5zM219 534h4.5v4h-4.5zM228 518h4.5v4h-4.5zM232.5 506h4.5v4h-4.5zM237 498h4.5v4h-4.5zM246 474h4.5v4h-4.5zM250.5 466h4.5v4h-4.5zM255 454h4.5v4h-4.5zM259.5 442h4.5v4h-4.5zM273 406h4.5v4h-4.5zM277.5 394h4.5v4h-4.5zM282 378h4.5v4h-4.5zM282 382h4.5v4h-4.5zM286.5 366h4.5v4h-4.5zM291 354h4.5v4h-4.5zM295.5 342h4.5v4h-4.5zM322.5 270h4.5v4h-4.5zM327 262h4.5v4h-4.5zM340.5 230h4.5v4h-4.5zM372 170h4.5v4h-4.5zM376.5 162h4.5v4h-4.5zM381 158h4.5v4h-4.5zM435 134h4.5v4h-4.5zM462 158h4.5v4h-4.5zM475.5 178h4.5v4h-4.5zM480 186h4.5v4h-4.5zM484.5 194h4.5v4h-4.5zM520.5 274h4.5v4h-4.5zM525 286h4.5v4h-4.5zM529.5 294h4.5v4h-4.5zM529.5 298h4.5v4h-4.5zM534 306h4.5v4h-4.5zM538.5 318h4.5v4h-4.5zM538.5 322h4.5v4h-4.5zM543 330h4.5v4h-4.5zM543 334h4.5v4h-4.5zM547.5 346h4.5v4h-4.5zM552 358h4.5v4h-4.5zM597 478h4.5v4h-4.5zM601.5 486h4.5v4h-4.5zM619.5 526h4.5v4h-4.5zM628.5 546h4.5v4h-4.5zM633 554h4.5v4h-4.5zM646.5 574h4.5v4h-4.5zM660 590h4.5v4h-4.5zM664.5 594h4.5v4h-4.5zM705 602h4.5v4h-4.5zM732 578h4.5v4h-4.5zM745.5 558h4.5v4h-4.5zM750 550h4.5v4h-4.5zM754.5 542h4.5v4h-4.5zM777 494h4.5v4h-4.5zM781.5 486h4.5v4h-4.5zM795 450h4.5v4h-4.5zM799.5 438h4.5v4h-4.5zM804 426h4.5v4h-4.5zM808.5 414h4.5v4h-4.5zM813 402h4.5v4h-4.5zM817.5 390h4.5v4h-4.5zM867 258h4.5v4h-4.5zM871.5 250h4.5v4h-4.5zM880.5 226h4.5v4h-4.5zM894 198h4.5v4h-4.5zM898.5 190h4.5v4h-4.5zM903 182h4.5v4h-4.5zM930 146h4.5v4h-4.5zM934.5 142h4.5v4h-4.5zM1011 170h4.5v4h-4.5zM1020 186h4.5v4h-4.5zM1033.5 210h4.5v4h-4.5zM1038 222h4.5v4h-4.5zM1042.5 230h4.5v4h-4.5zM1047 242h4.5v4h-4.5zM1051.5 250h4.5v4h-4.5zM1105.5 394h4.5v4h-4.5zM1110 406h4.5v4h-4.5zM1114.5 418h4.5v4h-4.5zM1119 430h4.5v4h-4.5zM1123.5 442h4.5v4h-4.5zM1128 454h4.5v4h-4.5zM1141.5 490h4.5v4h-4.5zM1146 498h4.5v4h-4.5zM1155 518h4.5v4h-4.5zM1173 554h4.5v4h-4.5zM1177.5 562h4.5v4h-4.5zM1186.5 574h4.5v4h-4.5zM1195.5 586h4.5v4h-4.5zM1200 590h4.5v4h-4.5zM1204.5 594h4.5v4h-4.5zM1209 598h4.5v4h-4.5zM1245 602h4.5v4h-4.5z" fill="#0000ff" fill-opacity="0.76" shape-rendering="geometricPrecision"/>
<path d="M201 566h4.5v4h-4.5zM223.5 526h4.5v4h-4.5zM241.5 486h4.5v4h-4.5zM264 430h4.5v4h-4.5zM268.5 418h4.5v4h-4.5zM300 330h4.5v4h-4.5zM304.5 318h4.5v4h-4.5zM309 306h4.5v4h-4.5zM313.5 294h4.5v4h-4.5zM318 282h4.5v4h-4.5zM331.5 250h4.5v4h-4.5zM336 238h4.5v4h-4.5zM345 218h4.5v4h-4.5zM349.5 210h4.5v4h-4.5zM408 134h4.5v4h-4.5zM471 170h4.5v4h-4.5zM489 202h4.5v4h-4.5zM493.5 210h4.5v4h-4.5zM502.5 230h4.5v4h-4.5zM511.5 250h4.5v4h-4.5zM516 262h4.5v4h-4.5zM556.5 370h4.5v4h-4.5zM561 382h4.5v4h-4.5zM565.5 394h4.5v4h-4.5zM570 406h4.5v4h-4.5zM574.5 418h4.5v4h-4.5zM579 430h4.5v4h-4.5zM583.5 442h4.5v4h-4.5zM588 454h4.5v4h-4.5zM592.5 466h4.5v4h-4.5zM606 498h4.5v4h-4.5zM615 518h4.5v4h-4.5zM678 602h4.5v4h-4.5zM741 566h4.5v4h-4.5zM759 534h4.5v4h-4.5zM763.5 526h4.5v4h-4.5zM772.5 506h4.5v4h-4.5zM786 474h4.5v4h-4.5zM790.5 462h4.5v4h-4.5zM822 378h4.5v4h-4.5zM826.5 366h4.5v4h-4.5zM831 354h4.5v4h-4.5zM835.5 342h4.5v4h-4.5zM840 330h4.5v4h-4.5zM844.5 318h4.5v4h-4.5zM849 306h4.5v4h-4.5zM853.5 294h4.5v4h-4.5zM858 282h4.5v4h-4.5zM862.5 270h4.5v4h-4.5zM876 238h4.5v4h-4.5zM885 218h4.5v4h-4.5zM916.5 162h4.5v4h-4.5zM948 134h4.5v4h-4.5zM1002 158h4.5v4h-4.5zM1015.5 178h4.5v4h-4.5zM1024.5 194h4.5v4h-4.5zM1029 202h4.5v4h-4.5zM1056 262h4.5v4h-4.5zM1060.5 274h4.5v4h-4.5zM1065 286h4.5v4h-4.5zM1069.5 298h4.5v4h-4.5zM1074 310h4.5v4h-4.5zM1078.5 322h4.5v4h-4.5zM1083 334h4.5v4h-4.5zM1087.5 346h4.5v4h-4.5zM1092 358h4.5v4h-4.5zM1096.5 370h4.5v4h-4.5zM1101 382h4.5v4h-4.5zM1132.5 466h4.5v4h-4.5zM1137 478h4.5v4h-4.5zM1150.5 510h4.5v4h-4.5zM1164 538h4.5v4h-4.5zM1168.5 546h4.5v4h-4.5zM1218 602h4.5v4h-4.5z" fill="#0000ff" fill-opacity="0.80" shape-rendering="geometricPrecision"/>
<path d="M196.5 590h4.5v4h-4.5zM201 582h4.5v4h-4.5zM201 594h4.5v4h-4.5zM205.5 598h4.5v4h-4.5zM214.5 594h4.5v4h-4.5zM219 606h4.5v5h-4.5zM268.5 578h4.5v4h-4.5zM277.5 566h4.5v4h-4.5zM291 562h4.5v4h-4.5zM304.5 518h4.5v4h-4.5zM304.5 538h4.5v4h-4.5zM313.5 498h4.5v4h-4.5zM426 210h4.5v4h-4.5zM448.5 186h4.5v4h-4.5zM466.5 146h4.5v4h-4.5zM471 142h4.5v4h-4.5zM471 154h4.5v4h-4.5zM475.5 138h4.5v4h-4.5zM484.5 142h4.5v4h-4.5zM489 130h4.5v4h-4.5zM525 134h4.5v4h-4.5zM538.5 158h4.5v4h-4.5zM543 150h4.5v4h-4.5zM547.5 170h4.5v4h-4.5zM565.5 182h4.5v4h-4.5zM570 190h4.5v4h-4.5zM570 210h4.5v4h-4.5zM709.5 534h4.5v4h-4.5zM714 542h4.5v4h-4.5zM718.5 550h4.5v4h-4.5zM723 558h4.5v4h-4.5zM723 574h4.5v4h-4.5zM741 582h4.5v4h-4.5zM754.5 594h4.5v4h-4.5zM759 606h4.5v5h-4.5zM795 602h4.5v4h-4.5zM808.5 578h4.5v4h-4.5zM813 586h4.5v4h-4.5zM817.5 566h4.5v4h-4.5zM835.5 554h4.5v4h-4.5zM840 526h4.5v4h-4.5zM862.5 498h4.5v4h-4.5zM966 230h4.5v4h-4.5zM979.5 202h4.5v4h-4.5zM993 162h4.5v4h-4.5zM993 178h4.5v4h-4.5zM1002 150h4.5v4h-4.5zM1011 154h4.5v4h-4.5zM1024.5 142h4.5v4h-4.5zM1029 130h4.5v4h-4.5zM1056 130h4.5v4h-4.5zM1060.5 142h4.5v4h-4.5zM1083 150h4.5v4h-4.5zM1092 162h4.5v4h-4.5zM1092 178h4.5v4h-4.5zM1105.5 202h4.5v4h-4.5zM1119 230h4.5v4h-4.5zM1231.5 518h4.5v4h-4.5zM1245 526h4.5v4h-4.5z" fill="#ff0000" fill-opacity="0.04" shape-rendering="geometricPrecision"/>
<path d="M255 602h4.5v4h-4.5zM295.5 554h4.5v4h-4.5zM300 546h4.5v4h-4.5zM327 466h4.5v4h-4.5zM336 466h4.5v4h-4.5zM417 230h4.5v4h-4.5zM444 194h4.5v4h-4.5zM448.5 170h4.5v4h-4.5zM453 178h4.5v4h-4.5zM516 130h4.5v4h-4.5zM583.5 218h4.5v4h-4.5zM583.5 238h4.5v4h-4.5zM592.5 238h4.5v4h-4.5zM601.5 282h4.5v4h-4.5zM615 294h4.5v4h-4.5zM696 506h4.5v4h-4.5zM696 526h4.5v4h-4.5zM736.5 590h4.5v4h-4.5zM745.5 598h4.5v4h-4.5zM786 606h4.5v5h-4.5zM822 574h4.5v4h-4.5zM853.5 518h4.5v4h-4.5zM876 442h4.5v4h-4.5zM948 250h4.5v4h-4.5zM957 250h4.5v4h-4.5zM1006.5 146h4.5v4h-4.5zM1015.5 138h4.5v4h-4.5zM1069.5 138h4.5v4h-4.5zM1078.5 146h4.5v4h-4.5zM1078.5 158h4.5v4h-4.5zM1110 210h4.5v4h-4.5zM1128 250h4.5v4h-4.5zM1137 250h4.5v4h-4.5zM1263 574h4.5v4h-4.5zM1267.5 566h4.5v4h-4.5z" fill="#ff0000" fill-opacity="0.08" shape-rendering="geometricPrecision"/>
<path d="M246 598h4.5v4h-4.5zM246 606h4.5v5h-4.5zM273 574h4.5v4h-4.5zM273 586h4.5v4h-4.5zM313.5 518h4.5v4h-4.5zM322.5 478h4.5v4h-4.5zM322.5 498h4.5v4h-4.5zM340.5 454h4.5v4h-4.5zM358.5 406h4.5v4h-4.5zM363 394h4.5v4h-4.5zM367.5 358h4.5v4h-4.5zM372 346h4.5v4h-4.5zM399 274h4.5v4h-4.5zM412.5 262h4.5v4h-4.5zM426 230h4.5v4h-4.5zM430.5 202h4.5v4h-4.5zM439.5 202h4.5v4h-4.5zM516 138h4.5v4h-4.5zM529.5 138h4.5v4h-4.5zM538.5 146h4.5v4h-4.5zM552 162h4.5v4h-4.5zM574.5 218h4.5v4h-4.5zM597 270h4.5v4h-4.5zM619.5 306h4.5v4h-4.5zM628.5 354h4.5v4h-4.5zM633 366h4.5v4h-4.5zM673.5 474h4.5v4h-4.5zM687 486h4.5v4h-4.5zM687 506h4.5v4h-4.5zM705 526h4.5v4h-4.5zM718.5 566h4.5v4h-4.5zM727.5 566h4.5v4h-4.5zM736.5 578h4.5v4h-4.5zM741 594h4.5v4h-4.5zM786 598h4.5v4h-4.5zM799.5 598h4.5v4h-4.5zM808.5 590h4.5v4h-4.5zM844.5 518h4.5v4h-4.5zM853.5 498h4.5v4h-4.5zM871.5 454h4.5v4h-4.5zM889.5 406h4.5v4h-4.5zM894 394h4.5v4h-4.5zM898.5 382h4.5v4h-4.5zM957 230h4.5v4h-4.5zM966 210h4.5v4h-4.5zM975 210h4.5v4h-4.5zM997.5 170h4.5v4h-4.5zM1006.5 158h4.5v4h-4.5zM1011 142h4.5v4h-4.5zM1074 142h4.5v4h-4.5zM1087.5 170h4.5v4h-4.5zM1119 210h4.5v4h-4.5zM1150.5 306h4.5v4h-4.5zM1191 394h4.5v4h-4.5zM1195.5 406h4.5v4h-4.5zM1200 418h4.5v4h-4.5zM1204.5 430h4.5v4h-4.5zM1209 442h4.5v4h-4.5zM1213.5 454h4.5v4h-4.5zM1218 486h4.5v4h-4.5zM1231.5 498h4.5v4h-4.5z" fill="#ff0000" fill-opacity="0.12" shape-rendering="geometricPrecision"/>
<path d="M196.5 578h4.5v4h-4.5zM282 574h4.5v4h-4.5zM286.5 554h4.5v4h-4.5zM291 546h4.5v4h-4.5zM309 510h4.5v4h-4.5zM345 442h4.5v4h-4.5zM349.5 430h4.5v4h-4.5zM354 418h4.5v4h-4.5zM376.5 334h4.5v4h-4.5zM381 322h4.5v4h-4.5zM385.5 310h4.5v4h-4.5zM390 298h4.5v4h-4.5zM394.5 286h4.5v4h-4.5zM412.5 242h4.5v4h-4.5zM417 250h4.5v4h-4.5zM435 194h4.5v4h-4.5zM435 210h4.5v4h-4.5zM439.5 186h4.5v4h-4.5zM444 178h4.5v4h-4.5zM457.5 158h4.5v4h-4.5zM466.5 158h4.5v4h-4.5zM534 142h4.5v4h-4.5zM597 250h4.5v4h-4.5zM637.5 378h4.5v4h-4.5zM669 462h4.5v4h-4.5zM700.5 534h4.5v4h-4.5zM759 598h4.5v4h-4.5zM804 594h4.5v4h-4.5zM849 526h4.5v4h-4.5zM867 466h4.5v4h-4.5zM867 486h4.5v4h-4.5zM903 370h4.5v4h-4.5zM930 318h4.5v4h-4.5zM934.5 306h4.5v4h-4.5zM939 294h4.5v4h-4.5zM943.5 262h4.5v4h-4.5zM988.5 170h4.5v4h-4.5zM1096.5 170h4.5v4h-4.5zM1123.5 238h4.5v4h-4.5zM1128 230h4.5v4h-4.5zM1141.5 262h4.5v4h-4.5zM1141.5 282h4.5v4h-4.5zM1146 294h4.5v4h-4.5zM1155 318h4.5v4h-4.5zM1159.5 330h4.5v4h-4.5zM1186.5 382h4.5v4h-4.5zM1218 466h4.5v4h-4.5zM1236 526h4.5v4h-4.5zM1240.5 518h4.5v4h-4.5z" fill="#ff0000" fill-opacity="0.16" shape-rendering="geometricPrecision"/>
<path d="M259.5 598h4.5v4h-4.5zM268.5 590h4.5v4h-4.5zM295.5 538h4.5v4h-4.5zM421.5 222h4.5v4h-4.5zM457.5 170h4.5v4h-4.5zM543 162h4.5v4h-4.5zM579 210h4.5v4h-4.5zM592.5 258h4.5v4h-4.5zM642 390h4.5v4h-4.5zM646.5 402h4.5v4h-4.5zM651 394h4.5v4h-4.5zM651 414h4.5v4h-4.5zM655.5 406h4.5v4h-4.5zM660 418h4.5v4h-4.5zM664.5 430h4.5v4h-4.5zM664.5 450h4.5v4h-4.5zM669 442h4.5v4h-4.5zM673.5 454h4.5v4h-4.5zM714 558h4.5v4h-4.5zM907.5 358h4.5v4h-4.5zM912 346h4.5v4h-4.5zM916.5 354h4.5v4h-4.5zM921 342h4.5v4h-4.5zM925.5 330h4.5v4h-4.5zM939 274h4.5v4h-4.5zM943.5 282h4.5v4h-4.5zM961.5 238h4.5v4h-4.5zM970.5 202h4.5v4h-4.5zM970.5 218h4.5v4h-4.5zM1029 138h4.5v4h-4.5zM1056 138h4.5v4h-4.5zM1114.5 202h4.5v4h-4.5zM1114.5 218h4.5v4h-4.5zM1137 270h4.5v4h-4.5zM1164 342h4.5v4h-4.5zM1168.5 354h4.5v4h-4.5zM1177.5 358h4.5v4h-4.5zM1182 370h4.5v4h-4.5zM1213.5 474h4.5v4h-4.5zM1227 506h4.5v4h-4.5z" fill="#ff0000" fill-opacity="0.20" shape-rendering="geometricPrecision"/>
<path d="M219 598h4.5v4h-4.5zM264 594h4.5v4h-4.5zM282 562h4.5v4h-4.5zM318 490h4.5v4h-4.5zM327 486h4.5v4h-4.5zM390 318h4.5v4h-4.5zM394.5 306h4.5v4h-4.5zM556.5 170h4.5v4h-4.5zM556.5 182h4.5v4h-4.5zM561 190h4.5v4h-4.5zM579 226h4.5v4h-4.5zM588 230h4.5v4h-4.5zM646.5 382h4.5v4h-4.5zM655.5 426h4.5v4h-4.5zM660 438h4.5v4h-4.5zM682.5 494h4.5v4h-4.5zM691.5 498h4.5v4h-4.5zM700.5 518h4.5v4h-4.5zM705 542h4.5v4h-4.5zM709.5 550h4.5v4h-4.5zM727.5 578h4.5v4h-4.5zM813 574h4.5v4h-4.5zM826.5 566h4.5v4h-4.5zM831 546h4.5v4h-4.5zM858 506h4.5v4h-4.5zM862.5 478h4.5v4h-4.5zM871.5 474h4.5v4h-4.5zM912 366h4.5v4h-4.5zM916.5 334h4.5v4h-4.5zM921 322h4.5v4h-4.5zM934.5 286h4.5v4h-4.5zM948 270h4.5v4h-4.5zM975 194h4.5v4h-4.5zM979.5 186h4.5v4h-4.5zM984 178h4.5v4h-4.5zM997.5 158h4.5v4h-4.5zM1087.5 158h4.5v4h-4.5zM1101 178h4.5v4h-4.5zM1146 274h4.5v4h-4.5zM1173 346h4.5v4h-4.5zM1173 366h4.5v4h-4.5zM1177.5 378h4.5v4h-4.5zM1222.5 478h4.5v4h-4.5zM1240.5 534h4.5v4h-4.5zM1258.5 566h4.5v4h-4.5z" fill="#ff0000" fill-opacity="0.24" shape-rendering="geometricPrecision"/>
<path d="M300 530h4.5v4h-4.5zM309 526h4.5v4h-4.5zM336 446h4.5v4h-4.5zM340.5 434h4.5v4h-4.5zM345 422h4.5v4h-4.5zM349.5 410h4.5v4h-4.5zM354 398h4.5v4h-4.5zM381 342h4.5v4h-4.5zM385.5 330h4.5v4h-4.5zM399 294h4.5v4h-4.5zM403.5 282h4.5v4h-4.5zM408 254h4.5v4h-4.5zM421.5 238h4.5v4h-4.5zM489 138h4.5v4h-4.5zM493.5 130h4.5v4h-4.5zM565.5 198h4.5v4h-4.5zM574.5 202h4.5v4h-4.5zM588 246h4.5v4h-4.5zM601.5 262h4.5v4h-4.5zM637.5 358h4.5v4h-4.5zM642 370h4.5v4h-4.5zM678 466h4.5v4h-4.5zM691.5 514h4.5v4h-4.5zM826.5 554h4.5v4h-4.5zM835.5 538h4.5v4h-4.5zM844.5 534h4.5v4h-4.5zM849 510h4.5v4h-4.5zM876 462h4.5v4h-4.5zM903 390h4.5v4h-4.5zM907.5 378h4.5v4h-4.5zM925.5 310h4.5v4h-4.5zM930 298h4.5v4h-4.5zM952.5 242h4.5v4h-4.5zM952.5 258h4.5v4h-4.5zM1083 162h4.5v4h-4.5zM1105.5 186h4.5v4h-4.5zM1110 194h4.5v4h-4.5zM1132.5 242h4.5v4h-4.5zM1132.5 258h4.5v4h-4.5zM1150.5 286h4.5v4h-4.5zM1155 298h4.5v4h-4.5zM1159.5 310h4.5v4h-4.5zM1164 322h4.5v4h-4.5zM1168.5 334h4.5v4h-4.5zM1182 390h4.5v4h-4.5zM1186.5 402h4.5v4h-4.5zM1204.5 450h4.5v4h-4.5zM1209 462h4.5v4h-4.5zM1236 510h4.5v4h-4.5zM1254 546h4.5v4h-4.5zM1258.5 554h4.5v4h-4.5z" fill="#ff0000" fill-opacity="0.28" shape-rendering="geometricPrecision"/>
<path d="M223.5 606h4.5v5h-4.5zM232.5 602h4.5v4h-4.5zM255 594h4.5v4h-4.5zM259.5 590h4.5v4h-4.5zM264 586h4.5v4h-4.5zM286.5 566h4.5v4h-4.5zM318 506h4.5v4h-4.5zM331.5 458h4.5v4h-4.5zM331.5 474h4.5v4h-4.5zM358.5 386h4.5v4h-4.5zM372 366h4.5v4h-4.5zM376.5 354h4.5v4h-4.5zM408 270h4.5v4h-4.5zM430.5 218h4.5v4h-4.5zM484.5 134h4.5v4h-4.5zM511.5 130h4.5v4h-4.5zM552 174h4.5v4h-4.5zM606 274h4.5v4h-4.5zM610.5 302h4.5v4h-4.5zM615 314h4.5v4h-4.5zM619.5 326h4.5v4h-4.5zM633 346h4.5v4h-4.5zM682.5 478h4.5v4h-4.5zM732 574h4.5v4h-4.5zM772.5 602h4.5v4h-4.5zM817.5 578h4.5v4h-4.5zM831 558h4.5v4h-4.5zM840 542h4.5v4h-4.5zM858 490h4.5v4h-4.5zM880.5 450h4.5v4h-4.5zM885 438h4.5v4h-4.5zM894 414h4.5v4h-4.5zM898.5 402h4.5v4h-4.5zM961.5 222h4.5v4h-4.5zM984 190h4.5v4h-4.5zM1002 162h4.5v4h-4.5zM1033.5 130h4.5v4h-4.5zM1051.5 130h4.5v4h-4.5zM1096.5 182h4.5v4h-4.5zM1101 190h4.5v4h-4.5zM1119 226h4.5v4h-4.5zM1123.5 222h4.5v4h-4.5zM1191 414h4.5v4h-4.5zM1195.5 426h4.5v4h-4.5zM1200 438h4.5v4h-4.5zM1222.5 494h4.5v4h-4.5zM1227 490h4.5v4h-4.5zM1245 542h4.5v4h-4.5zM1249.5 538h4.5v4h-4.5zM1249.5 550h4.5v4h-4.5zM1254 558h4.5v4h-4.5zM1267.5 578h4.5v4h-4.5z" fill="#ff0000" fill-opacity="0.32" shape-rendering="geometricPrecision"/>
<path d="M214.5 602h4.5v4h-4.5zM237 602h4.5v4h-4.5zM304.5 534h4.5v4h-4.5zM313.5 502h4.5v4h-4.5zM327 470h4.5v4h-4.5zM363 374h4.5v4h-4.5zM367.5 362h4.5v4h-4.5zM367.5 378h4.5v4h-4.5zM403.5 266h4.5v4h-4.5zM417 234h4.5v4h-4.5zM426 214h4.5v4h-4.5zM502.5 134h4.5v4h-4.5zM547.5 158h4.5v4h-4.5zM561 178h4.5v4h-4.5zM570 194h4.5v4h-4.5zM570 206h4.5v4h-4.5zM606 290h4.5v4h-4.5zM610.5 286h4.5v4h-4.5zM624 322h4.5v4h-4.5zM624 338h4.5v4h-4.5zM628.5 334h4.5v4h-4.5zM678 482h4.5v4h-4.5zM763.5 606h4.5v5h-4.5zM781.5 606h4.5v5h-4.5zM822 562h4.5v4h-4.5zM840 530h4.5v4h-4.5zM862.5 494h4.5v4h-4.5zM880.5 434h4.5v4h-4.5zM885 422h4.5v4h-4.5zM889.5 410h4.5v4h-4.5zM889.5 426h4.5v4h-4.5zM966 226h4.5v4h-4.5zM988.5 182h4.5v4h-4.5zM1042.5 134h4.5v4h-4.5zM1105.5 198h4.5v4h-4.5zM1231.5 514h4.5v4h-4.5zM1263 562h4.5v4h-4.5z" fill="#ff0000" fill-opacity="0.36" shape-rendering="geometricPrecision"/>
<path d="M241.5 606h4.5v5h-4.5zM304.5 522h4.5v4h-4.5zM336 462h4.5v4h-4.5zM340.5 450h4.5v4h-4.5zM358.5 402h4.5v4h-4.5zM363 390h4.5v4h-4.5zM372 350h4.5v4h-4.5zM376.5 338h4.5v4h-4.5zM399 278h4.5v4h-4.5zM412.5 258h4.5v4h-4.5zM453 166h4.5v4h-4.5zM462 154h4.5v4h-4.5zM462 162h4.5v4h-4.5zM529.5 146h4.5v4h-4.5zM565.5 186h4.5v4h-4.5zM583.5 222h4.5v4h-4.5zM592.5 242h4.5v4h-4.5zM601.5 278h4.5v4h-4.5zM615 298h4.5v4h-4.5zM619.5 310h4.5v4h-4.5zM628.5 350h4.5v4h-4.5zM633 362h4.5v4h-4.5zM696 510h4.5v4h-4.5zM696 522h4.5v4h-4.5zM709.5 538h4.5v4h-4.5zM714 546h4.5v4h-4.5zM718.5 554h4.5v4h-4.5zM754.5 602h4.5v4h-4.5zM768 602h4.5v4h-4.5zM777 602h4.5v4h-4.5zM795 594h4.5v4h-4.5zM799.5 590h4.5v4h-4.5zM835.5 550h4.5v4h-4.5zM853.5 514h4.5v4h-4.5zM871.5 458h4.5v4h-4.5zM876 446h4.5v4h-4.5zM894 398h4.5v4h-4.5zM898.5 386h4.5v4h-4.5zM948 254h4.5v4h-4.5zM957 246h4.5v4h-4.5zM979.5 198h4.5v4h-4.5zM1024.5 134h4.5v4h-4.5zM1060.5 134h4.5v4h-4.5zM1128 246h4.5v4h-4.5zM1137 254h4.5v4h-4.5zM1150.5 302h4.5v4h-4.5zM1155 314h4.5v4h-4.5zM1191 398h4.5v4h-4.5zM1195.5 410h4.5v4h-4.5zM1200 422h4.5v4h-4.5zM1204.5 434h4.5v4h-4.5zM1209 446h4.5v4h-4.5zM1245 530h4.5v4h-4.5z" fill="#ff0000" fill-opacity="0.40" shape-rendering="geometricPrecision"/>
<path d="M228 602h4.5v4h-4.5zM277.5 570h4.5v4h-4.5zM277.5 578h4.5v4h-4.5zM291 558h4.5v4h-4.5zM300 542h4.5v4h-4.5zM322.5 482h4.5v4h-4.5zM322.5 494h4.5v4h-4.5zM345 438h4.5v4h-4.5zM349.5 426h4.5v4h-4.5zM354 414h4.5v4h-4.5zM381 326h4.5v4h-4.5zM385.5 314h4.5v4h-4.5zM390 302h4.5v4h-4.5zM394.5 290h4.5v4h-4.5zM426 226h4.5v4h-4.5zM444 190h4.5v4h-4.5zM507 134h4.5v4h-4.5zM520.5 134h4.5v4h-4.5zM525 142h4.5v4h-4.5zM534 150h4.5v4h-4.5zM574.5 214h4.5v4h-4.5zM583.5 234h4.5v4h-4.5zM597 266h4.5v4h-4.5zM637.5 374h4.5v4h-4.5zM673.5 470h4.5v4h-4.5zM687 490h4.5v4h-4.5zM687 502h4.5v4h-4.5zM723 562h4.5v4h-4.5zM804 586h4.5v4h-4.5zM853.5 502h4.5v4h-4.5zM867 470h4.5v4h-4.5zM903 374h4.5v4h-4.5zM925.5 326h4.5v4h-4.5zM930 314h4.5v4h-4.5zM934.5 302h4.5v4h-4.5zM943.5 266h4.5v4h-4.5zM966 214h4.5v4h-4.5zM975 206h4.5v4h-4.5zM993 174h4.5v4h-4.5zM1038 134h4.5v4h-4.5zM1047 134h4.5v4h-4.5zM1092 174h4.5v4h-4.5zM1110 206h4.5v4h-4.5zM1146 290h4.5v4h-4.5zM1159.5 326h4.5v4h-4.5zM1164 338h4.5v4h-4.5zM1182 374h4.5v4h-4.5zM1186.5 386h4.5v4h-4.5zM1213.5 458h4.5v4h-4.5zM1218 482h4.5v4h-4.5zM1231.5 502h4.5v4h-4.5z" fill="#ff0000" fill-opacity="0.44" shape-rendering="geometricPrecision"/>
<path d="M268.5 582h4.5v4h-4.5zM295.5 550h4.5v4h-4.5zM313.5 514h4.5v4h-4.5zM430.5 206h4.5v4h-4.5zM439.5 198h4.5v4h-4.5zM448.5 182h4.5v4h-4.5zM498 130h4.5v4h-4.5zM498 134h4.5v4h-4.5zM597 254h4.5v4h-4.5zM642 386h4.5v4h-4.5zM646.5 398h4.5v4h-4.5zM651 398h4.5v4h-4.5zM651 410h4.5v4h-4.5zM655.5 410h4.5v4h-4.5zM660 422h4.5v4h-4.5zM664.5 434h4.5v4h-4.5zM664.5 446h4.5v4h-4.5zM669 446h4.5v4h-4.5zM669 458h4.5v4h-4.5zM705 530h4.5v4h-4.5zM723 570h4.5v4h-4.5zM732 582h4.5v4h-4.5zM745.5 590h4.5v4h-4.5zM790.5 602h4.5v4h-4.5zM844.5 522h4.5v4h-4.5zM867 482h4.5v4h-4.5zM907.5 362h4.5v4h-4.5zM912 350h4.5v4h-4.5zM916.5 350h4.5v4h-4.5zM921 338h4.5v4h-4.5zM939 278h4.5v4h-4.5zM939 290h4.5v4h-4.5zM943.5 278h4.5v4h-4.5zM957 234h4.5v4h-4.5zM993 166h4.5v4h-4.5zM1002 154h4.5v4h-4.5zM1015.5 146h4.5v4h-4.5zM1038 130h4.5v4h-4.5zM1047 130h4.5v4h-4.5zM1069.5 146h4.5v4h-4.5zM1119 214h4.5v4h-4.5zM1128 234h4.5v4h-4.5zM1141.5 266h4.5v4h-4.5zM1141.5 278h4.5v4h-4.5zM1168.5 350h4.5v4h-4.5zM1173 362h4.5v4h-4.5zM1177.5 362h4.5v4h-4.5zM1218 470h4.5v4h-4.5z" fill="#ff0000" fill-opacity="0.48" shape-rendering="geometricPrecision"/>
<path d="M228 606h4.5v5h-4.5zM309 514h4.5v4h-4.5zM390 314h4.5v4h-4.5zM394.5 302h4.5v4h-4.5zM412.5 246h4.5v4h-4.5zM417 246h4.5v4h-4.5zM448.5 174h4.5v4h-4.5zM453 174h4.5v4h-4.5zM507 130h4.5v4h-4.5zM547.5 166h4.5v4h-4.5zM592.5 254h4.5v4h-4.5zM646.5 386h4.5v4h-4.5zM655.5 422h4.5v4h-4.5zM660 434h4.5v4h-4.5zM673.5 458h4.5v4h-4.5zM700.5 530h4.5v4h-4.5zM750 594h4.5v4h-4.5zM817.5 570h4.5v4h-4.5zM849 522h4.5v4h-4.5zM862.5 482h4.5v4h-4.5zM871.5 470h4.5v4h-4.5zM912 362h4.5v4h-4.5zM916.5 338h4.5v4h-4.5zM921 326h4.5v4h-4.5zM934.5 290h4.5v4h-4.5zM961.5 234h4.5v4h-4.5zM1020 142h4.5v4h-4.5zM1065 142h4.5v4h-4.5zM1074 150h4.5v4h-4.5zM1083 154h4.5v4h-4.5zM1092 166h4.5v4h-4.5zM1123.5 234h4.5v4h-4.5zM1137 266h4.5v4h-4.5zM1146 278h4.5v4h-4.5zM1168.5 338h4.5v4h-4.5zM1173 350h4.5v4h-4.5zM1177.5 374h4.5v4h-4.5zM1213.5 470h4.5v4h-4.5zM1236 522h4.5v4h-4.5zM1240.5 522h4.5v4h-4.5zM1267.5 570h4.5v4h-4.5z" fill="#ff0000" fill-opacity="0.52" shape-rendering="geometricPrecision"/>
<path d="M196.5 586h4.5v4h-4.5zM205.5 590h4.5v4h-4.5zM237 606h4.5v5h-4.5zM241.5 602h4.5v4h-4.5zM250.5 598h4.5v4h-4.5zM250.5 602h4.5v4h-4.5zM318 494h4.5v4h-4.5zM327 482h4.5v4h-4.5zM336 450h4.5v4h-4.5zM340.5 438h4.5v4h-4.5zM345 426h4.5v4h-4.5zM349.5 414h4.5v4h-4.5zM354 402h4.5v4h-4.5zM358.5 390h4.5v4h-4.5zM376.5 350h4.5v4h-4.5zM381 338h4.5v4h-4.5zM385.5 326h4.5v4h-4.5zM399 290h4.5v4h-4.5zM403.5 278h4.5v4h-4.5zM421.5 226h4.5v4h-4.5zM435 198h4.5v4h-4.5zM435 206h4.5v4h-4.5zM466.5 150h4.5v4h-4.5zM475.5 146h4.5v4h-4.5zM538.5 154h4.5v4h-4.5zM579 214h4.5v4h-4.5zM601.5 266h4.5v4h-4.5zM637.5 362h4.5v4h-4.5zM642 374h4.5v4h-4.5zM678 470h4.5v4h-4.5zM682.5 490h4.5v4h-4.5zM691.5 502h4.5v4h-4.5zM741 586h4.5v4h-4.5zM768 606h4.5v5h-4.5zM777 606h4.5v5h-4.5zM808.5 582h4.5v4h-4.5zM858 502h4.5v4h-4.5zM876 458h4.5v4h-4.5zM903 386h4.5v4h-4.5zM907.5 374h4.5v4h-4.5zM925.5 314h4.5v4h-4.5zM930 302h4.5v4h-4.5zM948 266h4.5v4h-4.5zM970.5 206h4.5v4h-4.5zM970.5 214h4.5v4h-4.5zM1011 150h4.5v4h-4.5zM1114.5 214h4.5v4h-4.5zM1150.5 290h4.5v4h-4.5zM1155 302h4.5v4h-4.5zM1159.5 314h4.5v4h-4.5zM1164 326h4.5v4h-4.5zM1182 386h4.5v4h-4.5zM1186.5 398h4.5v4h-4.5zM1209 458h4.5v4h-4.5zM1222.5 482h4.5v4h-4.5zM1227 502h4.5v4h-4.5zM1263 570h4.5v4h-4.5z" fill="#ff0000" fill-opacity="0.56" shape-rendering="geometricPrecision"/>
<path d="M210 594h4.5v4h-4.5zM210 598h4.5v4h-4.5zM232.5 606h4.5v5h-4.5zM291 550h4.5v4h-4.5zM295.5 542h4.5v4h-4.5zM331.5 462h4.5v4h-4.5zM363 378h4.5v4h-4.5zM372 362h4.5v4h-4.5zM408 258h4.5v4h-4.5zM439.5 190h4.5v4h-4.5zM444 182h4.5v4h-4.5zM480 138h4.5v4h-4.5zM480 142h4.5v4h-4.5zM502.5 130h4.5v4h-4.5zM543 154h4.5v4h-4.5zM552 166h4.5v4h-4.5zM579 222h4.5v4h-4.5zM588 234h4.5v4h-4.5zM588 242h4.5v4h-4.5zM606 278h4.5v4h-4.5zM610.5 298h4.5v4h-4.5zM615 310h4.5v4h-4.5zM619.5 322h4.5v4h-4.5zM633 350h4.5v4h-4.5zM700.5 522h4.5v4h-4.5zM718.5 562h4.5v4h-4.5zM772.5 606h4.5v5h-4.5zM781.5 602h4.5v4h-4.5zM813 582h4.5v4h-4.5zM822 570h4.5v4h-4.5zM849 514h4.5v4h-4.5zM880.5 446h4.5v4h-4.5zM894 410h4.5v4h-4.5zM898.5 398h4.5v4h-4.5zM952.5 246h4.5v4h-4.5zM997.5 166h4.5v4h-4.5zM1042.5 130h4.5v4h-4.5zM1087.5 166h4.5v4h-4.5zM1114.5 206h4.5v4h-4.5zM1132.5 254h4.5v4h-4.5zM1191 410h4.5v4h-4.5zM1195.5 422h4.5v4h-4.5zM1200 434h4.5v4h-4.5zM1204.5 446h4.5v4h-4.5z" fill="#ff0000" fill-opacity="0.60" shape-rendering="geometricPrecision"/>
<path d="M201 586h4.5v4h-4.5zM286.5 558h4.5v4h-4.5zM309 522h4.5v4h-4.5zM318 502h4.5v4h-4.5zM331.5 470h4.5v4h-4.5zM367.5 366h4.5v4h-4.5zM367.5 374h4.5v4h-4.5zM408 266h4.5v4h-4.5zM421.5 234h4.5v4h-4.5zM471 150h4.5v4h-4.5zM511.5 134h4.5v4h-4.5zM520.5 138h4.5v4h-4.5zM606 286h4.5v4h-4.5zM610.5 290h4.5v4h-4.5zM624 326h4.5v4h-4.5zM624 334h4.5v4h-4.5zM628.5 338h4.5v4h-4.5zM682.5 482h4.5v4h-4.5zM691.5 510h4.5v4h-4.5zM705 538h4.5v4h-4.5zM727.5 570h4.5v4h-4.5zM736.5 586h4.5v4h-4.5zM763.5 602h4.5v4h-4.5zM790.5 598h4.5v4h-4.5zM844.5 530h4.5v4h-4.5zM858 494h4.5v4h-4.5zM880.5 438h4.5v4h-4.5zM885 426h4.5v4h-4.5zM885 434h4.5v4h-4.5zM889.5 414h4.5v4h-4.5zM889.5 422h4.5v4h-4.5zM952.5 254h4.5v4h-4.5zM961.5 226h4.5v4h-4.5zM975 198h4.5v4h-4.5zM988.5 174h4.5v4h-4.5zM1006.5 150h4.5v4h-4.5zM1020 138h4.5v4h-4.5zM1078.5 154h4.5v4h-4.5zM1096.5 174h4.5v4h-4.5zM1132.5 246h4.5v4h-4.5zM1222.5 490h4.5v4h-4.5zM1227 494h4.5v4h-4.5zM1236 514h4.5v4h-4.5zM1240.5 530h4.5v4h-4.5z" fill="#ff0000" fill-opacity="0.64" shape-rendering="geometricPrecision"/>
<path d="M201 590h4.5v4h-4.5zM205.5 594h4.5v4h-4.5zM223.5 602h4.5v4h-4.5zM273 578h4.5v4h-4.5zM273 582h4.5v4h-4.5zM282 570h4.5v4h-4.5zM300 534h4.5v4h-4.5zM313.5 506h4.5v4h-4.5zM327 474h4.5v4h-4.5zM336 458h4.5v4h-4.5zM358.5 398h4.5v4h-4.5zM363 386h4.5v4h-4.5zM372 354h4.5v4h-4.5zM376.5 342h4.5v4h-4.5zM399 282h4.5v4h-4.5zM403.5 270h4.5v4h-4.5zM430.5 214h4.5v4h-4.5zM457.5 162h4.5v4h-4.5zM457.5 166h4.5v4h-4.5zM471 146h4.5v4h-4.5zM475.5 142h4.5v4h-4.5zM556.5 178h4.5v4h-4.5zM561 186h4.5v4h-4.5zM565.5 194h4.5v4h-4.5zM574.5 206h4.5v4h-4.5zM601.5 274h4.5v4h-4.5zM615 302h4.5v4h-4.5zM619.5 314h4.5v4h-4.5zM628.5 346h4.5v4h-4.5zM633 358h4.5v4h-4.5zM678 478h4.5v4h-4.5zM709.5 546h4.5v4h-4.5zM714 554h4.5v4h-4.5zM736.5 582h4.5v4h-4.5zM750 598h4.5v4h-4.5zM754.5 598h4.5v4h-4.5zM831 550h4.5v4h-4.5zM835.5 542h4.5v4h-4.5zM862.5 490h4.5v4h-4.5zM876 450h4.5v4h-4.5zM894 402h4.5v4h-4.5zM898.5 390h4.5v4h-4.5zM948 258h4.5v4h-4.5zM979.5 190h4.5v4h-4.5zM984 182h4.5v4h-4.5zM1006.5 154h4.5v4h-4.5zM1024.5 138h4.5v4h-4.5zM1033.5 134h4.5v4h-4.5zM1051.5 134h4.5v4h-4.5zM1060.5 138h4.5v4h-4.5zM1065 138h4.5v4h-4.5zM1078.5 150h4.5v4h-4.5zM1110 198h4.5v4h-4.5zM1119 222h4.5v4h-4.5zM1123.5 226h4.5v4h-4.5zM1155 310h4.5v4h-4.5zM1186.5 390h4.5v4h-4.5zM1191 402h4.5v4h-4.5zM1195.5 414h4.5v4h-4.5zM1200 426h4.5v4h-4.5zM1204.5 438h4.5v4h-4.5zM1209 450h4.5v4h-4.5zM1254 550h4.5v4h-4.5zM1258.5 562h4.5v4h-4.5z" fill="#ff0000" fill-opacity="0.68" shape-rendering="geometricPrecision"/>
<path d="M196.5 582h4.5v4h-4.5zM214.5 598h4.5v4h-4.5zM282 566h4.5v4h-4.5zM304.5 526h4.5v4h-4.5zM304.5 530h4.5v4h-4.5zM340.5 446h4.5v4h-4.5zM345 434h4.5v4h-4.5zM349.5 422h4.5v4h-4.5zM354 410h4.5v4h-4.5zM381 330h4.5v4h-4.5zM385.5 318h4.5v4h-4.5zM390 306h4.5v4h-4.5zM394.5 294h4.5v4h-4.5zM412.5 254h4.5v4h-4.5zM417 238h4.5v4h-4.5zM426 218h4.5v4h-4.5zM466.5 154h4.5v4h-4.5zM484.5 138h4.5v4h-4.5zM493.5 134h4.5v4h-4.5zM525 138h4.5v4h-4.5zM538.5 150h4.5v4h-4.5zM556.5 174h4.5v4h-4.5zM570 202h4.5v4h-4.5zM583.5 230h4.5v4h-4.5zM592.5 246h4.5v4h-4.5zM597 262h4.5v4h-4.5zM637.5 370h4.5v4h-4.5zM642 382h4.5v4h-4.5zM673.5 466h4.5v4h-4.5zM696 514h4.5v4h-4.5zM741 590h4.5v4h-4.5zM745.5 594h4.5v4h-4.5zM795 598h4.5v4h-4.5zM808.5 586h4.5v4h-4.5zM826.5 558h4.5v4h-4.5zM826.5 562h4.5v4h-4.5zM840 538h4.5v4h-4.5zM853.5 510h4.5v4h-4.5zM871.5 462h4.5v4h-4.5zM903 378h4.5v4h-4.5zM907.5 366h4.5v4h-4.5zM925.5 322h4.5v4h-4.5zM930 310h4.5v4h-4.5zM934.5 298h4.5v4h-4.5zM957 242h4.5v4h-4.5zM966 222h4.5v4h-4.5zM1011 146h4.5v4h-4.5zM1015.5 142h4.5v4h-4.5zM1074 146h4.5v4h-4.5zM1101 182h4.5v4h-4.5zM1105.5 190h4.5v4h-4.5zM1128 242h4.5v4h-4.5zM1137 258h4.5v4h-4.5zM1146 286h4.5v4h-4.5zM1150.5 298h4.5v4h-4.5zM1159.5 322h4.5v4h-4.5zM1164 334h4.5v4h-4.5zM1182 378h4.5v4h-4.5zM1213.5 462h4.5v4h-4.5zM1231.5 510h4.5v4h-4.5zM1245 538h4.5v4h-4.5zM1249.5 542h4.5v4h-4.5zM1258.5 558h4.5v4h-4.5z" fill="#ff0000" fill-opacity="0.72" shape-rendering="geometricPrecision"/>
<path d="M255 598h4.5v4h-4.5zM286.5 562h4.5v4h-4.5zM322.5 486h4.5v4h-4.5zM322.5 490h4.5v4h-4.5zM489 134h4.5v4h-4.5zM543 158h4.5v4h-4.5zM552 170h4.5v4h-4.5zM561 182h4.5v4h-4.5zM565.5 190h4.5v4h-4.5zM570 198h4.5v4h-4.5zM583.5 226h4.5v4h-4.5zM646.5 394h4.5v4h-4.5zM651 402h4.5v4h-4.5zM651 406h4.5v4h-4.5zM655.5 414h4.5v4h-4.5zM660 426h4.5v4h-4.5zM664.5 438h4.5v4h-4.5zM664.5 442h4.5v4h-4.5zM669 450h4.5v4h-4.5zM669 454h4.5v4h-4.5zM687 494h4.5v4h-4.5zM687 498h4.5v4h-4.5zM696 518h4.5v4h-4.5zM709.5 542h4.5v4h-4.5zM714 550h4.5v4h-4.5zM727.5 574h4.5v4h-4.5zM813 578h4.5v4h-4.5zM831 554h4.5v4h-4.5zM835.5 546h4.5v4h-4.5zM840 534h4.5v4h-4.5zM853.5 506h4.5v4h-4.5zM867 474h4.5v4h-4.5zM867 478h4.5v4h-4.5zM912 354h4.5v4h-4.5zM916.5 342h4.5v4h-4.5zM916.5 346h4.5v4h-4.5zM921 334h4.5v4h-4.5zM939 286h4.5v4h-4.5zM943.5 270h4.5v4h-4.5zM943.5 274h4.5v4h-4.5zM979.5 194h4.5v4h-4.5zM984 186h4.5v4h-4.5zM988.5 178h4.5v4h-4.5zM997.5 162h4.5v4h-4.5zM1069.5 142h4.5v4h-4.5zM1087.5 162h4.5v4h-4.5zM1096.5 178h4.5v4h-4.5zM1101 186h4.5v4h-4.5zM1105.5 194h4.5v4h-4.5zM1141.5 270h4.5v4h-4.5zM1141.5 274h4.5v4h-4.5zM1168.5 346h4.5v4h-4.5zM1173 354h4.5v4h-4.5zM1173 358h4.5v4h-4.5zM1177.5 366h4.5v4h-4.5zM1218 474h4.5v4h-4.5zM1218 478h4.5v4h-4.5zM1245 534h4.5v4h-4.5zM1249.5 546h4.5v4h-4.5zM1254 554h4.5v4h-4.5z" fill="#ff0000" fill-opacity="0.76" shape-rendering="geometricPrecision"/>
<path d="M219 602h4.5v4h-4.5zM259.5 594h4.5v4h-4.5zM264 590h4.5v4h-4.5zM268.5 586h4.5v4h-4.5zM277.5 574h4.5v4h-4.5zM291 554h4.5v4h-4.5zM295.5 546h4.5v4h-4.5zM300 538h4.5v4h-4.5zM309 518h4.5v4h-4.5zM313.5 510h4.5v4h-4.5zM340.5 442h4.5v4h-4.5zM345 430h4.5v4h-4.5zM349.5 418h4.5v4h-4.5zM354 406h4.5v4h-4.5zM381 334h4.5v4h-4.5zM385.5 322h4.5v4h-4.5zM390 310h4.5v4h-4.5zM394.5 298h4.5v4h-4.5zM399 286h4.5v4h-4.5zM412.5 250h4.5v4h-4.5zM417 242h4.5v4h-4.5zM426 222h4.5v4h-4.5zM430.5 210h4.5v4h-4.5zM435 202h4.5v4h-4.5zM439.5 194h4.5v4h-4.5zM444 186h4.5v4h-4.5zM448.5 178h4.5v4h-4.5zM453 170h4.5v4h-4.5zM462 158h4.5v4h-4.5zM516 134h4.5v4h-4.5zM529.5 142h4.5v4h-4.5zM534 146h4.5v4h-4.5zM547.5 162h4.5v4h-4.5zM574.5 210h4.5v4h-4.5zM592.5 250h4.5v4h-4.5zM597 258h4.5v4h-4.5zM642 378h4.5v4h-4.5zM646.5 390h4.5v4h-4.5zM655.5 418h4.5v4h-4.5zM660 430h4.5v4h-4.5zM673.5 462h4.5v4h-4.5zM705 534h4.5v4h-4.5zM718.5 558h4.5v4h-4.5zM723 566h4.5v4h-4.5zM732 578h4.5v4h-4.5zM759 602h4.5v4h-4.5zM799.5 594h4.5v4h-4.5zM804 590h4.5v4h-4.5zM817.5 574h4.5v4h-4.5zM822 566h4.5v4h-4.5zM844.5 526h4.5v4h-4.5zM862.5 486h4.5v4h-4.5zM871.5 466h4.5v4h-4.5zM903 382h4.5v4h-4.5zM907.5 370h4.5v4h-4.5zM912 358h4.5v4h-4.5zM921 330h4.5v4h-4.5zM925.5 318h4.5v4h-4.5zM930 306h4.5v4h-4.5zM934.5 294h4.5v4h-4.5zM939 282h4.5v4h-4.5zM948 262h4.5v4h-4.5zM957 238h4.5v4h-4.5zM961.5 230h4.5v4h-4.5zM966 218h4.5v4h-4.5zM970.5 210h4.5v4h-4.5zM975 202h4.5v4h-4.5zM993 170h4.5v4h-4.5zM1002 158h4.5v4h-4.5zM1029 134h4.5v4h-4.5zM1056 134h4.5v4h-4.5zM1083 158h4.5v4h-4.5zM1092 170h4.5v4h-4.5zM1110 202h4.5v4h-4.5zM1119 218h4.5v4h-4.5zM1123.5 230h4.5v4h-4.5zM1128 238h4.5v4h-4.5zM1137 262h4.5v4h-4.5zM1146 282h4.5v4h-4.5zM1150.5 294h4.5v4h-4.5zM1155 306h4.5v4h-4.5zM1159.5 318h4.5v4h-4.5zM1164 330h4.5v4h-4.5zM1168.5 342h4.5v4h-4.5zM1177.5 370h4.5v4h-4.5zM1182 382h4.5v4h-4.5zM1213.5 466h4.5v4h-4.5zM1227 498h4.5v4h-4.5zM1231.5 506h4.5v4h-4.5zM1236 518h4.5v4h-4.5zM1240.5 526h4.5v4h-4.5zM1263 566h4.5v4h-4.5zM1267.5 574h4.5v4h-4.5z" fill="#ff0000" fill-opacity="0.80" shape-rendering="geometricPrecision"/>
<path d="M246 602h4.5v4h-4.5zM318 498h4.5v4h-4.5zM327 478h4.5v4h-4.5zM331.5 466h4.5v4h-4.5zM336 454h4.5v4h-4.5zM358.5 394h4.5v4h-4.5zM363 382h4.5v4h-4.5zM367.5 370h4.5v4h-4.5zM372 358h4.5v4h-4.5zM376.5 346h4.5v4h-4.5zM403.5 274h4.5v4h-4.5zM408 262h4.5v4h-4.5zM421.5 230h4.5v4h-4.5zM579 218h4.5v4h-4.5zM588 238h4.5v4h-4.5zM601.5 270h4.5v4h-4.5zM606 282h4.5v4h-4.5zM610.5 294h4.5v4h-4.5zM615 306h4.5v4h-4.5zM619.5 318h4.5v4h-4.5zM624 330h4.5v4h-4.5zM628.5 342h4.5v4h-4.5zM633 354h4.5v4h-4.5zM637.5 366h4.5v4h-4.5zM678 474h4.5v4h-4.5zM682.5 486h4.5v4h-4.5zM691.5 506h4.5v4h-4.5zM700.5 526h4.5v4h-4.5zM786 602h4.5v4h-4.5zM849 518h4.5v4h-4.5zM858 498h4.5v4h-4.5zM876 454h4.5v4h-4.5zM880.5 442h4.5v4h-4.5zM885 430h4.5v4h-4.5zM889.5 418h4.5v4h-4.5zM894 406h4.5v4h-4.5zM898.5 394h4.5v4h-4.5zM952.5 250h4.5v4h-4.5zM1114.5 210h4.5v4h-4.5zM1132.5 250h4.5v4h-4.5zM1186.5 394h4.5v4h-4.5zM1191 406h4.5v4h-4.5zM1195.5 418h4.5v4h-4.5zM1200 430h4.5v4h-4.5zM1204.5 442h4.5v4h-4.5zM1209 454h4.5v4h-4.5zM1222.5 486h4.5v4h-4.5z" fill="#ff0000" fill-opacity="0.84" shape-rendering="geometricPrecision"/>
<path d="M201 170h4.5v4h-4.5zM340.5 586h4.5v4h-4.5zM345 594h4.5v4h-4.5zM349.5 602h4.5v4h-4.5zM363 623h4.5v4h-4.5zM367.5 615h4.5v4h-4.5zM457.5 574h4.5v4h-4.5zM610.5 150h4.5v4h-4.5zM624 126h4.5v4h-4.5zM633 114h4.5v4h-4.5zM637.5 122h4.5v4h-4.5zM682.5 102h4.5v4h-4.5zM691.5 98h4.5v4h-4.5zM700.5 118h4.5v4h-4.5zM705 110h4.5v4h-4.5zM709.5 130h4.5v4h-4.5zM727.5 162h4.5v4h-4.5zM736.5 182h4.5v4h-4.5zM867 558h4.5v4h-4.5zM876 578h4.5v4h-4.5zM889.5 586h4.5v4h-4.5zM894 594h4.5v4h-4.5zM894 611h4.5v4h-4.5zM952.5 635h4.5v4h-4.5zM961.5 639h4.5v4h-4.5zM970.5 619h4.5v4h-4.5zM975 627h4.5v4h-4.5zM979.5 606h4.5v5h-4.5zM1146 158h4.5v4h-4.5zM1146 178h4.5v4h-4.5zM1159.5 150h4.5v4h-4.5zM1164 142h4.5v4h-4.5zM1236 102h4.5v4h-4.5zM1240.5 106h4.5v4h-4.5zM1254 122h4.5v4h-4.5zM1254 138h4.5v4h-4.5zM1258.5 146h4.5v4h-4.5zM1263 154h4.5v4h-4.5z" fill="#ff00ff" fill-opacity="0.04" shape-rendering="geometricPrecision"/>
<path d="M205.5 202h4.5v4h-4.5zM322.5 546h4.5v4h-4.5zM421.5 639h4.5v4h-4.5zM435 627h4.5v4h-4.5zM475.5 534h4.5v4h-4.5zM592.5 190h4.5v4h-4.5zM615 142h4.5v4h-4.5zM619.5 134h4.5v4h-4.5zM624 142h4.5v4h-4.5zM696 102h4.5v4h-4.5zM700.5 106h4.5v4h-4.5zM714 122h4.5v4h-4.5zM736.5 162h4.5v4h-4.5zM745.5 182h4.5v4h-4.5zM876 558h4.5v4h-4.5zM898.5 602h4.5v4h-4.5zM903 623h4.5v4h-4.5zM966 635h4.5v4h-4.5zM970.5 631h4.5v4h-4.5zM984 615h4.5v4h-4.5zM997.5 574h4.5v4h-4.5zM1006.5 554h4.5v4h-4.5zM1006.5 574h4.5v4h-4.5zM1015.5 554h4.5v4h-4.5zM1128 222h4.5v4h-4.5zM1132.5 210h4.5v4h-4.5zM1137 178h4.5v4h-4.5zM1155 158h4.5v4h-4.5zM1164 126h4.5v4h-4.5zM1168.5 134h4.5v4h-4.5zM1222.5 102h4.5v4h-4.5zM1240.5 118h4.5v4h-4.5zM1249.5 130h4.5v4h-4.5z" fill="#ff00ff" fill-opacity="0.08" shape-rendering="geometricPrecision"/>
<path d="M201 190h4.5v4h-4.5zM223.5 250h4.5v4h-4.5zM304.5 498h4.5v4h-4.5zM309 510h4.5v4h-4.5zM313.5 522h4.5v4h-4.5zM318 534h4.5v4h-4.5zM331.5 566h4.5v4h-4.5zM349.5 586h4.5v4h-4.5zM354 594h4.5v4h-4.5zM381 639h4.5v4h-4.5zM430.5 631h4.5v4h-4.5zM435 615h4.5v4h-4.5zM444 615h4.5v4h-4.5zM462 566h4.5v4h-4.5zM466.5 574h4.5v4h-4.5zM475.5 554h4.5v4h-4.5zM493.5 486h4.5v4h-4.5zM507 446h4.5v4h-4.5zM570 274h4.5v4h-4.5zM574.5 238h4.5v4h-4.5zM588 202h4.5v4h-4.5zM606 178h4.5v4h-4.5zM619.5 150h4.5v4h-4.5zM628.5 134h4.5v4h-4.5zM651 98h4.5v4h-4.5zM682.5 94h4.5v4h-4.5zM750 214h4.5v4h-4.5zM754.5 226h4.5v4h-4.5zM759 238h4.5v4h-4.5zM772.5 254h4.5v4h-4.5zM808.5 390h4.5v4h-4.5zM826.5 422h4.5v4h-4.5zM853.5 502h4.5v4h-4.5zM858 514h4.5v4h-4.5zM862.5 526h4.5v4h-4.5zM880.5 586h4.5v4h-4.5zM885 578h4.5v4h-4.5zM889.5 602h4.5v4h-4.5zM916.5 627h4.5v4h-4.5zM921 631h4.5v4h-4.5zM1020 542h4.5v4h-4.5zM1042.5 458h4.5v4h-4.5zM1105.5 262h4.5v4h-4.5zM1105.5 286h4.5v4h-4.5zM1119 246h4.5v4h-4.5zM1123.5 234h4.5v4h-4.5zM1137 198h4.5v4h-4.5zM1150.5 150h4.5v4h-4.5zM1173 114h4.5v4h-4.5zM1186.5 110h4.5v4h-4.5zM1222.5 94h4.5v4h-4.5zM1258.5 130h4.5v4h-4.5zM1267.5 162h4.5v4h-4.5z" fill="#ff00ff" fill-opacity="0.12" shape-rendering="geometricPrecision"/>
<path d="M196.5 162h4.5v4h-4.5zM205.5 182h4.5v4h-4.5zM228 262h4.5v4h-4.5zM237 266h4.5v4h-4.5zM264 374h4.5v4h-4.5zM273 378h4.5v4h-4.5zM291 458h4.5v4h-4.5zM300 462h4.5v4h-4.5zM336 558h4.5v4h-4.5zM358.5 602h4.5v4h-4.5zM367.5 627h4.5v4h-4.5zM426 635h4.5v4h-4.5zM471 546h4.5v4h-4.5zM516 442h4.5v4h-4.5zM525 390h4.5v4h-4.5zM534 386h4.5v4h-4.5zM579 226h4.5v4h-4.5zM583.5 214h4.5v4h-4.5zM588 222h4.5v4h-4.5zM601.5 170h4.5v4h-4.5zM615 158h4.5v4h-4.5zM637.5 110h4.5v4h-4.5zM705 122h4.5v4h-4.5zM732 154h4.5v4h-4.5zM732 170h4.5v4h-4.5zM745.5 202h4.5v4h-4.5zM750 194h4.5v4h-4.5zM817.5 394h4.5v4h-4.5zM817.5 418h4.5v4h-4.5zM826.5 446h4.5v4h-4.5zM835.5 450h4.5v4h-4.5zM840 486h4.5v4h-4.5zM849 490h4.5v4h-4.5zM862.5 546h4.5v4h-4.5zM867 538h4.5v4h-4.5zM885 594h4.5v4h-4.5zM952.5 643h4.5v4h-4.5zM988.5 606h4.5v5h-4.5zM1002 582h4.5v4h-4.5zM1020 522h4.5v4h-4.5zM1024.5 510h4.5v4h-4.5zM1038 494h4.5v4h-4.5zM1078.5 346h4.5v4h-4.5zM1078.5 370h4.5v4h-4.5zM1132.5 190h4.5v4h-4.5zM1155 142h4.5v4h-4.5zM1159.5 134h4.5v4h-4.5zM1173 126h4.5v4h-4.5zM1191 106h4.5v4h-4.5zM1263 138h4.5v4h-4.5zM1267.5 146h4.5v4h-4.5z" fill="#ff00ff" fill-opacity="0.16" shape-rendering="geometricPrecision"/>
<path d="M246 294h4.5v4h-4.5zM255 322h4.5v4h-4.5zM264 350h4.5v4h-4.5zM273 402h4.5v4h-4.5zM282 430h4.5v4h-4.5zM318 514h4.5v4h-4.5zM345 578h4.5v4h-4.5zM376.5 627h4.5v4h-4.5zM381 631h4.5v4h-4.5zM399 639h4.5v4h-4.5zM412.5 643h4.5v4h-4.5zM498 474h4.5v4h-4.5zM502.5 482h4.5v4h-4.5zM525 414h4.5v4h-4.5zM534 362h4.5v4h-4.5zM543 334h4.5v4h-4.5zM556.5 314h4.5v4h-4.5zM561 278h4.5v4h-4.5zM583.5 234h4.5v4h-4.5zM592.5 210h4.5v4h-4.5zM646.5 110h4.5v4h-4.5zM651 106h4.5v4h-4.5zM660 94h4.5v4h-4.5zM718.5 130h4.5v4h-4.5zM763.5 250h4.5v4h-4.5zM768 242h4.5v4h-4.5zM777 290h4.5v4h-4.5zM786 318h4.5v4h-4.5zM795 346h4.5v4h-4.5zM808.5 366h4.5v4h-4.5zM844.5 498h4.5v4h-4.5zM903 611h4.5v4h-4.5zM921 639h4.5v4h-4.5zM939 639h4.5v4h-4.5zM975 615h4.5v4h-4.5zM1002 566h4.5v4h-4.5zM1015.5 534h4.5v4h-4.5zM1024.5 530h4.5v4h-4.5zM1029 498h4.5v4h-4.5zM1029 518h4.5v4h-4.5zM1033.5 506h4.5v4h-4.5zM1051.5 454h4.5v4h-4.5zM1060.5 426h4.5v4h-4.5zM1069.5 398h4.5v4h-4.5zM1087.5 318h4.5v4h-4.5zM1096.5 290h4.5v4h-4.5zM1110 250h4.5v4h-4.5zM1114.5 258h4.5v4h-4.5zM1150.5 166h4.5v4h-4.5zM1191 98h4.5v4h-4.5z" fill="#ff00ff" fill-opacity="0.20" shape-rendering="geometricPrecision"/>
<path d="M232.5 254h4.5v4h-4.5zM241.5 302h4.5v4h-4.5zM250.5 330h4.5v4h-4.5zM286.5 422h4.5v4h-4.5zM313.5 502h4.5v4h-4.5zM322.5 526h4.5v4h-4.5zM358.5 615h4.5v4h-4.5zM403.5 639h4.5v4h-4.5zM448.5 594h4.5v4h-4.5zM480 542h4.5v4h-4.5zM511.5 434h4.5v4h-4.5zM547.5 342h4.5v4h-4.5zM552 306h4.5v4h-4.5zM565.5 286h4.5v4h-4.5zM579 246h4.5v4h-4.5zM597 198h4.5v4h-4.5zM646.5 102h4.5v4h-4.5zM727.5 146h4.5v4h-4.5zM741 190h4.5v4h-4.5zM754.5 206h4.5v4h-4.5zM759 218h4.5v4h-4.5zM763.5 230h4.5v4h-4.5zM781.5 282h4.5v4h-4.5zM790.5 310h4.5v4h-4.5zM799.5 338h4.5v4h-4.5zM804 374h4.5v4h-4.5zM844.5 478h4.5v4h-4.5zM849 510h4.5v4h-4.5zM853.5 522h4.5v4h-4.5zM858 534h4.5v4h-4.5zM871.5 550h4.5v4h-4.5zM871.5 566h4.5v4h-4.5zM880.5 570h4.5v4h-4.5zM907.5 627h4.5v4h-4.5zM912 623h4.5v4h-4.5zM943.5 639h4.5v4h-4.5zM993 598h4.5v4h-4.5zM997.5 590h4.5v4h-4.5zM1011 562h4.5v4h-4.5zM1033.5 486h4.5v4h-4.5zM1047 446h4.5v4h-4.5zM1056 418h4.5v4h-4.5zM1065 390h4.5v4h-4.5zM1092 326h4.5v4h-4.5zM1101 298h4.5v4h-4.5zM1114.5 238h4.5v4h-4.5zM1128 202h4.5v4h-4.5zM1141.5 170h4.5v4h-4.5zM1141.5 186h4.5v4h-4.5zM1177.5 110h4.5v4h-4.5zM1182 114h4.5v4h-4.5zM1200 94h4.5v4h-4.5zM1249.5 118h4.5v4h-4.5z" fill="#ff00ff" fill-opacity="0.24" shape-rendering="geometricPrecision"/>
<path d="M196.5 178h4.5v4h-4.5zM210 194h4.5v4h-4.5zM228 242h4.5v4h-4.5zM232.5 274h4.5v4h-4.5zM259.5 358h4.5v4h-4.5zM268.5 366h4.5v4h-4.5zM268.5 386h4.5v4h-4.5zM277.5 394h4.5v4h-4.5zM295.5 450h4.5v4h-4.5zM295.5 470h4.5v4h-4.5zM309 490h4.5v4h-4.5zM327 538h4.5v4h-4.5zM327 554h4.5v4h-4.5zM336 574h4.5v4h-4.5zM363 611h4.5v4h-4.5zM372 631h4.5v4h-4.5zM376.5 635h4.5v4h-4.5zM390 643h4.5v4h-4.5zM444 602h4.5v4h-4.5zM448.5 606h4.5v5h-4.5zM453 586h4.5v4h-4.5zM462 582h4.5v4h-4.5zM466.5 558h4.5v4h-4.5zM484.5 530h4.5v4h-4.5zM493.5 506h4.5v4h-4.5zM498 494h4.5v4h-4.5zM502.5 462h4.5v4h-4.5zM511.5 454h4.5v4h-4.5zM520.5 406h4.5v4h-4.5zM529.5 378h4.5v4h-4.5zM529.5 398h4.5v4h-4.5zM538.5 370h4.5v4h-4.5zM565.5 266h4.5v4h-4.5zM628.5 122h4.5v4h-4.5zM633 126h4.5v4h-4.5zM642 106h4.5v4h-4.5zM669 98h4.5v4h-4.5zM723 138h4.5v4h-4.5zM741 174h4.5v4h-4.5zM768 262h4.5v4h-4.5zM813 402h4.5v4h-4.5zM822 410h4.5v4h-4.5zM822 430h4.5v4h-4.5zM831 438h4.5v4h-4.5zM831 458h4.5v4h-4.5zM930 643h4.5v4h-4.5zM1011 546h4.5v4h-4.5zM1047 466h4.5v4h-4.5zM1074 362h4.5v4h-4.5zM1083 354h4.5v4h-4.5zM1101 278h4.5v4h-4.5zM1110 270h4.5v4h-4.5zM1119 226h4.5v4h-4.5zM1123.5 214h4.5v4h-4.5zM1209 98h4.5v4h-4.5zM1245 122h4.5v4h-4.5z" fill="#ff00ff" fill-opacity="0.28" shape-rendering="geometricPrecision"/>
<path d="M210 210h4.5v4h-4.5zM214.5 206h4.5v4h-4.5zM214.5 222h4.5v4h-4.5zM223.5 230h4.5v4h-4.5zM241.5 282h4.5v4h-4.5zM259.5 338h4.5v4h-4.5zM277.5 414h4.5v4h-4.5zM286.5 442h4.5v4h-4.5zM372 623h4.5v4h-4.5zM421.5 631h4.5v4h-4.5zM426 627h4.5v4h-4.5zM453 598h4.5v4h-4.5zM457.5 590h4.5v4h-4.5zM489 518h4.5v4h-4.5zM520.5 426h4.5v4h-4.5zM538.5 350h4.5v4h-4.5zM574.5 258h4.5v4h-4.5zM597 182h4.5v4h-4.5zM601.5 186h4.5v4h-4.5zM606 162h4.5v4h-4.5zM610.5 166h4.5v4h-4.5zM642 114h4.5v4h-4.5zM673.5 98h4.5v4h-4.5zM709.5 118h4.5v4h-4.5zM718.5 142h4.5v4h-4.5zM723 150h4.5v4h-4.5zM777 270h4.5v4h-4.5zM781.5 302h4.5v4h-4.5zM790.5 330h4.5v4h-4.5zM813 382h4.5v4h-4.5zM840 466h4.5v4h-4.5zM912 631h4.5v4h-4.5zM916.5 635h4.5v4h-4.5zM925.5 635h4.5v4h-4.5zM979.5 619h4.5v4h-4.5zM988.5 594h4.5v4h-4.5zM1038 474h4.5v4h-4.5zM1074 382h4.5v4h-4.5zM1083 334h4.5v4h-4.5zM1092 306h4.5v4h-4.5zM1182 106h4.5v4h-4.5zM1186.5 102h4.5v4h-4.5zM1213.5 98h4.5v4h-4.5z" fill="#ff00ff" fill-opacity="0.32" shape-rendering="geometricPrecision"/>
<path d="M201 174h4.5v4h-4.5zM219 218h4.5v4h-4.5zM219 234h4.5v4h-4.5zM237 286h4.5v4h-4.5zM246 314h4.5v4h-4.5zM250.5 310h4.5v4h-4.5zM255 342h4.5v4h-4.5zM282 410h4.5v4h-4.5zM300 482h4.5v4h-4.5zM304.5 478h4.5v4h-4.5zM331.5 550h4.5v4h-4.5zM340.5 570h4.5v4h-4.5zM457.5 578h4.5v4h-4.5zM471 562h4.5v4h-4.5zM480 526h4.5v4h-4.5zM484.5 514h4.5v4h-4.5zM543 354h4.5v4h-4.5zM547.5 322h4.5v4h-4.5zM552 326h4.5v4h-4.5zM556.5 294h4.5v4h-4.5zM561 298h4.5v4h-4.5zM570 254h4.5v4h-4.5zM714 134h4.5v4h-4.5zM736.5 178h4.5v4h-4.5zM772.5 274h4.5v4h-4.5zM786 298h4.5v4h-4.5zM795 326h4.5v4h-4.5zM799.5 358h4.5v4h-4.5zM804 354h4.5v4h-4.5zM835.5 470h4.5v4h-4.5zM898.5 615h4.5v4h-4.5zM934.5 639h4.5v4h-4.5zM993 586h4.5v4h-4.5zM1051.5 434h4.5v4h-4.5zM1056 438h4.5v4h-4.5zM1060.5 406h4.5v4h-4.5zM1065 410h4.5v4h-4.5zM1096.5 310h4.5v4h-4.5zM1146 174h4.5v4h-4.5zM1168.5 122h4.5v4h-4.5zM1195.5 102h4.5v4h-4.5z" fill="#ff00ff" fill-opacity="0.36" shape-rendering="geometricPrecision"/>
<path d="M205.5 198h4.5v4h-4.5zM223.5 246h4.5v4h-4.5zM264 370h4.5v4h-4.5zM273 382h4.5v4h-4.5zM291 438h4.5v4h-4.5zM304.5 494h4.5v4h-4.5zM322.5 542h4.5v4h-4.5zM340.5 582h4.5v4h-4.5zM354 606h4.5v5h-4.5zM385.5 635h4.5v4h-4.5zM394.5 639h4.5v4h-4.5zM439.5 611h4.5v4h-4.5zM439.5 619h4.5v4h-4.5zM475.5 538h4.5v4h-4.5zM489 502h4.5v4h-4.5zM493.5 490h4.5v4h-4.5zM507 450h4.5v4h-4.5zM507 466h4.5v4h-4.5zM516 422h4.5v4h-4.5zM525 394h4.5v4h-4.5zM534 382h4.5v4h-4.5zM570 270h4.5v4h-4.5zM592.5 194h4.5v4h-4.5zM655.5 102h4.5v4h-4.5zM691.5 106h4.5v4h-4.5zM745.5 186h4.5v4h-4.5zM754.5 222h4.5v4h-4.5zM772.5 258h4.5v4h-4.5zM808.5 386h4.5v4h-4.5zM817.5 398h4.5v4h-4.5zM826.5 426h4.5v4h-4.5zM853.5 506h4.5v4h-4.5zM858 518h4.5v4h-4.5zM867 554h4.5v4h-4.5zM876 562h4.5v4h-4.5zM876 574h4.5v4h-4.5zM961.5 631h4.5v4h-4.5zM984 602h4.5v4h-4.5zM1006.5 558h4.5v4h-4.5zM1006.5 570h4.5v4h-4.5zM1015.5 550h4.5v4h-4.5zM1042.5 462h4.5v4h-4.5zM1042.5 478h4.5v4h-4.5zM1069.5 378h4.5v4h-4.5zM1078.5 366h4.5v4h-4.5zM1087.5 338h4.5v4h-4.5zM1105.5 266h4.5v4h-4.5zM1105.5 282h4.5v4h-4.5zM1123.5 230h4.5v4h-4.5zM1128 218h4.5v4h-4.5zM1132.5 206h4.5v4h-4.5zM1137 182h4.5v4h-4.5zM1146 162h4.5v4h-4.5zM1159.5 146h4.5v4h-4.5zM1204.5 98h4.5v4h-4.5zM1258.5 142h4.5v4h-4.5z" fill="#ff00ff" fill-opacity="0.40" shape-rendering="geometricPrecision"/>
<path d="M228 258h4.5v4h-4.5zM237 270h4.5v4h-4.5zM264 354h4.5v4h-4.5zM273 398h4.5v4h-4.5zM291 454h4.5v4h-4.5zM300 466h4.5v4h-4.5zM309 506h4.5v4h-4.5zM313.5 518h4.5v4h-4.5zM318 530h4.5v4h-4.5zM408 639h4.5v4h-4.5zM516 438h4.5v4h-4.5zM525 410h4.5v4h-4.5zM534 366h4.5v4h-4.5zM574.5 242h4.5v4h-4.5zM610.5 154h4.5v4h-4.5zM624 130h4.5v4h-4.5zM664.5 98h4.5v4h-4.5zM696 110h4.5v4h-4.5zM727.5 158h4.5v4h-4.5zM736.5 166h4.5v4h-4.5zM750 210h4.5v4h-4.5zM759 234h4.5v4h-4.5zM786 314h4.5v4h-4.5zM808.5 370h4.5v4h-4.5zM817.5 414h4.5v4h-4.5zM826.5 442h4.5v4h-4.5zM835.5 454h4.5v4h-4.5zM840 482h4.5v4h-4.5zM862.5 530h4.5v4h-4.5zM966 627h4.5v4h-4.5zM997.5 578h4.5v4h-4.5zM1024.5 514h4.5v4h-4.5zM1038 490h4.5v4h-4.5zM1069.5 394h4.5v4h-4.5zM1078.5 350h4.5v4h-4.5zM1096.5 294h4.5v4h-4.5zM1119 242h4.5v4h-4.5zM1164 138h4.5v4h-4.5zM1177.5 118h4.5v4h-4.5zM1218 94h4.5v4h-4.5zM1254 134h4.5v4h-4.5zM1263 150h4.5v4h-4.5z" fill="#ff00ff" fill-opacity="0.44" shape-rendering="geometricPrecision"/>
<path d="M201 186h4.5v4h-4.5zM241.5 298h4.5v4h-4.5zM246 298h4.5v4h-4.5zM250.5 326h4.5v4h-4.5zM255 326h4.5v4h-4.5zM282 426h4.5v4h-4.5zM331.5 562h4.5v4h-4.5zM345 590h4.5v4h-4.5zM349.5 598h4.5v4h-4.5zM417 635h4.5v4h-4.5zM430.5 623h4.5v4h-4.5zM462 570h4.5v4h-4.5zM475.5 550h4.5v4h-4.5zM498 478h4.5v4h-4.5zM502.5 478h4.5v4h-4.5zM543 338h4.5v4h-4.5zM547.5 338h4.5v4h-4.5zM552 310h4.5v4h-4.5zM556.5 310h4.5v4h-4.5zM561 282h4.5v4h-4.5zM579 230h4.5v4h-4.5zM583.5 218h4.5v4h-4.5zM588 206h4.5v4h-4.5zM588 218h4.5v4h-4.5zM606 174h4.5v4h-4.5zM678 94h4.5v4h-4.5zM745.5 198h4.5v4h-4.5zM763.5 246h4.5v4h-4.5zM768 246h4.5v4h-4.5zM777 286h4.5v4h-4.5zM781.5 286h4.5v4h-4.5zM795 342h4.5v4h-4.5zM799.5 342h4.5v4h-4.5zM849 494h4.5v4h-4.5zM862.5 542h4.5v4h-4.5zM889.5 590h4.5v4h-4.5zM894 598h4.5v4h-4.5zM907.5 619h4.5v4h-4.5zM948 639h4.5v4h-4.5zM1020 526h4.5v4h-4.5zM1020 538h4.5v4h-4.5zM1029 502h4.5v4h-4.5zM1033.5 502h4.5v4h-4.5zM1051.5 450h4.5v4h-4.5zM1056 422h4.5v4h-4.5zM1060.5 422h4.5v4h-4.5zM1087.5 322h4.5v4h-4.5zM1110 254h4.5v4h-4.5zM1114.5 254h4.5v4h-4.5zM1137 194h4.5v4h-4.5zM1155 154h4.5v4h-4.5zM1227 98h4.5v4h-4.5zM1245 114h4.5v4h-4.5zM1254 126h4.5v4h-4.5z" fill="#ff00ff" fill-opacity="0.48" shape-rendering="geometricPrecision"/>
<path d="M205.5 186h4.5v4h-4.5zM232.5 258h4.5v4h-4.5zM232.5 270h4.5v4h-4.5zM259.5 354h4.5v4h-4.5zM277.5 398h4.5v4h-4.5zM286.5 426h4.5v4h-4.5zM295.5 454h4.5v4h-4.5zM295.5 466h4.5v4h-4.5zM313.5 506h4.5v4h-4.5zM318 518h4.5v4h-4.5zM322.5 530h4.5v4h-4.5zM336 562h4.5v4h-4.5zM408 643h4.5v4h-4.5zM466.5 570h4.5v4h-4.5zM471 550h4.5v4h-4.5zM511.5 438h4.5v4h-4.5zM520.5 410h4.5v4h-4.5zM538.5 366h4.5v4h-4.5zM565.5 282h4.5v4h-4.5zM579 242h4.5v4h-4.5zM583.5 230h4.5v4h-4.5zM592.5 206h4.5v4h-4.5zM601.5 174h4.5v4h-4.5zM615 146h4.5v4h-4.5zM619.5 138h4.5v4h-4.5zM619.5 146h4.5v4h-4.5zM624 138h4.5v4h-4.5zM664.5 94h4.5v4h-4.5zM678 98h4.5v4h-4.5zM709.5 126h4.5v4h-4.5zM750 198h4.5v4h-4.5zM754.5 210h4.5v4h-4.5zM759 222h4.5v4h-4.5zM763.5 234h4.5v4h-4.5zM790.5 314h4.5v4h-4.5zM804 370h4.5v4h-4.5zM831 454h4.5v4h-4.5zM844.5 482h4.5v4h-4.5zM844.5 494h4.5v4h-4.5zM849 506h4.5v4h-4.5zM858 530h4.5v4h-4.5zM867 542h4.5v4h-4.5zM880.5 582h4.5v4h-4.5zM885 582h4.5v4h-4.5zM894 606h4.5v5h-4.5zM948 643h4.5v4h-4.5zM979.5 611h4.5v4h-4.5zM1015.5 538h4.5v4h-4.5zM1024.5 526h4.5v4h-4.5zM1029 514h4.5v4h-4.5zM1033.5 490h4.5v4h-4.5zM1047 450h4.5v4h-4.5zM1065 394h4.5v4h-4.5zM1083 350h4.5v4h-4.5zM1092 322h4.5v4h-4.5zM1101 294h4.5v4h-4.5zM1114.5 242h4.5v4h-4.5zM1132.5 194h4.5v4h-4.5zM1150.5 154h4.5v4h-4.5zM1164 130h4.5v4h-4.5zM1168.5 130h4.5v4h-4.5zM1231.5 106h4.5v4h-4.5zM1236 110h4.5v4h-4.5zM1267.5 158h4.5v4h-4.5z" fill="#ff00ff" fill-opacity="0.52" shape-rendering="geometricPrecision"/>
<path d="M196.5 166h4.5v4h-4.5zM268.5 370h4.5v4h-4.5zM268.5 382h4.5v4h-4.5zM309 494h4.5v4h-4.5zM349.5 590h4.5v4h-4.5zM354 598h4.5v4h-4.5zM363 619h4.5v4h-4.5zM367.5 619h4.5v4h-4.5zM394.5 643h4.5v4h-4.5zM480 538h4.5v4h-4.5zM498 490h4.5v4h-4.5zM502.5 466h4.5v4h-4.5zM511.5 450h4.5v4h-4.5zM529.5 382h4.5v4h-4.5zM529.5 394h4.5v4h-4.5zM565.5 270h4.5v4h-4.5zM597 194h4.5v4h-4.5zM637.5 118h4.5v4h-4.5zM687 98h4.5v4h-4.5zM687 102h4.5v4h-4.5zM700.5 114h4.5v4h-4.5zM732 166h4.5v4h-4.5zM768 258h4.5v4h-4.5zM813 386h4.5v4h-4.5zM813 398h4.5v4h-4.5zM822 414h4.5v4h-4.5zM822 426h4.5v4h-4.5zM831 442h4.5v4h-4.5zM853.5 518h4.5v4h-4.5zM885 590h4.5v4h-4.5zM898.5 606h4.5v5h-4.5zM934.5 643h4.5v4h-4.5zM957 635h4.5v4h-4.5zM957 639h4.5v4h-4.5zM984 611h4.5v4h-4.5zM1002 578h4.5v4h-4.5zM1047 462h4.5v4h-4.5zM1074 366h4.5v4h-4.5zM1074 378h4.5v4h-4.5zM1101 282h4.5v4h-4.5zM1110 266h4.5v4h-4.5zM1119 230h4.5v4h-4.5zM1128 206h4.5v4h-4.5zM1204.5 94h4.5v4h-4.5zM1218 98h4.5v4h-4.5z" fill="#ff00ff" fill-opacity="0.56" shape-rendering="geometricPrecision"/>
<path d="M210 198h4.5v4h-4.5zM228 246h4.5v4h-4.5zM241.5 286h4.5v4h-4.5zM246 310h4.5v4h-4.5zM250.5 314h4.5v4h-4.5zM259.5 342h4.5v4h-4.5zM277.5 410h4.5v4h-4.5zM286.5 438h4.5v4h-4.5zM327 542h4.5v4h-4.5zM484.5 526h4.5v4h-4.5zM493.5 502h4.5v4h-4.5zM520.5 422h4.5v4h-4.5zM538.5 354h4.5v4h-4.5zM552 322h4.5v4h-4.5zM561 294h4.5v4h-4.5zM574.5 254h4.5v4h-4.5zM615 154h4.5v4h-4.5zM633 118h4.5v4h-4.5zM705 114h4.5v4h-4.5zM714 126h4.5v4h-4.5zM732 158h4.5v4h-4.5zM741 186h4.5v4h-4.5zM777 274h4.5v4h-4.5zM781.5 298h4.5v4h-4.5zM790.5 326h4.5v4h-4.5zM804 358h4.5v4h-4.5zM840 470h4.5v4h-4.5zM871.5 554h4.5v4h-4.5zM871.5 562h4.5v4h-4.5zM889.5 598h4.5v4h-4.5zM970.5 623h4.5v4h-4.5zM975 623h4.5v4h-4.5zM1002 570h4.5v4h-4.5zM1011 550h4.5v4h-4.5zM1011 558h4.5v4h-4.5zM1038 478h4.5v4h-4.5zM1056 434h4.5v4h-4.5zM1065 406h4.5v4h-4.5zM1083 338h4.5v4h-4.5zM1092 310h4.5v4h-4.5zM1123.5 218h4.5v4h-4.5zM1141.5 174h4.5v4h-4.5zM1141.5 182h4.5v4h-4.5zM1150.5 162h4.5v4h-4.5zM1155 146h4.5v4h-4.5zM1159.5 138h4.5v4h-4.5zM1249.5 126h4.5v4h-4.5zM1258.5 134h4.5v4h-4.5zM1263 142h4.5v4h-4.5zM1267.5 150h4.5v4h-4.5z" fill="#ff00ff" fill-opacity="0.60" shape-rendering="geometricPrecision"/>
<path d="M196.5 174h4.5v4h-4.5zM214.5 210h4.5v4h-4.5zM214.5 218h4.5v4h-4.5zM219 230h4.5v4h-4.5zM223.5 234h4.5v4h-4.5zM237 282h4.5v4h-4.5zM255 338h4.5v4h-4.5zM282 414h4.5v4h-4.5zM291 442h4.5v4h-4.5zM300 478h4.5v4h-4.5zM304.5 482h4.5v4h-4.5zM327 550h4.5v4h-4.5zM345 582h4.5v4h-4.5zM358.5 606h4.5v5h-4.5zM417 639h4.5v4h-4.5zM466.5 562h4.5v4h-4.5zM489 514h4.5v4h-4.5zM516 426h4.5v4h-4.5zM543 350h4.5v4h-4.5zM547.5 326h4.5v4h-4.5zM556.5 298h4.5v4h-4.5zM628.5 130h4.5v4h-4.5zM669 94h4.5v4h-4.5zM673.5 94h4.5v4h-4.5zM741 178h4.5v4h-4.5zM772.5 270h4.5v4h-4.5zM786 302h4.5v4h-4.5zM795 330h4.5v4h-4.5zM799.5 354h4.5v4h-4.5zM835.5 466h4.5v4h-4.5zM880.5 574h4.5v4h-4.5zM997.5 586h4.5v4h-4.5zM1051.5 438h4.5v4h-4.5zM1060.5 410h4.5v4h-4.5zM1069.5 382h4.5v4h-4.5zM1087.5 334h4.5v4h-4.5zM1096.5 306h4.5v4h-4.5zM1209 94h4.5v4h-4.5zM1213.5 94h4.5v4h-4.5zM1227 102h4.5v4h-4.5z" fill="#ff00ff" fill-opacity="0.64" shape-rendering="geometricPrecision"/>
<path d="M210 206h4.5v4h-4.5zM219 222h4.5v4h-4.5zM223.5 242h4.5v4h-4.5zM264 366h4.5v4h-4.5zM273 386h4.5v4h-4.5zM304.5 490h4.5v4h-4.5zM336 570h4.5v4h-4.5zM435 623h4.5v4h-4.5zM444 611h4.5v4h-4.5zM448.5 598h4.5v4h-4.5zM453 590h4.5v4h-4.5zM462 578h4.5v4h-4.5zM480 530h4.5v4h-4.5zM484.5 518h4.5v4h-4.5zM489 506h4.5v4h-4.5zM507 454h4.5v4h-4.5zM507 462h4.5v4h-4.5zM525 398h4.5v4h-4.5zM534 378h4.5v4h-4.5zM570 258h4.5v4h-4.5zM570 266h4.5v4h-4.5zM597 186h4.5v4h-4.5zM601.5 182h4.5v4h-4.5zM606 166h4.5v4h-4.5zM655.5 98h4.5v4h-4.5zM718.5 134h4.5v4h-4.5zM727.5 150h4.5v4h-4.5zM772.5 262h4.5v4h-4.5zM808.5 382h4.5v4h-4.5zM817.5 402h4.5v4h-4.5zM817.5 410h4.5v4h-4.5zM826.5 430h4.5v4h-4.5zM826.5 438h4.5v4h-4.5zM903 619h4.5v4h-4.5zM943.5 643h4.5v4h-4.5zM988.5 602h4.5v4h-4.5zM993 594h4.5v4h-4.5zM1042.5 466h4.5v4h-4.5zM1042.5 474h4.5v4h-4.5zM1078.5 354h4.5v4h-4.5zM1078.5 362h4.5v4h-4.5zM1105.5 270h4.5v4h-4.5zM1105.5 278h4.5v4h-4.5zM1123.5 226h4.5v4h-4.5zM1128 214h4.5v4h-4.5zM1173 118h4.5v4h-4.5zM1240.5 110h4.5v4h-4.5zM1240.5 114h4.5v4h-4.5z" fill="#ff00ff" fill-opacity="0.68" shape-rendering="geometricPrecision"/>
<path d="M205.5 194h4.5v4h-4.5zM237 274h4.5v4h-4.5zM264 358h4.5v4h-4.5zM273 394h4.5v4h-4.5zM282 422h4.5v4h-4.5zM291 450h4.5v4h-4.5zM300 470h4.5v4h-4.5zM322.5 538h4.5v4h-4.5zM331.5 554h4.5v4h-4.5zM340.5 574h4.5v4h-4.5zM385.5 639h4.5v4h-4.5zM399 643h4.5v4h-4.5zM403.5 643h4.5v4h-4.5zM435 619h4.5v4h-4.5zM471 558h4.5v4h-4.5zM493.5 494h4.5v4h-4.5zM516 434h4.5v4h-4.5zM525 406h4.5v4h-4.5zM534 370h4.5v4h-4.5zM556.5 306h4.5v4h-4.5zM574.5 246h4.5v4h-4.5zM610.5 162h4.5v4h-4.5zM736.5 174h4.5v4h-4.5zM754.5 218h4.5v4h-4.5zM786 310h4.5v4h-4.5zM795 338h4.5v4h-4.5zM808.5 374h4.5v4h-4.5zM835.5 458h4.5v4h-4.5zM840 478h4.5v4h-4.5zM853.5 510h4.5v4h-4.5zM858 522h4.5v4h-4.5zM867 550h4.5v4h-4.5zM930 639h4.5v4h-4.5zM939 643h4.5v4h-4.5zM1015.5 546h4.5v4h-4.5zM1038 486h4.5v4h-4.5zM1051.5 446h4.5v4h-4.5zM1069.5 390h4.5v4h-4.5zM1087.5 326h4.5v4h-4.5zM1096.5 298h4.5v4h-4.5zM1119 238h4.5v4h-4.5zM1132.5 202h4.5v4h-4.5zM1173 122h4.5v4h-4.5zM1231.5 102h4.5v4h-4.5zM1236 106h4.5v4h-4.5z" fill="#ff00ff" fill-opacity="0.72" shape-rendering="geometricPrecision"/>
<path d="M201 178h4.5v4h-4.5zM228 254h4.5v4h-4.5zM241.5 294h4.5v4h-4.5zM246 302h4.5v4h-4.5zM250.5 322h4.5v4h-4.5zM255 330h4.5v4h-4.5zM259.5 350h4.5v4h-4.5zM286.5 430h4.5v4h-4.5zM309 502h4.5v4h-4.5zM313.5 514h4.5v4h-4.5zM318 526h4.5v4h-4.5zM390 639h4.5v4h-4.5zM457.5 582h4.5v4h-4.5zM457.5 586h4.5v4h-4.5zM475.5 542h4.5v4h-4.5zM502.5 474h4.5v4h-4.5zM543 342h4.5v4h-4.5zM547.5 334h4.5v4h-4.5zM552 314h4.5v4h-4.5zM561 286h4.5v4h-4.5zM565.5 278h4.5v4h-4.5zM592.5 198h4.5v4h-4.5zM691.5 102h4.5v4h-4.5zM700.5 110h4.5v4h-4.5zM705 118h4.5v4h-4.5zM723 142h4.5v4h-4.5zM745.5 190h4.5v4h-4.5zM750 206h4.5v4h-4.5zM759 230h4.5v4h-4.5zM768 250h4.5v4h-4.5zM777 282h4.5v4h-4.5zM781.5 290h4.5v4h-4.5zM799.5 346h4.5v4h-4.5zM804 366h4.5v4h-4.5zM849 498h4.5v4h-4.5zM862.5 534h4.5v4h-4.5zM876 570h4.5v4h-4.5zM903 615h4.5v4h-4.5zM925.5 639h4.5v4h-4.5zM970.5 627h4.5v4h-4.5zM1006.5 562h4.5v4h-4.5zM1024.5 518h4.5v4h-4.5zM1056 426h4.5v4h-4.5zM1060.5 418h4.5v4h-4.5zM1065 398h4.5v4h-4.5zM1092 318h4.5v4h-4.5zM1110 258h4.5v4h-4.5zM1137 186h4.5v4h-4.5zM1146 170h4.5v4h-4.5zM1195.5 98h4.5v4h-4.5zM1200 98h4.5v4h-4.5z" fill="#ff00ff" fill-opacity="0.76" shape-rendering="geometricPrecision"/>
<path d="M201 182h4.5v4h-4.5zM232.5 262h4.5v4h-4.5zM232.5 266h4.5v4h-4.5zM268.5 378h4.5v4h-4.5zM277.5 402h4.5v4h-4.5zM295.5 458h4.5v4h-4.5zM295.5 462h4.5v4h-4.5zM318 522h4.5v4h-4.5zM340.5 578h4.5v4h-4.5zM358.5 611h4.5v4h-4.5zM363 615h4.5v4h-4.5zM367.5 623h4.5v4h-4.5zM412.5 639h4.5v4h-4.5zM421.5 635h4.5v4h-4.5zM430.5 627h4.5v4h-4.5zM444 606h4.5v5h-4.5zM448.5 602h4.5v4h-4.5zM453 594h4.5v4h-4.5zM475.5 546h4.5v4h-4.5zM498 482h4.5v4h-4.5zM511.5 442h4.5v4h-4.5zM520.5 414h4.5v4h-4.5zM529.5 386h4.5v4h-4.5zM538.5 362h4.5v4h-4.5zM579 234h4.5v4h-4.5zM583.5 222h4.5v4h-4.5zM583.5 226h4.5v4h-4.5zM588 210h4.5v4h-4.5zM588 214h4.5v4h-4.5zM610.5 158h4.5v4h-4.5zM628.5 126h4.5v4h-4.5zM633 122h4.5v4h-4.5zM637.5 114h4.5v4h-4.5zM660 98h4.5v4h-4.5zM696 106h4.5v4h-4.5zM718.5 138h4.5v4h-4.5zM723 146h4.5v4h-4.5zM727.5 154h4.5v4h-4.5zM736.5 170h4.5v4h-4.5zM745.5 194h4.5v4h-4.5zM750 202h4.5v4h-4.5zM763.5 238h4.5v4h-4.5zM763.5 242h4.5v4h-4.5zM790.5 318h4.5v4h-4.5zM813 394h4.5v4h-4.5zM822 418h4.5v4h-4.5zM831 446h4.5v4h-4.5zM831 450h4.5v4h-4.5zM844.5 486h4.5v4h-4.5zM844.5 490h4.5v4h-4.5zM862.5 538h4.5v4h-4.5zM876 566h4.5v4h-4.5zM961.5 635h4.5v4h-4.5zM966 631h4.5v4h-4.5zM975 619h4.5v4h-4.5zM988.5 598h4.5v4h-4.5zM993 590h4.5v4h-4.5zM1006.5 566h4.5v4h-4.5zM1020 530h4.5v4h-4.5zM1020 534h4.5v4h-4.5zM1024.5 522h4.5v4h-4.5zM1029 506h4.5v4h-4.5zM1029 510h4.5v4h-4.5zM1033.5 494h4.5v4h-4.5zM1033.5 498h4.5v4h-4.5zM1047 454h4.5v4h-4.5zM1074 370h4.5v4h-4.5zM1083 346h4.5v4h-4.5zM1101 290h4.5v4h-4.5zM1114.5 250h4.5v4h-4.5zM1137 190h4.5v4h-4.5zM1146 166h4.5v4h-4.5zM1249.5 122h4.5v4h-4.5z" fill="#ff00ff" fill-opacity="0.80" shape-rendering="geometricPrecision"/>
<path d="M205.5 190h4.5v4h-4.5zM259.5 346h4.5v4h-4.5zM268.5 374h4.5v4h-4.5zM277.5 406h4.5v4h-4.5zM286.5 434h4.5v4h-4.5zM309 498h4.5v4h-4.5zM313.5 510h4.5v4h-4.5zM322.5 534h4.5v4h-4.5zM331.5 558h4.5v4h-4.5zM336 566h4.5v4h-4.5zM354 602h4.5v4h-4.5zM372 627h4.5v4h-4.5zM376.5 631h4.5v4h-4.5zM381 635h4.5v4h-4.5zM439.5 615h4.5v4h-4.5zM462 574h4.5v4h-4.5zM471 554h4.5v4h-4.5zM498 486h4.5v4h-4.5zM502.5 470h4.5v4h-4.5zM511.5 446h4.5v4h-4.5zM520.5 418h4.5v4h-4.5zM529.5 390h4.5v4h-4.5zM538.5 358h4.5v4h-4.5zM552 318h4.5v4h-4.5zM565.5 274h4.5v4h-4.5zM579 238h4.5v4h-4.5zM592.5 202h4.5v4h-4.5zM601.5 178h4.5v4h-4.5zM606 170h4.5v4h-4.5zM615 150h4.5v4h-4.5zM619.5 142h4.5v4h-4.5zM624 134h4.5v4h-4.5zM642 110h4.5v4h-4.5zM646.5 106h4.5v4h-4.5zM651 102h4.5v4h-4.5zM709.5 122h4.5v4h-4.5zM714 130h4.5v4h-4.5zM754.5 214h4.5v4h-4.5zM759 226h4.5v4h-4.5zM768 254h4.5v4h-4.5zM781.5 294h4.5v4h-4.5zM790.5 322h4.5v4h-4.5zM804 362h4.5v4h-4.5zM813 390h4.5v4h-4.5zM822 422h4.5v4h-4.5zM849 502h4.5v4h-4.5zM858 526h4.5v4h-4.5zM867 546h4.5v4h-4.5zM894 602h4.5v4h-4.5zM898.5 611h4.5v4h-4.5zM907.5 623h4.5v4h-4.5zM912 627h4.5v4h-4.5zM916.5 631h4.5v4h-4.5zM921 635h4.5v4h-4.5zM952.5 639h4.5v4h-4.5zM979.5 615h4.5v4h-4.5zM984 606h4.5v5h-4.5zM997.5 582h4.5v4h-4.5zM1015.5 542h4.5v4h-4.5zM1047 458h4.5v4h-4.5zM1065 402h4.5v4h-4.5zM1074 374h4.5v4h-4.5zM1083 342h4.5v4h-4.5zM1092 314h4.5v4h-4.5zM1101 286h4.5v4h-4.5zM1110 262h4.5v4h-4.5zM1114.5 246h4.5v4h-4.5zM1128 210h4.5v4h-4.5zM1132.5 198h4.5v4h-4.5zM1159.5 142h4.5v4h-4.5zM1164 134h4.5v4h-4.5zM1168.5 126h4.5v4h-4.5zM1177.5 114h4.5v4h-4.5zM1182 110h4.5v4h-4.5zM1186.5 106h4.5v4h-4.5zM1191 102h4.5v4h-4.5zM1245 118h4.5v4h-4.5zM1258.5 138h4.5v4h-4.5zM1263 146h4.5v4h-4.5z" fill="#ff00ff" fill-opacity="0.84" shape-rendering="geometricPrecision"/>
<path d="M196.5 170h4.5v4h-4.5zM210 202h4.5v4h-4.5zM214.5 214h4.5v4h-4.5zM219 226h4.5v4h-4.5zM223.5 238h4.5v4h-4.5zM228 250h4.5v4h-4.5zM237 278h4.5v4h-4.5zM241.5 290h4.5v4h-4.5zM246 306h4.5v4h-4.5zM250.5 318h4.5v4h-4.5zM255 334h4.5v4h-4.5zM264 362h4.5v4h-4.5zM273 390h4.5v4h-4.5zM282 418h4.5v4h-4.5zM291 446h4.5v4h-4.5zM300 474h4.5v4h-4.5zM304.5 486h4.5v4h-4.5zM327 546h4.5v4h-4.5zM345 586h4.5v4h-4.5zM349.5 594h4.5v4h-4.5zM426 631h4.5v4h-4.5zM466.5 566h4.5v4h-4.5zM480 534h4.5v4h-4.5zM484.5 522h4.5v4h-4.5zM489 510h4.5v4h-4.5zM493.5 498h4.5v4h-4.5zM507 458h4.5v4h-4.5zM516 430h4.5v4h-4.5zM525 402h4.5v4h-4.5zM534 374h4.5v4h-4.5zM543 346h4.5v4h-4.5zM547.5 330h4.5v4h-4.5zM556.5 302h4.5v4h-4.5zM561 290h4.5v4h-4.5zM570 262h4.5v4h-4.5zM574.5 250h4.5v4h-4.5zM597 190h4.5v4h-4.5zM682.5 98h4.5v4h-4.5zM732 162h4.5v4h-4.5zM741 182h4.5v4h-4.5zM772.5 266h4.5v4h-4.5zM777 278h4.5v4h-4.5zM786 306h4.5v4h-4.5zM795 334h4.5v4h-4.5zM799.5 350h4.5v4h-4.5zM808.5 378h4.5v4h-4.5zM817.5 406h4.5v4h-4.5zM826.5 434h4.5v4h-4.5zM835.5 462h4.5v4h-4.5zM840 474h4.5v4h-4.5zM853.5 514h4.5v4h-4.5zM871.5 558h4.5v4h-4.5zM880.5 578h4.5v4h-4.5zM885 586h4.5v4h-4.5zM889.5 594h4.5v4h-4.5zM1002 574h4.5v4h-4.5zM1011 554h4.5v4h-4.5zM1038 482h4.5v4h-4.5zM1042.5 470h4.5v4h-4.5zM1051.5 442h4.5v4h-4.5zM1056 430h4.5v4h-4.5zM1060.5 414h4.5v4h-4.5zM1069.5 386h4.5v4h-4.5zM1078.5 358h4.5v4h-4.5zM1087.5 330h4.5v4h-4.5zM1096.5 302h4.5v4h-4.5zM1105.5 274h4.5v4h-4.5zM1119 234h4.5v4h-4.5zM1123.5 222h4.5v4h-4.5zM1141.5 178h4.5v4h-4.5zM1150.5 158h4.5v4h-4.5zM1155 150h4.5v4h-4.5zM1222.5 98h4.5v4h-4.5zM1254 130h4.5v4h-4.5zM1267.5 154h4.5v4h-4.5z" fill="#ff00ff" fill-opacity="0.88" shape-rendering="geometricPrecision"/>
</g>
<rect x="190" y="47" width="1086" height="3" fill="#000" />
<rect x="190" y="690" width="1086" height="2" fill="#000" />
<rect x="190" y="47" width="3" height="645" fill="#000" />
<rect x="193" y="50" width="3" height="640" fill="#1c1c1c" />
<rect x="1274" y="47" width="2" height="645" fill="#000" />
<line x1="283.5" y1="105.4" x2="320.5" y2="90.4" stroke="#000" stroke-width="5" stroke-linecap="round" shape-rendering="geometricPrecision"/>
<polygon points="309,75 351,77.5 323.3,109 320.2,90.4" fill="#000" shape-rendering="geometricPrecision"/>
<line x1="414" y1="127.2" x2="443.8" y2="109.2" stroke="#0000ff" stroke-width="5.5" stroke-linecap="round" shape-rendering="geometricPrecision"/>
<polygon points="431.1,96.2 474,92.3 451.5,126.9 443.8,109.2" fill="#0000ff" shape-rendering="geometricPrecision"/>
<line x1="520.5" y1="131.0" x2="550.8" y2="114" stroke="#ff0066" stroke-width="5.5" stroke-linecap="round" shape-rendering="geometricPrecision"/>
<polygon points="537.9,100.3 580.8,97.2 557.4,131.9 550.8,114" fill="#ff0066" shape-rendering="geometricPrecision"/>
<line x1="666.5" y1="92.8" x2="696.8" y2="75.6" stroke="#ff00ff" stroke-width="5.5" stroke-linecap="round" shape-rendering="geometricPrecision"/>
<polygon points="683.9,62.5 726.1,58.5 703.3,92.8 696.8,75.6" fill="#ff00ff" shape-rendering="geometricPrecision"/>
<g shape-rendering="geometricPrecision">
<text transform="translate(351.04,93.72) scale(1.1052,1)" style="font-family:'Liberation Serif', serif;font-size:48.91px;font-style:italic;" fill="#000">U</text>
<text transform="translate(388.02,100.90) scale(1.0333,1)" style="font-family:'Liberation Serif', serif;font-size:32.84px;" fill="#000">B</text>
<text transform="translate(475.94,95.52) scale(1.1052,1)" style="font-family:'Liberation Serif', serif;font-size:48.91px;font-style:italic;" fill="#000">U</text>
<text transform="translate(512.38,103.07) scale(1.0893,1)" style="font-family:'Liberation Serif', serif;font-size:33.93px;" fill="#000">C</text>
<text transform="translate(572.32,95.52) scale(1.0872,1)" style="font-family:'Liberation Serif', serif;font-size:48.91px;font-style:italic;" fill="#000">U</text>
<text transform="translate(609.19,102.74) scale(1.0513,1)" style="font-family:'Liberation Serif', serif;font-size:33.19px;" fill="#000">D</text>
<text transform="translate(731.04,88.32) scale(1.1086,1)" style="font-family:'Liberation Serif', serif;font-size:48.75px;font-style:italic;" fill="#000">U</text>
<text transform="translate(767.95,95.70) scale(1.0999,1)" style="font-family:'Liberation Serif', serif;font-size:33.14px;" fill="#000">E</text>
<text transform="translate(104.70,116.32) scale(1.0474,1)" style="font-family:'Liberation Serif', serif;font-size:47.70px;" fill="#000">0.5</text>
<text transform="translate(137.70,390.14) scale(1.1236,1)" style="font-family:'Liberation Serif', serif;font-size:46.83px;" fill="#000">0</text>
<text transform="translate(82.92,663.23) scale(1.0700,1)" style="font-family:'Liberation Serif', serif;font-size:47.26px;" fill="#000">-0.5</text>
<text transform="translate(182.64,744.63) scale(1.1288,1)" style="font-family:'Liberation Serif', serif;font-size:47.87px;" fill="#000">0</text>
<text transform="translate(247.71,747.12) scale(1.0911,1)" style="font-family:'Liberation Serif', serif;font-size:47.85px;" fill="#000">0.02</text>
<text transform="translate(365.14,750.33) scale(1.0797,1)" style="font-family:'Liberation Serif', serif;font-size:47.56px;" fill="#000">0.04</text>
<text transform="translate(475.41,750.33) scale(1.0976,1)" style="font-family:'Liberation Serif', serif;font-size:47.56px;" fill="#000">0.06</text>
<text transform="translate(579.65,750.33) scale(1.0766,1)" style="font-family:'Liberation Serif', serif;font-size:47.56px;" fill="#000">0.08</text>
<text transform="translate(703.44,750.33) scale(1.0278,1)" style="font-family:'Liberation Serif', serif;font-size:47.56px;" fill="#000">0.1</text>
<text transform="translate(790.52,750.33) scale(1.0928,1)" style="font-family:'Liberation Serif', serif;font-size:47.56px;" fill="#000">0.12</text>
<text transform="translate(894.64,750.33) scale(1.0797,1)" style="font-family:'Liberation Serif', serif;font-size:47.56px;" fill="#000">0.14</text>
<text transform="translate(1001.73,748.23) scale(1.0851,1)" style="font-family:'Liberation Serif', serif;font-size:47.56px;" fill="#000">0.16</text>
<text transform="translate(1108.32,747.82) scale(1.0887,1)" style="font-family:'Liberation Serif', serif;font-size:47.85px;" fill="#000">0.18</text>
<text transform="translate(1232.70,747.11) scale(1.0815,1)" style="font-family:'Liberation Serif', serif;font-size:48.44px;" fill="#000">0.2</text>
<text transform="translate(655.77,806.2) scale(1.0549,1)" style="font-family:'Liberation Serif', serif;font-size:48.72px">Time(s)</text>
<text transform="translate(64.2,694.78) rotate(-90) scale(0.9665,1)" style="font-family:'Liberation Serif', serif;font-size:56.81px">Reference phase voltages(V)</text>
</g>
</svg>
</body></html>
